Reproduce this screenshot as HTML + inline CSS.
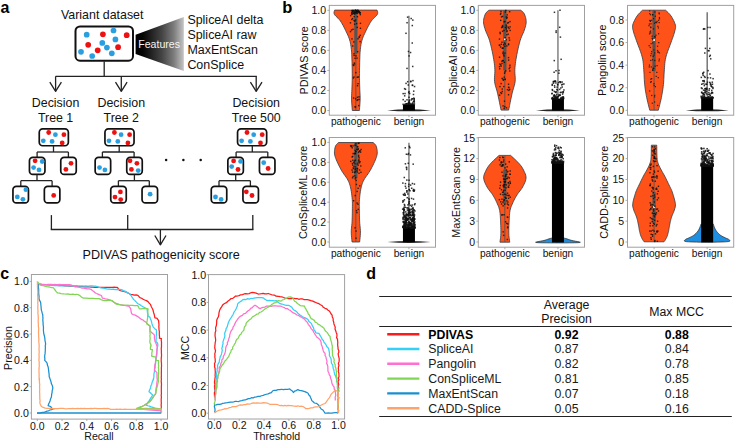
<!DOCTYPE html>
<html><head><meta charset="utf-8"><style>
html,body{margin:0;padding:0;background:#fff;width:735px;height:442px;overflow:hidden}
svg{display:block;font-family:"Liberation Sans", sans-serif}
</style></head><body>
<svg width="735" height="442" viewBox="0 0 735 442">
<rect width="735" height="442" fill="#fff"/>
<text x="0.5" y="12.6" font-size="16" text-anchor="start" font-weight="bold" fill="#000" >a</text>
<text x="61" y="18.6" font-size="12.4" text-anchor="start" font-weight="normal" fill="#111" >Variant dataset</text>
<rect x="75.50" y="26.50" width="57.50" height="34.20" rx="4.5" fill="#fff" stroke="#111" stroke-width="2.0"/>
<circle cx="86.7" cy="34.7" r="2.85" fill="#2a9fe0"/>
<circle cx="102.9" cy="34.3" r="2.85" fill="#ee1111"/>
<circle cx="113.5" cy="30.5" r="2.85" fill="#2a9fe0"/>
<circle cx="126.7" cy="35.2" r="2.85" fill="#ee1111"/>
<circle cx="88.2" cy="44.8" r="2.85" fill="#ee1111"/>
<circle cx="102.3" cy="42.9" r="2.85" fill="#2a9fe0"/>
<circle cx="115.4" cy="39.4" r="2.85" fill="#2a9fe0"/>
<circle cx="106.9" cy="47.6" r="2.85" fill="#2a9fe0"/>
<circle cx="118.1" cy="47.2" r="2.85" fill="#ee1111"/>
<circle cx="97.7" cy="50.3" r="2.85" fill="#ee1111"/>
<circle cx="81" cy="51.8" r="2.85" fill="#2a9fe0"/>
<circle cx="92.2" cy="56" r="2.85" fill="#2a9fe0"/>
<circle cx="111.8" cy="53.3" r="2.85" fill="#2a9fe0"/>
<defs><linearGradient id="fg" x1="0" x2="1" y1="0" y2="0"><stop offset="0" stop-color="#000"/><stop offset="0.15" stop-color="#050505"/><stop offset="0.55" stop-color="#454545"/><stop offset="0.8" stop-color="#7e7e7e"/><stop offset="1" stop-color="#c4c4c4"/></linearGradient></defs>
<polygon points="135.6,34.7 183.8,17.1 183.8,71 135.6,54.1" fill="url(#fg)"/>
<text x="138.2" y="47.9" font-size="10.6" text-anchor="start" font-weight="normal" fill="#f4f4f4" >Features</text>
<text x="187.4" y="24.2" font-size="12.45" text-anchor="start" font-weight="normal" fill="#111" >SpliceAI delta</text>
<text x="187.4" y="39.1" font-size="12.45" text-anchor="start" font-weight="normal" fill="#111" >SpliceAI raw</text>
<text x="187.4" y="54.2" font-size="12.45" text-anchor="start" font-weight="normal" fill="#111" >MaxEntScan</text>
<text x="187.4" y="68.9" font-size="12.45" text-anchor="start" font-weight="normal" fill="#111" >ConSplice</text>
<line x1="104.2" y1="61.3" x2="104.2" y2="76.3" stroke="#222" stroke-width="1.3"/>
<line x1="55.6" y1="76.3" x2="256.8" y2="76.3" stroke="#222" stroke-width="1.3"/>
<line x1="55.6" y1="76.3" x2="55.6" y2="91.3" stroke="#222" stroke-width="1.3"/>
<polyline points="49.80,82.20 55.60,91.30 61.40,82.20" fill="none" stroke="#222" stroke-width="1.3" stroke-linejoin="round"/>
<line x1="121.3" y1="76.3" x2="121.3" y2="91.3" stroke="#222" stroke-width="1.3"/>
<polyline points="115.50,82.20 121.30,91.30 127.10,82.20" fill="none" stroke="#222" stroke-width="1.3" stroke-linejoin="round"/>
<line x1="256.2" y1="76.3" x2="256.2" y2="91.3" stroke="#222" stroke-width="1.3"/>
<polyline points="250.40,82.20 256.20,91.30 262.00,82.20" fill="none" stroke="#222" stroke-width="1.3" stroke-linejoin="round"/>
<text x="55.6" y="106.6" font-size="12.4" text-anchor="middle" font-weight="normal" fill="#111" >Decision</text>
<text x="55.6" y="121.5" font-size="12.4" text-anchor="middle" font-weight="normal" fill="#111" >Tree 1</text>
<text x="121.3" y="106.6" font-size="12.4" text-anchor="middle" font-weight="normal" fill="#111" >Decision</text>
<text x="121.3" y="121.5" font-size="12.4" text-anchor="middle" font-weight="normal" fill="#111" >Tree 2</text>
<text x="256.2" y="106.6" font-size="12.4" text-anchor="middle" font-weight="normal" fill="#111" >Decision</text>
<text x="256.2" y="121.5" font-size="12.4" text-anchor="middle" font-weight="normal" fill="#111" >Tree 500</text>
<rect x="39.25" y="128.85" width="29.10" height="16.90" rx="3.4" fill="#fff" stroke="#111" stroke-width="1.7"/>
<circle cx="48.699999999999996" cy="132.5" r="2.4" fill="#ee1111"/>
<circle cx="55.4" cy="134.7" r="2.4" fill="#2a9fe0"/>
<circle cx="63.9" cy="134.7" r="2.4" fill="#ee1111"/>
<circle cx="43.3" cy="140.8" r="2.4" fill="#2a9fe0"/>
<circle cx="52.099999999999994" cy="141.4" r="2.4" fill="#2a9fe0"/>
<circle cx="62.199999999999996" cy="142.9" r="2.4" fill="#ee1111"/>
<line x1="53.5" y1="146" x2="53.5" y2="152" stroke="#222" stroke-width="1.3"/>
<line x1="37.1" y1="152" x2="68.4" y2="152" stroke="#222" stroke-width="1.3"/>
<line x1="37.1" y1="152" x2="37.1" y2="157.5" stroke="#222" stroke-width="1.3"/>
<line x1="68.4" y1="152" x2="68.4" y2="157.5" stroke="#222" stroke-width="1.3"/>
<rect x="29.45" y="157.45" width="15.50" height="16.90" rx="3.4" fill="#fff" stroke="#111" stroke-width="1.7"/>
<rect x="60.75" y="157.45" width="15.50" height="16.90" rx="3.4" fill="#fff" stroke="#111" stroke-width="1.7"/>
<circle cx="35.1" cy="160.8" r="2.4" fill="#ee1111"/>
<circle cx="42.2" cy="161.5" r="2.4" fill="#2a9fe0"/>
<circle cx="33.6" cy="167.6" r="2.4" fill="#2a9fe0"/>
<circle cx="39" cy="169.9" r="2.4" fill="#2a9fe0"/>
<circle cx="71" cy="163.3" r="2.4" fill="#ee1111"/>
<circle cx="65.9" cy="169.4" r="2.4" fill="#ee1111"/>
<line x1="37" y1="174.5" x2="37" y2="180.7" stroke="#222" stroke-width="1.3"/>
<line x1="20.8" y1="180.7" x2="52.1" y2="180.7" stroke="#222" stroke-width="1.3"/>
<line x1="20.8" y1="180.7" x2="20.8" y2="186.5" stroke="#222" stroke-width="1.3"/>
<line x1="52.1" y1="180.7" x2="52.1" y2="186.5" stroke="#222" stroke-width="1.3"/>
<rect x="12.95" y="186.45" width="15.50" height="16.50" rx="3.4" fill="#fff" stroke="#111" stroke-width="1.7"/>
<rect x="44.35" y="186.45" width="15.50" height="16.50" rx="3.4" fill="#fff" stroke="#111" stroke-width="1.7"/>
<circle cx="25.9" cy="189.7" r="2.4" fill="#2a9fe0"/>
<circle cx="17.3" cy="196.9" r="2.4" fill="#2a9fe0"/>
<circle cx="22.9" cy="199.3" r="2.4" fill="#2a9fe0"/>
<circle cx="53.7" cy="195.4" r="2.4" fill="#ee1111"/>
<rect x="104.95" y="128.85" width="29.10" height="16.90" rx="3.4" fill="#fff" stroke="#111" stroke-width="1.7"/>
<circle cx="114.4" cy="132.5" r="2.4" fill="#ee1111"/>
<circle cx="121.1" cy="134.7" r="2.4" fill="#2a9fe0"/>
<circle cx="129.6" cy="134.7" r="2.4" fill="#ee1111"/>
<circle cx="109.0" cy="140.8" r="2.4" fill="#2a9fe0"/>
<circle cx="117.8" cy="141.4" r="2.4" fill="#2a9fe0"/>
<circle cx="127.9" cy="142.9" r="2.4" fill="#ee1111"/>
<line x1="119.2" y1="146" x2="119.2" y2="152" stroke="#222" stroke-width="1.3"/>
<line x1="102.4" y1="152" x2="134.1" y2="152" stroke="#222" stroke-width="1.3"/>
<line x1="102.4" y1="152" x2="102.4" y2="157.5" stroke="#222" stroke-width="1.3"/>
<line x1="134.1" y1="152" x2="134.1" y2="157.5" stroke="#222" stroke-width="1.3"/>
<rect x="95.15" y="157.45" width="15.50" height="16.90" rx="3.4" fill="#fff" stroke="#111" stroke-width="1.7"/>
<rect x="126.75" y="157.45" width="15.50" height="16.90" rx="3.4" fill="#fff" stroke="#111" stroke-width="1.7"/>
<circle cx="99.5" cy="167.6" r="2.4" fill="#2a9fe0"/>
<circle cx="104.9" cy="169.9" r="2.4" fill="#2a9fe0"/>
<circle cx="130" cy="160.8" r="2.4" fill="#ee1111"/>
<circle cx="136.9" cy="163.3" r="2.4" fill="#ee1111"/>
<circle cx="131.4" cy="169.4" r="2.4" fill="#ee1111"/>
<circle cx="138.2" cy="170.6" r="2.4" fill="#2a9fe0"/>
<line x1="134.4" y1="174.5" x2="134.4" y2="180.7" stroke="#222" stroke-width="1.3"/>
<line x1="118.4" y1="180.7" x2="149.3" y2="180.7" stroke="#222" stroke-width="1.3"/>
<line x1="118.4" y1="180.7" x2="118.4" y2="186.5" stroke="#222" stroke-width="1.3"/>
<line x1="149.3" y1="180.7" x2="149.3" y2="186.5" stroke="#222" stroke-width="1.3"/>
<rect x="110.75" y="186.45" width="15.50" height="16.50" rx="3.4" fill="#fff" stroke="#111" stroke-width="1.7"/>
<rect x="142.05" y="186.45" width="15.50" height="16.50" rx="3.4" fill="#fff" stroke="#111" stroke-width="1.7"/>
<circle cx="120.4" cy="191.9" r="2.4" fill="#ee1111"/>
<circle cx="115" cy="197.1" r="2.4" fill="#ee1111"/>
<circle cx="120.7" cy="199.6" r="2.4" fill="#ee1111"/>
<circle cx="150.1" cy="194.2" r="2.4" fill="#2a9fe0"/>
<rect x="237.55" y="128.85" width="29.10" height="16.90" rx="3.4" fill="#fff" stroke="#111" stroke-width="1.7"/>
<circle cx="247.0" cy="132.5" r="2.4" fill="#ee1111"/>
<circle cx="253.7" cy="134.7" r="2.4" fill="#2a9fe0"/>
<circle cx="262.2" cy="134.7" r="2.4" fill="#ee1111"/>
<circle cx="241.6" cy="140.8" r="2.4" fill="#2a9fe0"/>
<circle cx="250.4" cy="141.4" r="2.4" fill="#2a9fe0"/>
<circle cx="260.5" cy="142.9" r="2.4" fill="#ee1111"/>
<line x1="252.3" y1="146" x2="252.3" y2="152" stroke="#222" stroke-width="1.3"/>
<line x1="236.1" y1="152" x2="267.8" y2="152" stroke="#222" stroke-width="1.3"/>
<line x1="236.1" y1="152" x2="236.1" y2="157.5" stroke="#222" stroke-width="1.3"/>
<line x1="267.8" y1="152" x2="267.8" y2="157.5" stroke="#222" stroke-width="1.3"/>
<rect x="227.85" y="157.45" width="15.50" height="16.90" rx="3.4" fill="#fff" stroke="#111" stroke-width="1.7"/>
<rect x="259.45" y="157.45" width="15.50" height="16.90" rx="3.4" fill="#fff" stroke="#111" stroke-width="1.7"/>
<circle cx="233.6" cy="160.9" r="2.4" fill="#ee1111"/>
<circle cx="240.6" cy="161.4" r="2.4" fill="#2a9fe0"/>
<circle cx="231.7" cy="166.6" r="2.4" fill="#2a9fe0"/>
<circle cx="238" cy="169.5" r="2.4" fill="#ee1111"/>
<circle cx="263.7" cy="162.7" r="2.4" fill="#2a9fe0"/>
<circle cx="268.1" cy="168.5" r="2.4" fill="#ee1111"/>
<line x1="235.7" y1="174.5" x2="235.7" y2="180.7" stroke="#222" stroke-width="1.3"/>
<line x1="219" y1="180.7" x2="250.4" y2="180.7" stroke="#222" stroke-width="1.3"/>
<line x1="219" y1="180.7" x2="219" y2="186.5" stroke="#222" stroke-width="1.3"/>
<line x1="250.4" y1="180.7" x2="250.4" y2="186.5" stroke="#222" stroke-width="1.3"/>
<rect x="211.25" y="186.45" width="15.50" height="16.50" rx="3.4" fill="#fff" stroke="#111" stroke-width="1.7"/>
<rect x="242.95" y="186.45" width="15.50" height="16.50" rx="3.4" fill="#fff" stroke="#111" stroke-width="1.7"/>
<circle cx="215.5" cy="197" r="2.4" fill="#2a9fe0"/>
<circle cx="221.1" cy="199.4" r="2.4" fill="#2a9fe0"/>
<circle cx="246.3" cy="191.8" r="2.4" fill="#ee1111"/>
<circle cx="252" cy="195.5" r="2.4" fill="#ee1111"/>
<circle cx="166.1" cy="160.1" r="1.25" fill="#111"/>
<circle cx="183.4" cy="160.1" r="1.25" fill="#111"/>
<circle cx="200.7" cy="160.1" r="1.25" fill="#111"/>
<line x1="51.4" y1="215.1" x2="51.4" y2="229.5" stroke="#222" stroke-width="1.3"/>
<line x1="127.7" y1="215.1" x2="127.7" y2="229.5" stroke="#222" stroke-width="1.3"/>
<line x1="252.8" y1="215.1" x2="252.8" y2="229.5" stroke="#222" stroke-width="1.3"/>
<line x1="50.75" y1="229.5" x2="253.45" y2="229.5" stroke="#222" stroke-width="1.3"/>
<line x1="160.4" y1="229.5" x2="160.4" y2="244.8" stroke="#222" stroke-width="1.3"/>
<polyline points="154.80,235.50 160.40,244.80 166.00,235.50" fill="none" stroke="#222" stroke-width="1.3" stroke-linejoin="round"/>
<text x="82.5" y="259.4" font-size="12.6" text-anchor="start" font-weight="normal" fill="#111" >PDIVAS pathogenicity score</text>
<text x="282.3" y="13.2" font-size="16.5" text-anchor="start" font-weight="bold" fill="#000" >b</text>
<rect x="329.3" y="5.4" width="106.2" height="109.8" fill="none" stroke="#a0a0a0" stroke-width="1"/>
<line x1="327.3" y1="10.3" x2="329.3" y2="10.3" stroke="#999" stroke-width="0.8"/>
<text x="326.0" y="14.100000000000001" font-size="10.5" text-anchor="end" font-weight="normal" fill="#111" >1.0</text>
<line x1="327.3" y1="30.34" x2="329.3" y2="30.34" stroke="#999" stroke-width="0.8"/>
<text x="326.0" y="34.14" font-size="10.5" text-anchor="end" font-weight="normal" fill="#111" >0.8</text>
<line x1="327.3" y1="50.379999999999995" x2="329.3" y2="50.379999999999995" stroke="#999" stroke-width="0.8"/>
<text x="326.0" y="54.17999999999999" font-size="10.5" text-anchor="end" font-weight="normal" fill="#111" >0.6</text>
<line x1="327.3" y1="70.42" x2="329.3" y2="70.42" stroke="#999" stroke-width="0.8"/>
<text x="326.0" y="74.22" font-size="10.5" text-anchor="end" font-weight="normal" fill="#111" >0.4</text>
<line x1="327.3" y1="90.46" x2="329.3" y2="90.46" stroke="#999" stroke-width="0.8"/>
<text x="326.0" y="94.25999999999999" font-size="10.5" text-anchor="end" font-weight="normal" fill="#111" >0.2</text>
<line x1="327.3" y1="110.49999999999999" x2="329.3" y2="110.49999999999999" stroke="#999" stroke-width="0.8"/>
<text x="326.0" y="114.29999999999998" font-size="10.5" text-anchor="end" font-weight="normal" fill="#111" >0.0</text>
<line x1="355.85" y1="115.2" x2="355.85" y2="117.2" stroke="#999" stroke-width="0.8"/>
<line x1="408.95000000000005" y1="115.2" x2="408.95000000000005" y2="117.2" stroke="#999" stroke-width="0.8"/>
<text x="308.0" y="60.300000000000004" font-size="10.8" text-anchor="middle" font-weight="normal" fill="#111" transform="rotate(-90 308.0 60.300000000000004)">PDIVAS score</text>
<text x="355.85" y="124.8" font-size="10.2" text-anchor="middle" font-weight="normal" fill="#111" >pathogenic</text>
<text x="408.95000000000005" y="124.8" font-size="10.2" text-anchor="middle" font-weight="normal" fill="#111" >benign</text>
<path d="M334.65,10.10 L334.54,10.53 L334.34,11.10 L334.12,11.79 L333.99,12.57 L334.04,13.41 L334.35,14.30 L334.99,15.23 L335.91,16.21 L337.00,17.26 L338.17,18.39 L339.32,19.60 L340.35,20.90 L341.28,22.33 L342.20,23.88 L343.10,25.52 L343.97,27.20 L344.80,28.87 L345.60,30.50 L346.37,32.09 L347.13,33.68 L347.85,35.26 L348.52,36.84 L349.12,38.42 L349.65,40.00 L350.08,41.56 L350.43,43.10 L350.72,44.63 L350.95,46.18 L351.16,47.77 L351.35,49.40 L351.52,51.03 L351.64,52.64 L351.74,54.29 L351.81,56.02 L351.88,57.91 L351.95,60.00 L352.02,62.40 L352.09,65.08 L352.16,67.91 L352.21,70.76 L352.24,73.50 L352.25,76.00 L352.24,78.24 L352.20,80.34 L352.14,82.32 L352.08,84.23 L352.01,86.11 L351.95,88.00 L351.88,89.87 L351.78,91.69 L351.68,93.47 L351.60,95.26 L351.55,97.06 L351.55,98.90 L351.62,100.93 L351.74,103.14 L351.90,105.38 L352.06,107.47 L352.21,109.23 L352.30,110.50 L359.40,110.50 L359.49,109.23 L359.64,107.47 L359.80,105.38 L359.96,103.14 L360.08,100.93 L360.15,98.90 L360.15,97.06 L360.10,95.26 L360.02,93.47 L359.92,91.69 L359.82,89.87 L359.75,88.00 L359.69,86.11 L359.62,84.23 L359.56,82.32 L359.50,80.34 L359.46,78.24 L359.45,76.00 L359.46,73.50 L359.49,70.76 L359.54,67.91 L359.61,65.08 L359.68,62.40 L359.75,60.00 L359.82,57.91 L359.89,56.02 L359.96,54.29 L360.06,52.64 L360.18,51.03 L360.35,49.40 L360.54,47.77 L360.75,46.18 L360.98,44.63 L361.27,43.10 L361.62,41.56 L362.05,40.00 L362.58,38.42 L363.18,36.84 L363.85,35.26 L364.57,33.68 L365.33,32.09 L366.10,30.50 L366.90,28.87 L367.73,27.20 L368.60,25.52 L369.50,23.88 L370.42,22.33 L371.35,20.90 L372.38,19.60 L373.53,18.39 L374.70,17.26 L375.79,16.21 L376.71,15.23 L377.35,14.30 L377.66,13.41 L377.71,12.57 L377.58,11.79 L377.36,11.10 L377.16,10.53 L377.05,10.10 Z" fill="#ff5218" stroke="#333a44" stroke-width="0.8"/>
<line x1="355.85" y1="10.2" x2="355.85" y2="110.5" stroke="#555" stroke-width="0.9"/>
<rect x="354.25" y="10.2" width="3.2" height="43.5" fill="#555"/>
<g><rect x="352.01" y="10.73" width="1.40" height="1.40" fill="#111" opacity="0.85"/><rect x="351.30" y="11.97" width="1.40" height="1.40" fill="#111" opacity="0.85"/><rect x="353.94" y="11.54" width="1.40" height="1.40" fill="#111" opacity="0.85"/><rect x="355.22" y="9.72" width="1.40" height="1.40" fill="#111" opacity="0.85"/><rect x="354.55" y="9.64" width="1.40" height="1.40" fill="#111" opacity="0.85"/><rect x="351.47" y="9.77" width="1.40" height="1.40" fill="#111" opacity="0.85"/><rect x="358.09" y="11.11" width="1.40" height="1.40" fill="#111" opacity="0.85"/><rect x="352.66" y="9.97" width="1.40" height="1.40" fill="#111" opacity="0.85"/><rect x="359.18" y="11.88" width="1.40" height="1.40" fill="#111" opacity="0.85"/><rect x="354.22" y="11.69" width="1.40" height="1.40" fill="#111" opacity="0.85"/><rect x="351.07" y="13.21" width="1.40" height="1.40" fill="#111" opacity="0.85"/><rect x="353.26" y="12.76" width="1.40" height="1.40" fill="#111" opacity="0.85"/><rect x="351.71" y="10.05" width="1.40" height="1.40" fill="#111" opacity="0.85"/><rect x="358.00" y="10.67" width="1.40" height="1.40" fill="#111" opacity="0.85"/><rect x="355.88" y="10.19" width="1.40" height="1.40" fill="#111" opacity="0.85"/><rect x="354.00" y="11.93" width="1.40" height="1.40" fill="#111" opacity="0.85"/><rect x="351.22" y="11.58" width="1.40" height="1.40" fill="#111" opacity="0.85"/><rect x="352.50" y="9.73" width="1.40" height="1.40" fill="#111" opacity="0.85"/><rect x="354.50" y="12.09" width="1.40" height="1.40" fill="#111" opacity="0.85"/><rect x="355.92" y="10.69" width="1.40" height="1.40" fill="#111" opacity="0.85"/><rect x="353.35" y="11.22" width="1.40" height="1.40" fill="#111" opacity="0.85"/><rect x="356.94" y="12.52" width="1.40" height="1.40" fill="#111" opacity="0.85"/><rect x="355.82" y="10.43" width="1.40" height="1.40" fill="#111" opacity="0.85"/><rect x="358.53" y="11.50" width="1.40" height="1.40" fill="#111" opacity="0.85"/><rect x="353.24" y="12.27" width="1.40" height="1.40" fill="#111" opacity="0.85"/><rect x="351.71" y="13.22" width="1.40" height="1.40" fill="#111" opacity="0.85"/><rect x="357.46" y="11.09" width="1.40" height="1.40" fill="#111" opacity="0.85"/><rect x="355.05" y="10.08" width="1.40" height="1.40" fill="#111" opacity="0.85"/><rect x="356.66" y="9.65" width="1.40" height="1.40" fill="#111" opacity="0.85"/><rect x="355.81" y="12.41" width="1.40" height="1.40" fill="#111" opacity="0.85"/><rect x="353.47" y="12.83" width="1.40" height="1.40" fill="#111" opacity="0.85"/><rect x="356.00" y="12.14" width="1.40" height="1.40" fill="#111" opacity="0.85"/><rect x="354.76" y="11.70" width="1.40" height="1.40" fill="#111" opacity="0.85"/><rect x="359.15" y="12.69" width="1.40" height="1.40" fill="#111" opacity="0.85"/><rect x="356.63" y="11.30" width="1.40" height="1.40" fill="#111" opacity="0.85"/><rect x="356.96" y="9.73" width="1.40" height="1.40" fill="#111" opacity="0.85"/><rect x="359.59" y="11.96" width="1.40" height="1.40" fill="#111" opacity="0.85"/><rect x="353.21" y="12.62" width="1.40" height="1.40" fill="#111" opacity="0.85"/><rect x="356.67" y="10.97" width="1.40" height="1.40" fill="#111" opacity="0.85"/><rect x="354.81" y="9.59" width="1.40" height="1.40" fill="#111" opacity="0.85"/><rect x="351.70" y="10.14" width="1.40" height="1.40" fill="#111" opacity="0.85"/><rect x="357.56" y="9.72" width="1.40" height="1.40" fill="#111" opacity="0.85"/><rect x="352.88" y="9.99" width="1.40" height="1.40" fill="#111" opacity="0.85"/><rect x="358.49" y="10.99" width="1.40" height="1.40" fill="#111" opacity="0.85"/><rect x="354.69" y="9.81" width="1.40" height="1.40" fill="#111" opacity="0.85"/></g>
<g><rect x="359.75" y="27.59" width="1.40" height="1.40" fill="#111" opacity="0.85"/><rect x="359.52" y="34.60" width="1.40" height="1.40" fill="#111" opacity="0.85"/><rect x="354.13" y="20.54" width="1.40" height="1.40" fill="#111" opacity="0.85"/><rect x="359.76" y="22.63" width="1.40" height="1.40" fill="#111" opacity="0.85"/><rect x="351.26" y="38.20" width="1.40" height="1.40" fill="#111" opacity="0.85"/><rect x="351.93" y="17.88" width="1.40" height="1.40" fill="#111" opacity="0.85"/><rect x="354.97" y="19.37" width="1.40" height="1.40" fill="#111" opacity="0.85"/><rect x="352.30" y="28.62" width="1.40" height="1.40" fill="#111" opacity="0.85"/><rect x="354.18" y="13.41" width="1.40" height="1.40" fill="#111" opacity="0.85"/><rect x="355.95" y="22.90" width="1.40" height="1.40" fill="#111" opacity="0.85"/><rect x="357.29" y="38.08" width="1.40" height="1.40" fill="#111" opacity="0.85"/><rect x="356.56" y="26.70" width="1.40" height="1.40" fill="#111" opacity="0.85"/><rect x="349.80" y="30.88" width="1.40" height="1.40" fill="#111" opacity="0.85"/><rect x="358.51" y="36.69" width="1.40" height="1.40" fill="#111" opacity="0.85"/><rect x="358.72" y="36.04" width="1.40" height="1.40" fill="#111" opacity="0.85"/><rect x="353.94" y="23.50" width="1.40" height="1.40" fill="#111" opacity="0.85"/><rect x="356.76" y="15.99" width="1.40" height="1.40" fill="#111" opacity="0.85"/><rect x="349.96" y="14.92" width="1.40" height="1.40" fill="#111" opacity="0.85"/><rect x="351.10" y="18.73" width="1.40" height="1.40" fill="#111" opacity="0.85"/><rect x="349.78" y="22.14" width="1.40" height="1.40" fill="#111" opacity="0.85"/><rect x="350.97" y="13.31" width="1.40" height="1.40" fill="#111" opacity="0.85"/><rect x="353.51" y="15.94" width="1.40" height="1.40" fill="#111" opacity="0.85"/><rect x="359.64" y="13.96" width="1.40" height="1.40" fill="#111" opacity="0.85"/><rect x="350.93" y="29.27" width="1.40" height="1.40" fill="#111" opacity="0.85"/><rect x="353.32" y="19.86" width="1.40" height="1.40" fill="#111" opacity="0.85"/></g>
<g><rect x="353.08" y="64.79" width="1.40" height="1.40" fill="#111" opacity="0.85"/><rect x="358.39" y="98.73" width="1.40" height="1.40" fill="#111" opacity="0.85"/><rect x="355.07" y="71.92" width="1.40" height="1.40" fill="#111" opacity="0.85"/><rect x="352.03" y="45.31" width="1.40" height="1.40" fill="#111" opacity="0.85"/><rect x="353.84" y="63.28" width="1.40" height="1.40" fill="#111" opacity="0.85"/><rect x="352.92" y="97.32" width="1.40" height="1.40" fill="#111" opacity="0.85"/><rect x="359.44" y="40.92" width="1.40" height="1.40" fill="#111" opacity="0.85"/><rect x="353.31" y="76.28" width="1.40" height="1.40" fill="#111" opacity="0.85"/><rect x="352.68" y="77.32" width="1.40" height="1.40" fill="#111" opacity="0.85"/><rect x="357.64" y="76.27" width="1.40" height="1.40" fill="#111" opacity="0.85"/><rect x="356.42" y="99.73" width="1.40" height="1.40" fill="#111" opacity="0.85"/><rect x="354.36" y="57.58" width="1.40" height="1.40" fill="#111" opacity="0.85"/><rect x="356.93" y="50.99" width="1.40" height="1.40" fill="#111" opacity="0.85"/><rect x="356.61" y="76.58" width="1.40" height="1.40" fill="#111" opacity="0.85"/><rect x="353.59" y="62.38" width="1.40" height="1.40" fill="#111" opacity="0.85"/><rect x="358.34" y="96.11" width="1.40" height="1.40" fill="#111" opacity="0.85"/><rect x="357.15" y="98.98" width="1.40" height="1.40" fill="#111" opacity="0.85"/><rect x="356.73" y="96.58" width="1.40" height="1.40" fill="#111" opacity="0.85"/><rect x="355.26" y="55.17" width="1.40" height="1.40" fill="#111" opacity="0.85"/><rect x="352.55" y="64.19" width="1.40" height="1.40" fill="#111" opacity="0.85"/><rect x="353.09" y="41.26" width="1.40" height="1.40" fill="#111" opacity="0.85"/><rect x="356.29" y="57.44" width="1.40" height="1.40" fill="#111" opacity="0.85"/><rect x="354.85" y="106.26" width="1.40" height="1.40" fill="#111" opacity="0.85"/><rect x="358.01" y="104.89" width="1.40" height="1.40" fill="#111" opacity="0.85"/><rect x="354.38" y="106.15" width="1.40" height="1.40" fill="#111" opacity="0.85"/><rect x="353.48" y="54.73" width="1.40" height="1.40" fill="#111" opacity="0.85"/><rect x="353.29" y="53.07" width="1.40" height="1.40" fill="#111" opacity="0.85"/><rect x="357.35" y="82.98" width="1.40" height="1.40" fill="#111" opacity="0.85"/><rect x="355.01" y="98.13" width="1.40" height="1.40" fill="#111" opacity="0.85"/><rect x="356.84" y="85.01" width="1.40" height="1.40" fill="#111" opacity="0.85"/></g>
<line x1="408.95000000000005" y1="15.8" x2="408.95000000000005" y2="110.3" stroke="#555" stroke-width="1.1"/>
<path d="M387.05,110.4 Q408.95,108.0 430.85,110.4 Q408.95,112.2 387.05,110.4 Z" fill="#262626"/>
<rect x="402.95000000000005" y="104.6" width="12" height="6" fill="#000"/>
<g><rect x="410.13" y="103.70" width="1.50" height="1.50" fill="#111" opacity="0.85"/><rect x="411.59" y="84.41" width="1.50" height="1.50" fill="#111" opacity="0.85"/><rect x="407.94" y="91.81" width="1.50" height="1.50" fill="#111" opacity="0.85"/><rect x="411.67" y="103.42" width="1.50" height="1.50" fill="#111" opacity="0.85"/><rect x="411.81" y="102.19" width="1.50" height="1.50" fill="#111" opacity="0.85"/><rect x="406.95" y="80.95" width="1.50" height="1.50" fill="#111" opacity="0.85"/><rect x="413.56" y="101.25" width="1.50" height="1.50" fill="#111" opacity="0.85"/><rect x="404.24" y="92.79" width="1.50" height="1.50" fill="#111" opacity="0.85"/><rect x="404.01" y="103.61" width="1.50" height="1.50" fill="#111" opacity="0.85"/><rect x="411.88" y="84.67" width="1.50" height="1.50" fill="#111" opacity="0.85"/><rect x="412.12" y="103.55" width="1.50" height="1.50" fill="#111" opacity="0.85"/><rect x="410.09" y="80.44" width="1.50" height="1.50" fill="#111" opacity="0.85"/><rect x="408.78" y="101.97" width="1.50" height="1.50" fill="#111" opacity="0.85"/><rect x="402.37" y="103.60" width="1.50" height="1.50" fill="#111" opacity="0.85"/><rect x="410.00" y="80.99" width="1.50" height="1.50" fill="#111" opacity="0.85"/><rect x="413.40" y="98.82" width="1.50" height="1.50" fill="#111" opacity="0.85"/><rect x="412.66" y="100.71" width="1.50" height="1.50" fill="#111" opacity="0.85"/><rect x="404.73" y="88.55" width="1.50" height="1.50" fill="#111" opacity="0.85"/><rect x="405.72" y="102.97" width="1.50" height="1.50" fill="#111" opacity="0.85"/><rect x="409.24" y="103.05" width="1.50" height="1.50" fill="#111" opacity="0.85"/><rect x="407.23" y="102.91" width="1.50" height="1.50" fill="#111" opacity="0.85"/><rect x="413.12" y="103.60" width="1.50" height="1.50" fill="#111" opacity="0.85"/><rect x="407.70" y="101.93" width="1.50" height="1.50" fill="#111" opacity="0.85"/><rect x="413.05" y="97.38" width="1.50" height="1.50" fill="#111" opacity="0.85"/><rect x="413.21" y="100.94" width="1.50" height="1.50" fill="#111" opacity="0.85"/><rect x="408.58" y="99.38" width="1.50" height="1.50" fill="#111" opacity="0.85"/><rect x="402.42" y="98.89" width="1.50" height="1.50" fill="#111" opacity="0.85"/><rect x="404.40" y="100.60" width="1.50" height="1.50" fill="#111" opacity="0.85"/><rect x="411.79" y="103.75" width="1.50" height="1.50" fill="#111" opacity="0.85"/><rect x="407.88" y="103.45" width="1.50" height="1.50" fill="#111" opacity="0.85"/><rect x="408.88" y="92.78" width="1.50" height="1.50" fill="#111" opacity="0.85"/><rect x="408.42" y="102.26" width="1.50" height="1.50" fill="#111" opacity="0.85"/><rect x="411.61" y="98.12" width="1.50" height="1.50" fill="#111" opacity="0.85"/><rect x="408.92" y="103.66" width="1.50" height="1.50" fill="#111" opacity="0.85"/><rect x="405.52" y="103.00" width="1.50" height="1.50" fill="#111" opacity="0.85"/><rect x="408.29" y="90.91" width="1.50" height="1.50" fill="#111" opacity="0.85"/><rect x="411.32" y="97.96" width="1.50" height="1.50" fill="#111" opacity="0.85"/><rect x="407.52" y="84.26" width="1.50" height="1.50" fill="#111" opacity="0.85"/><rect x="408.27" y="96.56" width="1.50" height="1.50" fill="#111" opacity="0.85"/><rect x="410.51" y="99.15" width="1.50" height="1.50" fill="#111" opacity="0.85"/><rect x="408.60" y="100.38" width="1.50" height="1.50" fill="#111" opacity="0.85"/><rect x="413.50" y="99.88" width="1.50" height="1.50" fill="#111" opacity="0.85"/><rect x="412.72" y="93.73" width="1.50" height="1.50" fill="#111" opacity="0.85"/><rect x="405.32" y="82.64" width="1.50" height="1.50" fill="#111" opacity="0.85"/><rect x="413.52" y="98.01" width="1.50" height="1.50" fill="#111" opacity="0.85"/><rect x="403.85" y="87.91" width="1.50" height="1.50" fill="#111" opacity="0.85"/><rect x="407.51" y="103.62" width="1.50" height="1.50" fill="#111" opacity="0.85"/><rect x="405.09" y="103.72" width="1.50" height="1.50" fill="#111" opacity="0.85"/><rect x="410.23" y="103.71" width="1.50" height="1.50" fill="#111" opacity="0.85"/><rect x="412.96" y="90.42" width="1.50" height="1.50" fill="#111" opacity="0.85"/><rect x="410.79" y="103.52" width="1.50" height="1.50" fill="#111" opacity="0.85"/><rect x="403.92" y="95.07" width="1.50" height="1.50" fill="#111" opacity="0.85"/><rect x="413.81" y="85.81" width="1.50" height="1.50" fill="#111" opacity="0.85"/><rect x="413.63" y="103.20" width="1.50" height="1.50" fill="#111" opacity="0.85"/><rect x="408.05" y="101.30" width="1.50" height="1.50" fill="#111" opacity="0.85"/><rect x="412.19" y="79.87" width="1.50" height="1.50" fill="#111" opacity="0.85"/><rect x="407.38" y="103.49" width="1.50" height="1.50" fill="#111" opacity="0.85"/><rect x="406.27" y="99.07" width="1.50" height="1.50" fill="#111" opacity="0.85"/><rect x="406.02" y="103.33" width="1.50" height="1.50" fill="#111" opacity="0.85"/><rect x="402.43" y="92.89" width="1.50" height="1.50" fill="#111" opacity="0.85"/></g>
<g><rect x="407.72" y="50.71" width="1.50" height="1.50" fill="#111" opacity="0.85"/><rect x="406.85" y="16.41" width="1.50" height="1.50" fill="#111" opacity="0.85"/><rect x="408.30" y="55.18" width="1.50" height="1.50" fill="#111" opacity="0.85"/><rect x="412.08" y="19.36" width="1.50" height="1.50" fill="#111" opacity="0.85"/><rect x="411.97" y="65.71" width="1.50" height="1.50" fill="#111" opacity="0.85"/><rect x="406.32" y="21.96" width="1.50" height="1.50" fill="#111" opacity="0.85"/><rect x="410.43" y="17.78" width="1.50" height="1.50" fill="#111" opacity="0.85"/><rect x="405.24" y="32.56" width="1.50" height="1.50" fill="#111" opacity="0.85"/><rect x="411.49" y="42.27" width="1.50" height="1.50" fill="#111" opacity="0.85"/><rect x="406.27" y="67.66" width="1.50" height="1.50" fill="#111" opacity="0.85"/><rect x="411.55" y="24.81" width="1.50" height="1.50" fill="#111" opacity="0.85"/><rect x="409.80" y="51.77" width="1.50" height="1.50" fill="#111" opacity="0.85"/></g>
<rect x="478.3" y="5.4" width="106.2" height="109.8" fill="none" stroke="#a0a0a0" stroke-width="1"/>
<line x1="476.3" y1="10.3" x2="478.3" y2="10.3" stroke="#999" stroke-width="0.8"/>
<text x="475.0" y="14.100000000000001" font-size="10.5" text-anchor="end" font-weight="normal" fill="#111" >1.0</text>
<line x1="476.3" y1="30.34" x2="478.3" y2="30.34" stroke="#999" stroke-width="0.8"/>
<text x="475.0" y="34.14" font-size="10.5" text-anchor="end" font-weight="normal" fill="#111" >0.8</text>
<line x1="476.3" y1="50.379999999999995" x2="478.3" y2="50.379999999999995" stroke="#999" stroke-width="0.8"/>
<text x="475.0" y="54.17999999999999" font-size="10.5" text-anchor="end" font-weight="normal" fill="#111" >0.6</text>
<line x1="476.3" y1="70.42" x2="478.3" y2="70.42" stroke="#999" stroke-width="0.8"/>
<text x="475.0" y="74.22" font-size="10.5" text-anchor="end" font-weight="normal" fill="#111" >0.4</text>
<line x1="476.3" y1="90.46" x2="478.3" y2="90.46" stroke="#999" stroke-width="0.8"/>
<text x="475.0" y="94.25999999999999" font-size="10.5" text-anchor="end" font-weight="normal" fill="#111" >0.2</text>
<line x1="476.3" y1="110.49999999999999" x2="478.3" y2="110.49999999999999" stroke="#999" stroke-width="0.8"/>
<text x="475.0" y="114.29999999999998" font-size="10.5" text-anchor="end" font-weight="normal" fill="#111" >0.0</text>
<line x1="504.85" y1="115.2" x2="504.85" y2="117.2" stroke="#999" stroke-width="0.8"/>
<line x1="557.95" y1="115.2" x2="557.95" y2="117.2" stroke="#999" stroke-width="0.8"/>
<text x="456.8" y="60.300000000000004" font-size="10.8" text-anchor="middle" font-weight="normal" fill="#111" transform="rotate(-90 456.8 60.300000000000004)">SpliceAI score</text>
<text x="504.85" y="124.8" font-size="10.2" text-anchor="middle" font-weight="normal" fill="#111" >pathogenic</text>
<text x="557.95" y="124.8" font-size="10.2" text-anchor="middle" font-weight="normal" fill="#111" >benign</text>
<path d="M488.85,10.20 L488.45,10.57 L487.88,11.04 L487.22,11.62 L486.52,12.30 L485.88,13.10 L485.35,14.00 L484.90,15.05 L484.47,16.26 L484.09,17.57 L483.78,18.94 L483.58,20.34 L483.50,21.70 L483.57,23.02 L483.75,24.33 L484.04,25.66 L484.42,27.03 L484.86,28.47 L485.35,30.00 L485.93,31.58 L486.61,33.18 L487.36,34.85 L488.14,36.63 L488.90,38.56 L489.60,40.70 L490.27,43.13 L490.95,45.85 L491.62,48.73 L492.25,51.63 L492.81,54.43 L493.30,57.00 L493.70,59.34 L494.04,61.53 L494.33,63.63 L494.55,65.67 L494.72,67.68 L494.85,69.70 L494.87,71.72 L494.76,73.70 L494.61,75.66 L494.47,77.61 L494.43,79.55 L494.55,81.50 L494.85,83.40 L495.29,85.21 L495.81,87.03 L496.39,88.92 L496.98,90.95 L497.55,93.20 L498.14,95.91 L498.81,99.07 L499.49,102.38 L500.12,105.53 L500.66,108.20 L501.05,110.10 L508.65,110.10 L509.04,108.20 L509.58,105.53 L510.21,102.38 L510.89,99.07 L511.56,95.91 L512.15,93.20 L512.72,90.95 L513.31,88.92 L513.89,87.03 L514.41,85.21 L514.85,83.40 L515.15,81.50 L515.27,79.55 L515.23,77.61 L515.09,75.66 L514.94,73.70 L514.83,71.72 L514.85,69.70 L514.98,67.68 L515.15,65.67 L515.38,63.63 L515.66,61.53 L516.00,59.34 L516.40,57.00 L516.89,54.43 L517.45,51.63 L518.08,48.73 L518.75,45.85 L519.43,43.13 L520.10,40.70 L520.80,38.56 L521.56,36.63 L522.34,34.85 L523.09,33.18 L523.77,31.58 L524.35,30.00 L524.84,28.47 L525.28,27.03 L525.66,25.66 L525.95,24.33 L526.13,23.02 L526.20,21.70 L526.12,20.34 L525.92,18.94 L525.61,17.57 L525.23,16.26 L524.80,15.05 L524.35,14.00 L523.82,13.10 L523.18,12.30 L522.48,11.62 L521.82,11.04 L521.25,10.57 L520.85,10.20 Z" fill="#ff5218" stroke="#333a44" stroke-width="0.8"/>
<line x1="504.85" y1="10.2" x2="504.85" y2="110.2" stroke="#555" stroke-width="0.9"/>
<rect x="503.25" y="10.2" width="3.2" height="60.2" fill="#555"/>
<circle cx="504.85" cy="39.3" r="1" fill="#fff"/>
<g><rect x="499.28" y="85.90" width="1.40" height="1.40" fill="#111" opacity="0.85"/><rect x="503.33" y="29.70" width="1.40" height="1.40" fill="#111" opacity="0.85"/><rect x="508.97" y="88.69" width="1.40" height="1.40" fill="#111" opacity="0.85"/><rect x="507.47" y="33.50" width="1.40" height="1.40" fill="#111" opacity="0.85"/><rect x="508.07" y="86.81" width="1.40" height="1.40" fill="#111" opacity="0.85"/><rect x="508.14" y="89.69" width="1.40" height="1.40" fill="#111" opacity="0.85"/><rect x="502.38" y="47.30" width="1.40" height="1.40" fill="#111" opacity="0.85"/><rect x="508.84" y="39.49" width="1.40" height="1.40" fill="#111" opacity="0.85"/><rect x="500.07" y="64.11" width="1.40" height="1.40" fill="#111" opacity="0.85"/><rect x="501.27" y="41.49" width="1.40" height="1.40" fill="#111" opacity="0.85"/><rect x="500.43" y="82.89" width="1.40" height="1.40" fill="#111" opacity="0.85"/><rect x="500.87" y="92.72" width="1.40" height="1.40" fill="#111" opacity="0.85"/><rect x="502.01" y="59.78" width="1.40" height="1.40" fill="#111" opacity="0.85"/><rect x="501.84" y="24.85" width="1.40" height="1.40" fill="#111" opacity="0.85"/><rect x="500.61" y="43.58" width="1.40" height="1.40" fill="#111" opacity="0.85"/><rect x="498.85" y="56.52" width="1.40" height="1.40" fill="#111" opacity="0.85"/><rect x="498.82" y="65.90" width="1.40" height="1.40" fill="#111" opacity="0.85"/><rect x="504.71" y="26.63" width="1.40" height="1.40" fill="#111" opacity="0.85"/><rect x="503.87" y="72.59" width="1.40" height="1.40" fill="#111" opacity="0.85"/><rect x="499.82" y="13.66" width="1.40" height="1.40" fill="#111" opacity="0.85"/><rect x="503.40" y="20.95" width="1.40" height="1.40" fill="#111" opacity="0.85"/><rect x="507.83" y="43.98" width="1.40" height="1.40" fill="#111" opacity="0.85"/><rect x="504.22" y="52.42" width="1.40" height="1.40" fill="#111" opacity="0.85"/><rect x="509.46" y="29.74" width="1.40" height="1.40" fill="#111" opacity="0.85"/><rect x="507.81" y="56.91" width="1.40" height="1.40" fill="#111" opacity="0.85"/><rect x="505.65" y="28.43" width="1.40" height="1.40" fill="#111" opacity="0.85"/><rect x="502.47" y="51.42" width="1.40" height="1.40" fill="#111" opacity="0.85"/><rect x="500.08" y="91.94" width="1.40" height="1.40" fill="#111" opacity="0.85"/><rect x="506.80" y="88.98" width="1.40" height="1.40" fill="#111" opacity="0.85"/><rect x="500.45" y="65.37" width="1.40" height="1.40" fill="#111" opacity="0.85"/><rect x="507.90" y="86.69" width="1.40" height="1.40" fill="#111" opacity="0.85"/><rect x="506.03" y="17.65" width="1.40" height="1.40" fill="#111" opacity="0.85"/><rect x="501.31" y="62.70" width="1.40" height="1.40" fill="#111" opacity="0.85"/><rect x="503.70" y="61.61" width="1.40" height="1.40" fill="#111" opacity="0.85"/><rect x="503.55" y="76.44" width="1.40" height="1.40" fill="#111" opacity="0.85"/><rect x="509.23" y="64.58" width="1.40" height="1.40" fill="#111" opacity="0.85"/><rect x="504.67" y="11.35" width="1.40" height="1.40" fill="#111" opacity="0.85"/><rect x="509.27" y="66.53" width="1.40" height="1.40" fill="#111" opacity="0.85"/><rect x="502.57" y="60.02" width="1.40" height="1.40" fill="#111" opacity="0.85"/><rect x="503.40" y="107.66" width="1.40" height="1.40" fill="#111" opacity="0.85"/><rect x="504.18" y="45.61" width="1.40" height="1.40" fill="#111" opacity="0.85"/><rect x="504.20" y="71.27" width="1.40" height="1.40" fill="#111" opacity="0.85"/><rect x="502.43" y="105.18" width="1.40" height="1.40" fill="#111" opacity="0.85"/><rect x="503.04" y="85.85" width="1.40" height="1.40" fill="#111" opacity="0.85"/><rect x="498.90" y="94.50" width="1.40" height="1.40" fill="#111" opacity="0.85"/><rect x="501.21" y="60.53" width="1.40" height="1.40" fill="#111" opacity="0.85"/><rect x="504.47" y="37.05" width="1.40" height="1.40" fill="#111" opacity="0.85"/><rect x="505.88" y="25.45" width="1.40" height="1.40" fill="#111" opacity="0.85"/><rect x="508.32" y="27.79" width="1.40" height="1.40" fill="#111" opacity="0.85"/><rect x="502.24" y="52.73" width="1.40" height="1.40" fill="#111" opacity="0.85"/><rect x="500.29" y="10.62" width="1.40" height="1.40" fill="#111" opacity="0.85"/><rect x="505.73" y="27.23" width="1.40" height="1.40" fill="#111" opacity="0.85"/><rect x="507.84" y="94.06" width="1.40" height="1.40" fill="#111" opacity="0.85"/><rect x="505.55" y="16.30" width="1.40" height="1.40" fill="#111" opacity="0.85"/><rect x="507.58" y="26.58" width="1.40" height="1.40" fill="#111" opacity="0.85"/><rect x="504.41" y="78.78" width="1.40" height="1.40" fill="#111" opacity="0.85"/><rect x="507.83" y="43.24" width="1.40" height="1.40" fill="#111" opacity="0.85"/><rect x="507.74" y="21.88" width="1.40" height="1.40" fill="#111" opacity="0.85"/><rect x="508.47" y="37.17" width="1.40" height="1.40" fill="#111" opacity="0.85"/><rect x="506.28" y="30.07" width="1.40" height="1.40" fill="#111" opacity="0.85"/><rect x="498.99" y="68.07" width="1.40" height="1.40" fill="#111" opacity="0.85"/><rect x="502.62" y="79.60" width="1.40" height="1.40" fill="#111" opacity="0.85"/><rect x="507.84" y="83.55" width="1.40" height="1.40" fill="#111" opacity="0.85"/><rect x="505.56" y="39.08" width="1.40" height="1.40" fill="#111" opacity="0.85"/><rect x="506.14" y="34.09" width="1.40" height="1.40" fill="#111" opacity="0.85"/><rect x="498.69" y="44.44" width="1.40" height="1.40" fill="#111" opacity="0.85"/><rect x="506.88" y="22.33" width="1.40" height="1.40" fill="#111" opacity="0.85"/><rect x="504.54" y="43.35" width="1.40" height="1.40" fill="#111" opacity="0.85"/><rect x="499.38" y="31.73" width="1.40" height="1.40" fill="#111" opacity="0.85"/><rect x="501.42" y="26.38" width="1.40" height="1.40" fill="#111" opacity="0.85"/><rect x="501.57" y="88.34" width="1.40" height="1.40" fill="#111" opacity="0.85"/><rect x="500.91" y="26.88" width="1.40" height="1.40" fill="#111" opacity="0.85"/><rect x="509.38" y="26.17" width="1.40" height="1.40" fill="#111" opacity="0.85"/><rect x="502.86" y="44.07" width="1.40" height="1.40" fill="#111" opacity="0.85"/><rect x="506.17" y="45.26" width="1.40" height="1.40" fill="#111" opacity="0.85"/><rect x="505.44" y="24.36" width="1.40" height="1.40" fill="#111" opacity="0.85"/><rect x="499.50" y="32.90" width="1.40" height="1.40" fill="#111" opacity="0.85"/><rect x="501.44" y="77.72" width="1.40" height="1.40" fill="#111" opacity="0.85"/><rect x="502.00" y="25.95" width="1.40" height="1.40" fill="#111" opacity="0.85"/><rect x="498.79" y="38.38" width="1.40" height="1.40" fill="#111" opacity="0.85"/><rect x="501.61" y="90.76" width="1.40" height="1.40" fill="#111" opacity="0.85"/><rect x="506.26" y="30.83" width="1.40" height="1.40" fill="#111" opacity="0.85"/><rect x="501.85" y="30.57" width="1.40" height="1.40" fill="#111" opacity="0.85"/><rect x="503.76" y="42.29" width="1.40" height="1.40" fill="#111" opacity="0.85"/><rect x="499.95" y="46.28" width="1.40" height="1.40" fill="#111" opacity="0.85"/><rect x="500.84" y="16.20" width="1.40" height="1.40" fill="#111" opacity="0.85"/><rect x="508.95" y="11.01" width="1.40" height="1.40" fill="#111" opacity="0.85"/><rect x="503.77" y="100.51" width="1.40" height="1.40" fill="#111" opacity="0.85"/><rect x="509.30" y="20.89" width="1.40" height="1.40" fill="#111" opacity="0.85"/><rect x="501.61" y="47.66" width="1.40" height="1.40" fill="#111" opacity="0.85"/><rect x="509.05" y="70.27" width="1.40" height="1.40" fill="#111" opacity="0.85"/><rect x="505.05" y="70.17" width="1.40" height="1.40" fill="#111" opacity="0.85"/><rect x="504.41" y="78.46" width="1.40" height="1.40" fill="#111" opacity="0.85"/><rect x="500.11" y="12.55" width="1.40" height="1.40" fill="#111" opacity="0.85"/><rect x="504.25" y="20.87" width="1.40" height="1.40" fill="#111" opacity="0.85"/><rect x="506.39" y="16.62" width="1.40" height="1.40" fill="#111" opacity="0.85"/><rect x="508.52" y="67.91" width="1.40" height="1.40" fill="#111" opacity="0.85"/><rect x="498.92" y="44.69" width="1.40" height="1.40" fill="#111" opacity="0.85"/><rect x="504.09" y="105.90" width="1.40" height="1.40" fill="#111" opacity="0.85"/><rect x="501.97" y="47.55" width="1.40" height="1.40" fill="#111" opacity="0.85"/><rect x="502.43" y="78.59" width="1.40" height="1.40" fill="#111" opacity="0.85"/><rect x="507.89" y="59.40" width="1.40" height="1.40" fill="#111" opacity="0.85"/><rect x="505.79" y="107.10" width="1.40" height="1.40" fill="#111" opacity="0.85"/><rect x="499.97" y="19.65" width="1.40" height="1.40" fill="#111" opacity="0.85"/><rect x="506.49" y="14.17" width="1.40" height="1.40" fill="#111" opacity="0.85"/><rect x="501.84" y="15.70" width="1.40" height="1.40" fill="#111" opacity="0.85"/><rect x="502.97" y="54.25" width="1.40" height="1.40" fill="#111" opacity="0.85"/><rect x="505.13" y="9.77" width="1.40" height="1.40" fill="#111" opacity="0.85"/><rect x="503.36" y="55.28" width="1.40" height="1.40" fill="#111" opacity="0.85"/><rect x="499.18" y="63.38" width="1.40" height="1.40" fill="#111" opacity="0.85"/></g>
<line x1="557.95" y1="10.2" x2="557.95" y2="110.3" stroke="#555" stroke-width="1.1"/>
<path d="M535.95,110.4 Q557.95,108.0 579.95,110.4 Q557.95,112.2 535.95,110.4 Z" fill="#262626"/>
<rect x="551.95" y="98.7" width="12" height="11.8" fill="#000"/>
<g><rect x="561.22" y="98.17" width="1.50" height="1.50" fill="#111" opacity="0.85"/><rect x="562.43" y="97.31" width="1.50" height="1.50" fill="#111" opacity="0.85"/><rect x="554.39" y="97.57" width="1.50" height="1.50" fill="#111" opacity="0.85"/><rect x="553.48" y="94.46" width="1.50" height="1.50" fill="#111" opacity="0.85"/><rect x="562.67" y="96.46" width="1.50" height="1.50" fill="#111" opacity="0.85"/><rect x="560.94" y="84.11" width="1.50" height="1.50" fill="#111" opacity="0.85"/><rect x="562.16" y="91.96" width="1.50" height="1.50" fill="#111" opacity="0.85"/><rect x="557.79" y="81.84" width="1.50" height="1.50" fill="#111" opacity="0.85"/><rect x="551.79" y="89.63" width="1.50" height="1.50" fill="#111" opacity="0.85"/><rect x="556.61" y="89.25" width="1.50" height="1.50" fill="#111" opacity="0.85"/><rect x="558.93" y="88.64" width="1.50" height="1.50" fill="#111" opacity="0.85"/><rect x="551.79" y="97.31" width="1.50" height="1.50" fill="#111" opacity="0.85"/><rect x="552.73" y="82.42" width="1.50" height="1.50" fill="#111" opacity="0.85"/><rect x="555.32" y="95.11" width="1.50" height="1.50" fill="#111" opacity="0.85"/><rect x="560.07" y="97.21" width="1.50" height="1.50" fill="#111" opacity="0.85"/><rect x="554.32" y="80.31" width="1.50" height="1.50" fill="#111" opacity="0.85"/><rect x="554.81" y="91.34" width="1.50" height="1.50" fill="#111" opacity="0.85"/><rect x="555.93" y="93.58" width="1.50" height="1.50" fill="#111" opacity="0.85"/><rect x="553.14" y="97.99" width="1.50" height="1.50" fill="#111" opacity="0.85"/><rect x="562.07" y="97.81" width="1.50" height="1.50" fill="#111" opacity="0.85"/><rect x="553.84" y="94.70" width="1.50" height="1.50" fill="#111" opacity="0.85"/><rect x="563.16" y="83.25" width="1.50" height="1.50" fill="#111" opacity="0.85"/><rect x="552.88" y="95.46" width="1.50" height="1.50" fill="#111" opacity="0.85"/><rect x="552.29" y="97.89" width="1.50" height="1.50" fill="#111" opacity="0.85"/><rect x="552.29" y="96.80" width="1.50" height="1.50" fill="#111" opacity="0.85"/><rect x="554.30" y="97.64" width="1.50" height="1.50" fill="#111" opacity="0.85"/><rect x="561.85" y="93.33" width="1.50" height="1.50" fill="#111" opacity="0.85"/><rect x="556.15" y="88.73" width="1.50" height="1.50" fill="#111" opacity="0.85"/><rect x="557.49" y="95.96" width="1.50" height="1.50" fill="#111" opacity="0.85"/><rect x="555.26" y="96.42" width="1.50" height="1.50" fill="#111" opacity="0.85"/><rect x="554.53" y="98.23" width="1.50" height="1.50" fill="#111" opacity="0.85"/><rect x="552.71" y="80.69" width="1.50" height="1.50" fill="#111" opacity="0.85"/><rect x="558.76" y="94.59" width="1.50" height="1.50" fill="#111" opacity="0.85"/><rect x="553.79" y="84.91" width="1.50" height="1.50" fill="#111" opacity="0.85"/><rect x="554.18" y="97.42" width="1.50" height="1.50" fill="#111" opacity="0.85"/><rect x="556.55" y="96.15" width="1.50" height="1.50" fill="#111" opacity="0.85"/><rect x="561.38" y="81.28" width="1.50" height="1.50" fill="#111" opacity="0.85"/><rect x="551.46" y="84.54" width="1.50" height="1.50" fill="#111" opacity="0.85"/><rect x="559.71" y="98.24" width="1.50" height="1.50" fill="#111" opacity="0.85"/><rect x="556.88" y="83.66" width="1.50" height="1.50" fill="#111" opacity="0.85"/><rect x="551.20" y="92.96" width="1.50" height="1.50" fill="#111" opacity="0.85"/><rect x="562.32" y="96.25" width="1.50" height="1.50" fill="#111" opacity="0.85"/><rect x="561.47" y="86.26" width="1.50" height="1.50" fill="#111" opacity="0.85"/><rect x="554.18" y="80.49" width="1.50" height="1.50" fill="#111" opacity="0.85"/><rect x="553.05" y="98.16" width="1.50" height="1.50" fill="#111" opacity="0.85"/><rect x="559.38" y="94.25" width="1.50" height="1.50" fill="#111" opacity="0.85"/><rect x="559.86" y="81.81" width="1.50" height="1.50" fill="#111" opacity="0.85"/><rect x="560.38" y="91.56" width="1.50" height="1.50" fill="#111" opacity="0.85"/><rect x="557.82" y="95.34" width="1.50" height="1.50" fill="#111" opacity="0.85"/><rect x="560.59" y="98.24" width="1.50" height="1.50" fill="#111" opacity="0.85"/><rect x="562.24" y="97.68" width="1.50" height="1.50" fill="#111" opacity="0.85"/><rect x="554.85" y="91.60" width="1.50" height="1.50" fill="#111" opacity="0.85"/><rect x="554.22" y="98.11" width="1.50" height="1.50" fill="#111" opacity="0.85"/><rect x="559.58" y="91.83" width="1.50" height="1.50" fill="#111" opacity="0.85"/><rect x="552.04" y="98.15" width="1.50" height="1.50" fill="#111" opacity="0.85"/><rect x="558.19" y="94.21" width="1.50" height="1.50" fill="#111" opacity="0.85"/><rect x="553.88" y="96.29" width="1.50" height="1.50" fill="#111" opacity="0.85"/><rect x="551.33" y="92.65" width="1.50" height="1.50" fill="#111" opacity="0.85"/><rect x="556.73" y="97.18" width="1.50" height="1.50" fill="#111" opacity="0.85"/><rect x="558.93" y="81.07" width="1.50" height="1.50" fill="#111" opacity="0.85"/><rect x="556.90" y="84.13" width="1.50" height="1.50" fill="#111" opacity="0.85"/><rect x="554.16" y="97.66" width="1.50" height="1.50" fill="#111" opacity="0.85"/><rect x="559.66" y="81.00" width="1.50" height="1.50" fill="#111" opacity="0.85"/><rect x="551.46" y="97.13" width="1.50" height="1.50" fill="#111" opacity="0.85"/><rect x="559.29" y="94.68" width="1.50" height="1.50" fill="#111" opacity="0.85"/><rect x="554.29" y="95.88" width="1.50" height="1.50" fill="#111" opacity="0.85"/><rect x="562.30" y="91.05" width="1.50" height="1.50" fill="#111" opacity="0.85"/><rect x="551.61" y="97.71" width="1.50" height="1.50" fill="#111" opacity="0.85"/><rect x="556.25" y="96.84" width="1.50" height="1.50" fill="#111" opacity="0.85"/><rect x="553.58" y="90.65" width="1.50" height="1.50" fill="#111" opacity="0.85"/><rect x="560.07" y="87.23" width="1.50" height="1.50" fill="#111" opacity="0.85"/><rect x="553.66" y="94.57" width="1.50" height="1.50" fill="#111" opacity="0.85"/><rect x="554.94" y="80.60" width="1.50" height="1.50" fill="#111" opacity="0.85"/><rect x="553.97" y="86.45" width="1.50" height="1.50" fill="#111" opacity="0.85"/><rect x="560.33" y="97.74" width="1.50" height="1.50" fill="#111" opacity="0.85"/><rect x="562.62" y="97.24" width="1.50" height="1.50" fill="#111" opacity="0.85"/><rect x="553.45" y="94.72" width="1.50" height="1.50" fill="#111" opacity="0.85"/><rect x="556.20" y="97.73" width="1.50" height="1.50" fill="#111" opacity="0.85"/><rect x="562.59" y="91.11" width="1.50" height="1.50" fill="#111" opacity="0.85"/><rect x="555.92" y="98.06" width="1.50" height="1.50" fill="#111" opacity="0.85"/><rect x="562.89" y="97.79" width="1.50" height="1.50" fill="#111" opacity="0.85"/><rect x="551.82" y="98.07" width="1.50" height="1.50" fill="#111" opacity="0.85"/><rect x="555.92" y="98.23" width="1.50" height="1.50" fill="#111" opacity="0.85"/><rect x="561.80" y="83.57" width="1.50" height="1.50" fill="#111" opacity="0.85"/><rect x="563.17" y="89.24" width="1.50" height="1.50" fill="#111" opacity="0.85"/><rect x="555.15" y="82.22" width="1.50" height="1.50" fill="#111" opacity="0.85"/><rect x="562.43" y="97.92" width="1.50" height="1.50" fill="#111" opacity="0.85"/><rect x="551.58" y="88.84" width="1.50" height="1.50" fill="#111" opacity="0.85"/><rect x="555.74" y="91.13" width="1.50" height="1.50" fill="#111" opacity="0.85"/><rect x="555.18" y="96.46" width="1.50" height="1.50" fill="#111" opacity="0.85"/><rect x="551.23" y="97.98" width="1.50" height="1.50" fill="#111" opacity="0.85"/><rect x="555.42" y="97.36" width="1.50" height="1.50" fill="#111" opacity="0.85"/><rect x="552.68" y="81.22" width="1.50" height="1.50" fill="#111" opacity="0.85"/><rect x="553.69" y="80.84" width="1.50" height="1.50" fill="#111" opacity="0.85"/><rect x="561.06" y="96.65" width="1.50" height="1.50" fill="#111" opacity="0.85"/><rect x="556.39" y="86.38" width="1.50" height="1.50" fill="#111" opacity="0.85"/><rect x="556.88" y="98.24" width="1.50" height="1.50" fill="#111" opacity="0.85"/><rect x="562.23" y="96.47" width="1.50" height="1.50" fill="#111" opacity="0.85"/><rect x="555.57" y="97.88" width="1.50" height="1.50" fill="#111" opacity="0.85"/><rect x="551.56" y="83.61" width="1.50" height="1.50" fill="#111" opacity="0.85"/></g>
<g><rect x="559.69" y="36.36" width="1.50" height="1.50" fill="#111" opacity="0.85"/><rect x="553.53" y="59.85" width="1.50" height="1.50" fill="#111" opacity="0.85"/><rect x="553.70" y="11.55" width="1.50" height="1.50" fill="#111" opacity="0.85"/><rect x="555.26" y="69.98" width="1.50" height="1.50" fill="#111" opacity="0.85"/><rect x="560.39" y="58.57" width="1.50" height="1.50" fill="#111" opacity="0.85"/><rect x="555.38" y="31.63" width="1.50" height="1.50" fill="#111" opacity="0.85"/><rect x="558.14" y="72.46" width="1.50" height="1.50" fill="#111" opacity="0.85"/><rect x="558.93" y="26.55" width="1.50" height="1.50" fill="#111" opacity="0.85"/><rect x="555.41" y="30.14" width="1.50" height="1.50" fill="#111" opacity="0.85"/><rect x="559.25" y="9.50" width="1.50" height="1.50" fill="#111" opacity="0.85"/><rect x="558.27" y="69.74" width="1.50" height="1.50" fill="#111" opacity="0.85"/><rect x="553.39" y="71.50" width="1.50" height="1.50" fill="#111" opacity="0.85"/></g>
<rect x="627.5" y="5.4" width="106.2" height="109.8" fill="none" stroke="#a0a0a0" stroke-width="1"/>
<line x1="625.5" y1="20.0" x2="627.5" y2="20.0" stroke="#999" stroke-width="0.8"/>
<text x="624.2" y="23.8" font-size="10.5" text-anchor="end" font-weight="normal" fill="#111" >0.8</text>
<line x1="625.5" y1="42.575" x2="627.5" y2="42.575" stroke="#999" stroke-width="0.8"/>
<text x="624.2" y="46.375" font-size="10.5" text-anchor="end" font-weight="normal" fill="#111" >0.6</text>
<line x1="625.5" y1="65.15" x2="627.5" y2="65.15" stroke="#999" stroke-width="0.8"/>
<text x="624.2" y="68.95" font-size="10.5" text-anchor="end" font-weight="normal" fill="#111" >0.4</text>
<line x1="625.5" y1="87.725" x2="627.5" y2="87.725" stroke="#999" stroke-width="0.8"/>
<text x="624.2" y="91.52499999999999" font-size="10.5" text-anchor="end" font-weight="normal" fill="#111" >0.2</text>
<line x1="625.5" y1="110.3" x2="627.5" y2="110.3" stroke="#999" stroke-width="0.8"/>
<text x="624.2" y="114.1" font-size="10.5" text-anchor="end" font-weight="normal" fill="#111" >0.0</text>
<line x1="654.05" y1="115.2" x2="654.05" y2="117.2" stroke="#999" stroke-width="0.8"/>
<line x1="707.15" y1="115.2" x2="707.15" y2="117.2" stroke="#999" stroke-width="0.8"/>
<text x="606.5" y="60.300000000000004" font-size="10.8" text-anchor="middle" font-weight="normal" fill="#111" transform="rotate(-90 606.5 60.300000000000004)">Pangolin score</text>
<text x="654.05" y="124.8" font-size="10.2" text-anchor="middle" font-weight="normal" fill="#111" >pathogenic</text>
<text x="707.15" y="124.8" font-size="10.2" text-anchor="middle" font-weight="normal" fill="#111" >benign</text>
<path d="M642.50,10.20 L641.89,10.79 L641.05,11.58 L640.05,12.53 L638.99,13.61 L637.96,14.78 L637.05,16.00 L636.20,17.35 L635.33,18.87 L634.48,20.48 L633.72,22.11 L633.11,23.67 L632.70,25.10 L632.52,26.36 L632.52,27.50 L632.67,28.58 L632.92,29.65 L633.23,30.77 L633.55,32.00 L633.88,33.26 L634.26,34.49 L634.69,35.76 L635.20,37.17 L635.78,38.79 L636.45,40.70 L637.29,43.02 L638.31,45.70 L639.41,48.60 L640.49,51.55 L641.45,54.40 L642.20,57.00 L642.71,59.30 L643.05,61.43 L643.28,63.45 L643.44,65.45 L643.58,67.51 L643.75,69.70 L643.92,72.05 L644.06,74.51 L644.17,77.02 L644.29,79.54 L644.44,82.01 L644.65,84.40 L644.91,86.69 L645.21,88.93 L645.54,91.13 L645.90,93.30 L646.29,95.45 L646.70,97.60 L647.19,99.88 L647.76,102.31 L648.35,104.72 L648.92,106.96 L649.41,108.84 L649.75,110.20 L658.35,110.20 L658.69,108.84 L659.18,106.96 L659.75,104.72 L660.34,102.31 L660.91,99.88 L661.40,97.60 L661.81,95.45 L662.20,93.30 L662.56,91.13 L662.89,88.93 L663.19,86.69 L663.45,84.40 L663.66,82.01 L663.81,79.54 L663.93,77.02 L664.04,74.51 L664.18,72.05 L664.35,69.70 L664.52,67.51 L664.66,65.45 L664.82,63.45 L665.05,61.43 L665.39,59.30 L665.90,57.00 L666.65,54.40 L667.61,51.55 L668.69,48.60 L669.79,45.70 L670.81,43.02 L671.65,40.70 L672.32,38.79 L672.90,37.17 L673.41,35.76 L673.84,34.49 L674.22,33.26 L674.55,32.00 L674.87,30.77 L675.18,29.65 L675.43,28.58 L675.58,27.50 L675.58,26.36 L675.40,25.10 L674.99,23.67 L674.38,22.11 L673.62,20.48 L672.77,18.87 L671.90,17.35 L671.05,16.00 L670.14,14.78 L669.11,13.61 L668.05,12.53 L667.05,11.58 L666.21,10.79 L665.60,10.20 Z" fill="#ff5218" stroke="#333a44" stroke-width="0.8"/>
<line x1="654.05" y1="10.2" x2="654.05" y2="110.2" stroke="#555" stroke-width="0.9"/>
<rect x="652.45" y="10.2" width="3.2" height="61.0" fill="#555"/>
<circle cx="654.05" cy="40" r="1" fill="#fff"/>
<g><rect x="653.18" y="67.75" width="1.20" height="1.20" fill="#111" opacity="0.85"/><rect x="658.44" y="12.41" width="1.20" height="1.20" fill="#111" opacity="0.85"/><rect x="650.71" y="53.09" width="1.20" height="1.20" fill="#111" opacity="0.85"/><rect x="653.38" y="49.38" width="1.20" height="1.20" fill="#111" opacity="0.85"/><rect x="649.96" y="14.16" width="1.20" height="1.20" fill="#111" opacity="0.85"/><rect x="656.07" y="22.11" width="1.20" height="1.20" fill="#111" opacity="0.85"/><rect x="656.45" y="20.80" width="1.20" height="1.20" fill="#111" opacity="0.85"/><rect x="651.56" y="35.56" width="1.20" height="1.20" fill="#111" opacity="0.85"/><rect x="651.93" y="59.17" width="1.20" height="1.20" fill="#111" opacity="0.85"/><rect x="648.82" y="23.45" width="1.20" height="1.20" fill="#111" opacity="0.85"/><rect x="656.23" y="71.79" width="1.20" height="1.20" fill="#111" opacity="0.85"/><rect x="648.66" y="66.33" width="1.20" height="1.20" fill="#111" opacity="0.85"/><rect x="654.03" y="96.34" width="1.20" height="1.20" fill="#111" opacity="0.85"/><rect x="658.73" y="58.58" width="1.20" height="1.20" fill="#111" opacity="0.85"/><rect x="658.82" y="16.94" width="1.20" height="1.20" fill="#111" opacity="0.85"/><rect x="648.87" y="64.52" width="1.20" height="1.20" fill="#111" opacity="0.85"/><rect x="653.43" y="84.92" width="1.20" height="1.20" fill="#111" opacity="0.85"/><rect x="652.87" y="28.32" width="1.20" height="1.20" fill="#111" opacity="0.85"/><rect x="652.54" y="67.71" width="1.20" height="1.20" fill="#111" opacity="0.85"/><rect x="655.37" y="34.61" width="1.20" height="1.20" fill="#111" opacity="0.85"/><rect x="657.27" y="25.73" width="1.20" height="1.20" fill="#111" opacity="0.85"/><rect x="649.28" y="31.47" width="1.20" height="1.20" fill="#111" opacity="0.85"/><rect x="651.18" y="19.64" width="1.20" height="1.20" fill="#111" opacity="0.85"/><rect x="652.05" y="38.55" width="1.20" height="1.20" fill="#111" opacity="0.85"/><rect x="650.14" y="26.39" width="1.20" height="1.20" fill="#111" opacity="0.85"/><rect x="650.65" y="66.31" width="1.20" height="1.20" fill="#111" opacity="0.85"/><rect x="657.68" y="77.07" width="1.20" height="1.20" fill="#111" opacity="0.85"/><rect x="651.54" y="37.70" width="1.20" height="1.20" fill="#111" opacity="0.85"/><rect x="658.87" y="52.26" width="1.20" height="1.20" fill="#111" opacity="0.85"/><rect x="650.50" y="43.11" width="1.20" height="1.20" fill="#111" opacity="0.85"/><rect x="655.14" y="21.73" width="1.20" height="1.20" fill="#111" opacity="0.85"/><rect x="649.08" y="10.34" width="1.20" height="1.20" fill="#111" opacity="0.85"/><rect x="656.96" y="45.70" width="1.20" height="1.20" fill="#111" opacity="0.85"/><rect x="658.01" y="19.66" width="1.20" height="1.20" fill="#111" opacity="0.85"/><rect x="651.18" y="94.88" width="1.20" height="1.20" fill="#111" opacity="0.85"/><rect x="650.04" y="81.60" width="1.20" height="1.20" fill="#111" opacity="0.85"/><rect x="654.37" y="11.42" width="1.20" height="1.20" fill="#111" opacity="0.85"/><rect x="652.04" y="14.03" width="1.20" height="1.20" fill="#111" opacity="0.85"/><rect x="652.89" y="18.03" width="1.20" height="1.20" fill="#111" opacity="0.85"/><rect x="656.51" y="65.02" width="1.20" height="1.20" fill="#111" opacity="0.85"/><rect x="649.11" y="13.08" width="1.20" height="1.20" fill="#111" opacity="0.85"/><rect x="654.77" y="36.38" width="1.20" height="1.20" fill="#111" opacity="0.85"/><rect x="652.01" y="69.51" width="1.20" height="1.20" fill="#111" opacity="0.85"/><rect x="650.19" y="78.61" width="1.20" height="1.20" fill="#111" opacity="0.85"/><rect x="654.54" y="65.54" width="1.20" height="1.20" fill="#111" opacity="0.85"/><rect x="650.19" y="32.37" width="1.20" height="1.20" fill="#111" opacity="0.85"/><rect x="651.70" y="102.61" width="1.20" height="1.20" fill="#111" opacity="0.85"/><rect x="649.99" y="30.49" width="1.20" height="1.20" fill="#111" opacity="0.85"/><rect x="650.19" y="59.86" width="1.20" height="1.20" fill="#111" opacity="0.85"/><rect x="653.98" y="22.59" width="1.20" height="1.20" fill="#111" opacity="0.85"/><rect x="649.07" y="90.39" width="1.20" height="1.20" fill="#111" opacity="0.85"/><rect x="654.00" y="52.33" width="1.20" height="1.20" fill="#111" opacity="0.85"/><rect x="648.95" y="33.26" width="1.20" height="1.20" fill="#111" opacity="0.85"/><rect x="655.60" y="75.77" width="1.20" height="1.20" fill="#111" opacity="0.85"/><rect x="651.07" y="51.08" width="1.20" height="1.20" fill="#111" opacity="0.85"/><rect x="658.44" y="60.30" width="1.20" height="1.20" fill="#111" opacity="0.85"/><rect x="654.18" y="59.85" width="1.20" height="1.20" fill="#111" opacity="0.85"/><rect x="652.53" y="55.70" width="1.20" height="1.20" fill="#111" opacity="0.85"/><rect x="658.91" y="18.15" width="1.20" height="1.20" fill="#111" opacity="0.85"/><rect x="650.12" y="55.10" width="1.20" height="1.20" fill="#111" opacity="0.85"/><rect x="650.19" y="27.07" width="1.20" height="1.20" fill="#111" opacity="0.85"/><rect x="657.08" y="104.83" width="1.20" height="1.20" fill="#111" opacity="0.85"/><rect x="656.97" y="49.90" width="1.20" height="1.20" fill="#111" opacity="0.85"/><rect x="657.66" y="51.39" width="1.20" height="1.20" fill="#111" opacity="0.85"/><rect x="649.74" y="46.82" width="1.20" height="1.20" fill="#111" opacity="0.85"/><rect x="654.00" y="101.44" width="1.20" height="1.20" fill="#111" opacity="0.85"/><rect x="657.96" y="33.15" width="1.20" height="1.20" fill="#111" opacity="0.85"/><rect x="654.79" y="86.07" width="1.20" height="1.20" fill="#111" opacity="0.85"/><rect x="653.50" y="54.47" width="1.20" height="1.20" fill="#111" opacity="0.85"/><rect x="651.07" y="78.02" width="1.20" height="1.20" fill="#111" opacity="0.85"/><rect x="658.13" y="42.03" width="1.20" height="1.20" fill="#111" opacity="0.85"/><rect x="653.35" y="83.08" width="1.20" height="1.20" fill="#111" opacity="0.85"/><rect x="658.59" y="21.97" width="1.20" height="1.20" fill="#111" opacity="0.85"/><rect x="649.34" y="71.78" width="1.20" height="1.20" fill="#111" opacity="0.85"/><rect x="658.68" y="13.24" width="1.20" height="1.20" fill="#111" opacity="0.85"/><rect x="648.54" y="45.06" width="1.20" height="1.20" fill="#111" opacity="0.85"/><rect x="652.22" y="14.28" width="1.20" height="1.20" fill="#111" opacity="0.85"/><rect x="654.77" y="15.64" width="1.20" height="1.20" fill="#111" opacity="0.85"/><rect x="649.71" y="20.69" width="1.20" height="1.20" fill="#111" opacity="0.85"/><rect x="650.39" y="23.21" width="1.20" height="1.20" fill="#111" opacity="0.85"/><rect x="657.26" y="51.54" width="1.20" height="1.20" fill="#111" opacity="0.85"/><rect x="649.96" y="20.39" width="1.20" height="1.20" fill="#111" opacity="0.85"/><rect x="652.35" y="69.45" width="1.20" height="1.20" fill="#111" opacity="0.85"/><rect x="652.17" y="42.29" width="1.20" height="1.20" fill="#111" opacity="0.85"/><rect x="650.67" y="81.07" width="1.20" height="1.20" fill="#111" opacity="0.85"/><rect x="657.82" y="27.29" width="1.20" height="1.20" fill="#111" opacity="0.85"/><rect x="654.14" y="94.73" width="1.20" height="1.20" fill="#111" opacity="0.85"/><rect x="648.37" y="25.09" width="1.20" height="1.20" fill="#111" opacity="0.85"/><rect x="649.25" y="19.81" width="1.20" height="1.20" fill="#111" opacity="0.85"/><rect x="654.00" y="36.13" width="1.20" height="1.20" fill="#111" opacity="0.85"/></g>
<line x1="707.15" y1="12.2" x2="707.15" y2="110.3" stroke="#444" stroke-width="1.1"/>
<path d="M685.55,110.4 Q707.15,108.0 728.75,110.4 Q707.15,112.2 685.55,110.4 Z" fill="#262626"/>
<rect x="701.15" y="98" width="12" height="12.5" fill="#000"/>
<g><rect x="704.07" y="88.12" width="1.50" height="1.50" fill="#111" opacity="0.85"/><rect x="707.39" y="93.76" width="1.50" height="1.50" fill="#111" opacity="0.85"/><rect x="708.31" y="93.64" width="1.50" height="1.50" fill="#111" opacity="0.85"/><rect x="705.66" y="93.20" width="1.50" height="1.50" fill="#111" opacity="0.85"/><rect x="707.83" y="97.25" width="1.50" height="1.50" fill="#111" opacity="0.85"/><rect x="703.22" y="92.21" width="1.50" height="1.50" fill="#111" opacity="0.85"/><rect x="709.76" y="82.59" width="1.50" height="1.50" fill="#111" opacity="0.85"/><rect x="702.55" y="92.95" width="1.50" height="1.50" fill="#111" opacity="0.85"/><rect x="701.68" y="92.60" width="1.50" height="1.50" fill="#111" opacity="0.85"/><rect x="705.57" y="97.05" width="1.50" height="1.50" fill="#111" opacity="0.85"/><rect x="705.70" y="97.16" width="1.50" height="1.50" fill="#111" opacity="0.85"/><rect x="700.89" y="91.68" width="1.50" height="1.50" fill="#111" opacity="0.85"/><rect x="701.39" y="87.78" width="1.50" height="1.50" fill="#111" opacity="0.85"/><rect x="709.73" y="83.94" width="1.50" height="1.50" fill="#111" opacity="0.85"/><rect x="701.05" y="91.65" width="1.50" height="1.50" fill="#111" opacity="0.85"/><rect x="704.93" y="91.84" width="1.50" height="1.50" fill="#111" opacity="0.85"/><rect x="702.03" y="72.44" width="1.50" height="1.50" fill="#111" opacity="0.85"/><rect x="712.35" y="77.91" width="1.50" height="1.50" fill="#111" opacity="0.85"/><rect x="710.18" y="84.00" width="1.50" height="1.50" fill="#111" opacity="0.85"/><rect x="712.18" y="96.71" width="1.50" height="1.50" fill="#111" opacity="0.85"/><rect x="711.88" y="92.15" width="1.50" height="1.50" fill="#111" opacity="0.85"/><rect x="702.38" y="74.56" width="1.50" height="1.50" fill="#111" opacity="0.85"/><rect x="711.57" y="81.43" width="1.50" height="1.50" fill="#111" opacity="0.85"/><rect x="704.61" y="97.21" width="1.50" height="1.50" fill="#111" opacity="0.85"/><rect x="702.31" y="82.93" width="1.50" height="1.50" fill="#111" opacity="0.85"/><rect x="703.70" y="75.71" width="1.50" height="1.50" fill="#111" opacity="0.85"/><rect x="702.12" y="80.08" width="1.50" height="1.50" fill="#111" opacity="0.85"/><rect x="711.44" y="91.89" width="1.50" height="1.50" fill="#111" opacity="0.85"/><rect x="703.55" y="96.60" width="1.50" height="1.50" fill="#111" opacity="0.85"/><rect x="704.23" y="91.79" width="1.50" height="1.50" fill="#111" opacity="0.85"/><rect x="702.59" y="97.24" width="1.50" height="1.50" fill="#111" opacity="0.85"/><rect x="711.64" y="96.90" width="1.50" height="1.50" fill="#111" opacity="0.85"/><rect x="711.14" y="86.17" width="1.50" height="1.50" fill="#111" opacity="0.85"/><rect x="709.82" y="96.86" width="1.50" height="1.50" fill="#111" opacity="0.85"/><rect x="706.77" y="97.09" width="1.50" height="1.50" fill="#111" opacity="0.85"/><rect x="704.72" y="87.79" width="1.50" height="1.50" fill="#111" opacity="0.85"/><rect x="707.06" y="77.04" width="1.50" height="1.50" fill="#111" opacity="0.85"/><rect x="710.99" y="89.67" width="1.50" height="1.50" fill="#111" opacity="0.85"/><rect x="712.32" y="97.13" width="1.50" height="1.50" fill="#111" opacity="0.85"/><rect x="705.13" y="88.02" width="1.50" height="1.50" fill="#111" opacity="0.85"/><rect x="703.58" y="80.97" width="1.50" height="1.50" fill="#111" opacity="0.85"/><rect x="707.33" y="69.88" width="1.50" height="1.50" fill="#111" opacity="0.85"/><rect x="709.58" y="94.83" width="1.50" height="1.50" fill="#111" opacity="0.85"/><rect x="702.52" y="93.30" width="1.50" height="1.50" fill="#111" opacity="0.85"/><rect x="700.98" y="83.50" width="1.50" height="1.50" fill="#111" opacity="0.85"/><rect x="703.44" y="79.87" width="1.50" height="1.50" fill="#111" opacity="0.85"/><rect x="712.21" y="87.68" width="1.50" height="1.50" fill="#111" opacity="0.85"/><rect x="708.36" y="89.49" width="1.50" height="1.50" fill="#111" opacity="0.85"/><rect x="700.42" y="95.53" width="1.50" height="1.50" fill="#111" opacity="0.85"/><rect x="702.19" y="97.24" width="1.50" height="1.50" fill="#111" opacity="0.85"/><rect x="705.59" y="88.50" width="1.50" height="1.50" fill="#111" opacity="0.85"/><rect x="711.15" y="91.62" width="1.50" height="1.50" fill="#111" opacity="0.85"/><rect x="703.13" y="97.03" width="1.50" height="1.50" fill="#111" opacity="0.85"/><rect x="700.67" y="87.18" width="1.50" height="1.50" fill="#111" opacity="0.85"/><rect x="704.66" y="97.25" width="1.50" height="1.50" fill="#111" opacity="0.85"/><rect x="704.69" y="97.12" width="1.50" height="1.50" fill="#111" opacity="0.85"/><rect x="707.40" y="96.48" width="1.50" height="1.50" fill="#111" opacity="0.85"/><rect x="702.85" y="89.39" width="1.50" height="1.50" fill="#111" opacity="0.85"/><rect x="706.10" y="88.22" width="1.50" height="1.50" fill="#111" opacity="0.85"/><rect x="711.64" y="97.02" width="1.50" height="1.50" fill="#111" opacity="0.85"/><rect x="702.19" y="96.31" width="1.50" height="1.50" fill="#111" opacity="0.85"/><rect x="708.06" y="97.15" width="1.50" height="1.50" fill="#111" opacity="0.85"/><rect x="709.79" y="77.13" width="1.50" height="1.50" fill="#111" opacity="0.85"/><rect x="703.57" y="94.11" width="1.50" height="1.50" fill="#111" opacity="0.85"/><rect x="708.14" y="97.25" width="1.50" height="1.50" fill="#111" opacity="0.85"/><rect x="704.60" y="90.22" width="1.50" height="1.50" fill="#111" opacity="0.85"/><rect x="705.73" y="87.45" width="1.50" height="1.50" fill="#111" opacity="0.85"/><rect x="709.20" y="73.29" width="1.50" height="1.50" fill="#111" opacity="0.85"/><rect x="711.24" y="96.26" width="1.50" height="1.50" fill="#111" opacity="0.85"/><rect x="706.78" y="97.23" width="1.50" height="1.50" fill="#111" opacity="0.85"/><rect x="703.25" y="94.03" width="1.50" height="1.50" fill="#111" opacity="0.85"/><rect x="709.75" y="97.22" width="1.50" height="1.50" fill="#111" opacity="0.85"/><rect x="707.01" y="97.25" width="1.50" height="1.50" fill="#111" opacity="0.85"/><rect x="702.11" y="73.06" width="1.50" height="1.50" fill="#111" opacity="0.85"/><rect x="707.70" y="96.67" width="1.50" height="1.50" fill="#111" opacity="0.85"/><rect x="708.10" y="91.77" width="1.50" height="1.50" fill="#111" opacity="0.85"/><rect x="702.50" y="80.19" width="1.50" height="1.50" fill="#111" opacity="0.85"/><rect x="704.00" y="95.57" width="1.50" height="1.50" fill="#111" opacity="0.85"/><rect x="711.07" y="97.23" width="1.50" height="1.50" fill="#111" opacity="0.85"/><rect x="708.98" y="81.68" width="1.50" height="1.50" fill="#111" opacity="0.85"/><rect x="710.53" y="97.25" width="1.50" height="1.50" fill="#111" opacity="0.85"/><rect x="705.98" y="83.43" width="1.50" height="1.50" fill="#111" opacity="0.85"/><rect x="705.83" y="83.58" width="1.50" height="1.50" fill="#111" opacity="0.85"/><rect x="701.66" y="96.46" width="1.50" height="1.50" fill="#111" opacity="0.85"/><rect x="700.87" y="96.41" width="1.50" height="1.50" fill="#111" opacity="0.85"/><rect x="709.40" y="95.21" width="1.50" height="1.50" fill="#111" opacity="0.85"/><rect x="710.54" y="85.55" width="1.50" height="1.50" fill="#111" opacity="0.85"/><rect x="703.59" y="84.87" width="1.50" height="1.50" fill="#111" opacity="0.85"/><rect x="705.63" y="90.47" width="1.50" height="1.50" fill="#111" opacity="0.85"/><rect x="706.68" y="81.42" width="1.50" height="1.50" fill="#111" opacity="0.85"/><rect x="708.10" y="96.09" width="1.50" height="1.50" fill="#111" opacity="0.85"/><rect x="703.00" y="71.54" width="1.50" height="1.50" fill="#111" opacity="0.85"/><rect x="700.58" y="76.65" width="1.50" height="1.50" fill="#111" opacity="0.85"/><rect x="703.23" y="96.14" width="1.50" height="1.50" fill="#111" opacity="0.85"/><rect x="711.74" y="83.49" width="1.50" height="1.50" fill="#111" opacity="0.85"/><rect x="704.32" y="83.38" width="1.50" height="1.50" fill="#111" opacity="0.85"/><rect x="704.34" y="76.64" width="1.50" height="1.50" fill="#111" opacity="0.85"/><rect x="711.29" y="96.35" width="1.50" height="1.50" fill="#111" opacity="0.85"/><rect x="708.71" y="87.99" width="1.50" height="1.50" fill="#111" opacity="0.85"/><rect x="712.15" y="86.72" width="1.50" height="1.50" fill="#111" opacity="0.85"/><rect x="710.48" y="92.69" width="1.50" height="1.50" fill="#111" opacity="0.85"/><rect x="710.69" y="85.45" width="1.50" height="1.50" fill="#111" opacity="0.85"/><rect x="709.10" y="93.41" width="1.50" height="1.50" fill="#111" opacity="0.85"/><rect x="704.09" y="89.97" width="1.50" height="1.50" fill="#111" opacity="0.85"/><rect x="707.87" y="96.57" width="1.50" height="1.50" fill="#111" opacity="0.85"/><rect x="711.33" y="97.19" width="1.50" height="1.50" fill="#111" opacity="0.85"/><rect x="700.72" y="96.98" width="1.50" height="1.50" fill="#111" opacity="0.85"/><rect x="711.55" y="97.12" width="1.50" height="1.50" fill="#111" opacity="0.85"/><rect x="702.10" y="95.07" width="1.50" height="1.50" fill="#111" opacity="0.85"/><rect x="700.90" y="97.24" width="1.50" height="1.50" fill="#111" opacity="0.85"/></g>
<g><rect x="707.47" y="49.88" width="1.50" height="1.50" fill="#111" opacity="0.85"/><rect x="708.29" y="50.04" width="1.50" height="1.50" fill="#111" opacity="0.85"/><rect x="707.12" y="26.68" width="1.50" height="1.50" fill="#111" opacity="0.85"/><rect x="708.94" y="37.70" width="1.50" height="1.50" fill="#111" opacity="0.85"/><rect x="709.53" y="54.57" width="1.50" height="1.50" fill="#111" opacity="0.85"/><rect x="709.34" y="26.69" width="1.50" height="1.50" fill="#111" opacity="0.85"/><rect x="709.95" y="58.08" width="1.50" height="1.50" fill="#111" opacity="0.85"/><rect x="704.05" y="28.21" width="1.50" height="1.50" fill="#111" opacity="0.85"/><rect x="702.68" y="28.39" width="1.50" height="1.50" fill="#111" opacity="0.85"/><rect x="708.90" y="55.62" width="1.50" height="1.50" fill="#111" opacity="0.85"/><rect x="709.00" y="47.71" width="1.50" height="1.50" fill="#111" opacity="0.85"/><rect x="704.70" y="47.62" width="1.50" height="1.50" fill="#111" opacity="0.85"/><rect x="703.18" y="27.95" width="1.50" height="1.50" fill="#111" opacity="0.85"/><rect x="704.04" y="52.27" width="1.50" height="1.50" fill="#111" opacity="0.85"/></g>
<rect x="329.3" y="137.5" width="106.2" height="109.69999999999999" fill="none" stroke="#a0a0a0" stroke-width="1"/>
<line x1="327.3" y1="142.4" x2="329.3" y2="142.4" stroke="#999" stroke-width="0.8"/>
<text x="326.0" y="146.20000000000002" font-size="10.5" text-anchor="end" font-weight="normal" fill="#111" >1.0</text>
<line x1="327.3" y1="162.32" x2="329.3" y2="162.32" stroke="#999" stroke-width="0.8"/>
<text x="326.0" y="166.12" font-size="10.5" text-anchor="end" font-weight="normal" fill="#111" >0.8</text>
<line x1="327.3" y1="182.24" x2="329.3" y2="182.24" stroke="#999" stroke-width="0.8"/>
<text x="326.0" y="186.04000000000002" font-size="10.5" text-anchor="end" font-weight="normal" fill="#111" >0.6</text>
<line x1="327.3" y1="202.16000000000003" x2="329.3" y2="202.16000000000003" stroke="#999" stroke-width="0.8"/>
<text x="326.0" y="205.96000000000004" font-size="10.5" text-anchor="end" font-weight="normal" fill="#111" >0.4</text>
<line x1="327.3" y1="222.08" x2="329.3" y2="222.08" stroke="#999" stroke-width="0.8"/>
<text x="326.0" y="225.88000000000002" font-size="10.5" text-anchor="end" font-weight="normal" fill="#111" >0.2</text>
<line x1="327.3" y1="242.0" x2="329.3" y2="242.0" stroke="#999" stroke-width="0.8"/>
<text x="326.0" y="245.8" font-size="10.5" text-anchor="end" font-weight="normal" fill="#111" >0.0</text>
<line x1="355.85" y1="247.2" x2="355.85" y2="249.2" stroke="#999" stroke-width="0.8"/>
<line x1="408.95000000000005" y1="247.2" x2="408.95000000000005" y2="249.2" stroke="#999" stroke-width="0.8"/>
<text x="306.7" y="192.35" font-size="10.8" text-anchor="middle" font-weight="normal" fill="#111" transform="rotate(-90 306.7 192.35)">ConSpliceML score</text>
<text x="355.85" y="256.8" font-size="10.2" text-anchor="middle" font-weight="normal" fill="#111" >pathogenic</text>
<text x="408.95000000000005" y="256.8" font-size="10.2" text-anchor="middle" font-weight="normal" fill="#111" >benign</text>
<path d="M338.55,142.50 L338.20,142.84 L337.70,143.28 L337.12,143.81 L336.52,144.44 L335.97,145.17 L335.55,146.00 L335.22,146.96 L334.93,148.07 L334.69,149.28 L334.52,150.54 L334.44,151.79 L334.45,153.00 L334.55,154.12 L334.74,155.20 L335.00,156.27 L335.35,157.39 L335.80,158.62 L336.35,160.00 L337.03,161.59 L337.83,163.34 L338.73,165.21 L339.69,167.10 L340.68,168.95 L341.65,170.70 L342.67,172.35 L343.78,173.95 L344.91,175.52 L346.00,177.05 L347.00,178.54 L347.85,180.00 L348.53,181.37 L349.08,182.63 L349.54,183.85 L349.93,185.11 L350.29,186.47 L350.65,188.00 L351.00,189.75 L351.33,191.68 L351.62,193.71 L351.87,195.77 L352.08,197.79 L352.25,199.70 L352.36,201.48 L352.41,203.18 L352.42,204.84 L352.40,206.51 L352.37,208.21 L352.35,210.00 L352.33,211.90 L352.30,213.88 L352.26,215.91 L352.20,217.93 L352.13,219.91 L352.05,221.80 L351.93,223.59 L351.76,225.33 L351.58,227.01 L351.42,228.67 L351.30,230.33 L351.25,232.00 L351.30,233.79 L351.43,235.72 L351.60,237.64 L351.78,239.41 L351.94,240.91 L352.05,242.00 L359.65,242.00 L359.76,240.91 L359.92,239.41 L360.10,237.64 L360.27,235.72 L360.40,233.79 L360.45,232.00 L360.40,230.33 L360.28,228.67 L360.12,227.01 L359.94,225.33 L359.77,223.59 L359.65,221.80 L359.57,219.91 L359.50,217.93 L359.44,215.91 L359.40,213.88 L359.37,211.90 L359.35,210.00 L359.33,208.21 L359.30,206.51 L359.28,204.84 L359.29,203.18 L359.34,201.48 L359.45,199.70 L359.62,197.79 L359.83,195.77 L360.08,193.71 L360.37,191.68 L360.70,189.75 L361.05,188.00 L361.41,186.47 L361.77,185.11 L362.16,183.85 L362.62,182.63 L363.17,181.37 L363.85,180.00 L364.70,178.54 L365.70,177.05 L366.79,175.52 L367.92,173.95 L369.03,172.35 L370.05,170.70 L371.02,168.95 L372.01,167.10 L372.97,165.21 L373.87,163.34 L374.67,161.59 L375.35,160.00 L375.90,158.62 L376.35,157.39 L376.70,156.27 L376.96,155.20 L377.15,154.12 L377.25,153.00 L377.26,151.79 L377.18,150.54 L377.01,149.28 L376.77,148.07 L376.48,146.96 L376.15,146.00 L375.73,145.17 L375.18,144.44 L374.58,143.81 L374.00,143.28 L373.50,142.84 L373.15,142.50 Z" fill="#ff5218" stroke="#333a44" stroke-width="0.8"/>
<line x1="355.85" y1="142.5" x2="355.85" y2="242" stroke="#555" stroke-width="0.9"/>
<rect x="354.25" y="142.5" width="3.2" height="35.69999999999999" fill="#555"/>
<g><rect x="354.31" y="163.10" width="1.40" height="1.40" fill="#111" opacity="0.85"/><rect x="352.47" y="175.70" width="1.40" height="1.40" fill="#111" opacity="0.85"/><rect x="357.52" y="164.42" width="1.40" height="1.40" fill="#111" opacity="0.85"/><rect x="353.18" y="161.39" width="1.40" height="1.40" fill="#111" opacity="0.85"/><rect x="355.19" y="142.92" width="1.40" height="1.40" fill="#111" opacity="0.85"/><rect x="356.45" y="146.18" width="1.40" height="1.40" fill="#111" opacity="0.85"/><rect x="354.19" y="175.10" width="1.40" height="1.40" fill="#111" opacity="0.85"/><rect x="358.15" y="159.06" width="1.40" height="1.40" fill="#111" opacity="0.85"/><rect x="357.40" y="162.13" width="1.40" height="1.40" fill="#111" opacity="0.85"/><rect x="352.03" y="155.74" width="1.40" height="1.40" fill="#111" opacity="0.85"/><rect x="350.65" y="145.86" width="1.40" height="1.40" fill="#111" opacity="0.85"/><rect x="351.52" y="147.10" width="1.40" height="1.40" fill="#111" opacity="0.85"/><rect x="351.87" y="177.13" width="1.40" height="1.40" fill="#111" opacity="0.85"/><rect x="360.41" y="148.81" width="1.40" height="1.40" fill="#111" opacity="0.85"/><rect x="355.05" y="176.84" width="1.40" height="1.40" fill="#111" opacity="0.85"/><rect x="358.41" y="157.25" width="1.40" height="1.40" fill="#111" opacity="0.85"/><rect x="355.09" y="168.14" width="1.40" height="1.40" fill="#111" opacity="0.85"/><rect x="358.80" y="162.11" width="1.40" height="1.40" fill="#111" opacity="0.85"/><rect x="360.03" y="165.23" width="1.40" height="1.40" fill="#111" opacity="0.85"/><rect x="352.01" y="164.38" width="1.40" height="1.40" fill="#111" opacity="0.85"/><rect x="355.13" y="150.70" width="1.40" height="1.40" fill="#111" opacity="0.85"/><rect x="356.65" y="171.25" width="1.40" height="1.40" fill="#111" opacity="0.85"/><rect x="358.32" y="172.57" width="1.40" height="1.40" fill="#111" opacity="0.85"/><rect x="358.31" y="150.77" width="1.40" height="1.40" fill="#111" opacity="0.85"/><rect x="353.56" y="152.90" width="1.40" height="1.40" fill="#111" opacity="0.85"/><rect x="353.99" y="160.25" width="1.40" height="1.40" fill="#111" opacity="0.85"/><rect x="350.60" y="145.04" width="1.40" height="1.40" fill="#111" opacity="0.85"/><rect x="349.93" y="145.10" width="1.40" height="1.40" fill="#111" opacity="0.85"/><rect x="352.55" y="167.29" width="1.40" height="1.40" fill="#111" opacity="0.85"/><rect x="355.16" y="144.73" width="1.40" height="1.40" fill="#111" opacity="0.85"/><rect x="359.37" y="161.00" width="1.40" height="1.40" fill="#111" opacity="0.85"/><rect x="354.72" y="166.24" width="1.40" height="1.40" fill="#111" opacity="0.85"/><rect x="357.95" y="155.95" width="1.40" height="1.40" fill="#111" opacity="0.85"/><rect x="356.76" y="149.09" width="1.40" height="1.40" fill="#111" opacity="0.85"/><rect x="353.24" y="162.07" width="1.40" height="1.40" fill="#111" opacity="0.85"/><rect x="358.92" y="169.32" width="1.40" height="1.40" fill="#111" opacity="0.85"/><rect x="357.81" y="151.85" width="1.40" height="1.40" fill="#111" opacity="0.85"/><rect x="354.48" y="168.74" width="1.40" height="1.40" fill="#111" opacity="0.85"/><rect x="356.02" y="148.48" width="1.40" height="1.40" fill="#111" opacity="0.85"/><rect x="354.73" y="170.55" width="1.40" height="1.40" fill="#111" opacity="0.85"/><rect x="352.27" y="145.19" width="1.40" height="1.40" fill="#111" opacity="0.85"/><rect x="352.97" y="167.86" width="1.40" height="1.40" fill="#111" opacity="0.85"/><rect x="358.93" y="150.59" width="1.40" height="1.40" fill="#111" opacity="0.85"/><rect x="351.37" y="169.35" width="1.40" height="1.40" fill="#111" opacity="0.85"/><rect x="353.24" y="165.71" width="1.40" height="1.40" fill="#111" opacity="0.85"/><rect x="351.42" y="156.25" width="1.40" height="1.40" fill="#111" opacity="0.85"/><rect x="351.73" y="162.79" width="1.40" height="1.40" fill="#111" opacity="0.85"/><rect x="357.67" y="142.61" width="1.40" height="1.40" fill="#111" opacity="0.85"/><rect x="360.24" y="171.61" width="1.40" height="1.40" fill="#111" opacity="0.85"/><rect x="353.88" y="171.62" width="1.40" height="1.40" fill="#111" opacity="0.85"/><rect x="358.39" y="142.36" width="1.40" height="1.40" fill="#111" opacity="0.85"/><rect x="354.43" y="149.68" width="1.40" height="1.40" fill="#111" opacity="0.85"/><rect x="356.67" y="167.68" width="1.40" height="1.40" fill="#111" opacity="0.85"/><rect x="351.92" y="171.38" width="1.40" height="1.40" fill="#111" opacity="0.85"/><rect x="350.02" y="160.69" width="1.40" height="1.40" fill="#111" opacity="0.85"/><rect x="358.35" y="160.33" width="1.40" height="1.40" fill="#111" opacity="0.85"/><rect x="355.16" y="150.89" width="1.40" height="1.40" fill="#111" opacity="0.85"/><rect x="354.75" y="152.77" width="1.40" height="1.40" fill="#111" opacity="0.85"/><rect x="356.29" y="169.88" width="1.40" height="1.40" fill="#111" opacity="0.85"/><rect x="357.80" y="160.13" width="1.40" height="1.40" fill="#111" opacity="0.85"/><rect x="354.38" y="144.53" width="1.40" height="1.40" fill="#111" opacity="0.85"/><rect x="357.89" y="154.60" width="1.40" height="1.40" fill="#111" opacity="0.85"/><rect x="352.16" y="159.58" width="1.40" height="1.40" fill="#111" opacity="0.85"/><rect x="359.33" y="150.01" width="1.40" height="1.40" fill="#111" opacity="0.85"/><rect x="357.35" y="148.46" width="1.40" height="1.40" fill="#111" opacity="0.85"/><rect x="357.13" y="146.14" width="1.40" height="1.40" fill="#111" opacity="0.85"/><rect x="354.64" y="152.48" width="1.40" height="1.40" fill="#111" opacity="0.85"/><rect x="356.56" y="163.32" width="1.40" height="1.40" fill="#111" opacity="0.85"/><rect x="354.27" y="171.79" width="1.40" height="1.40" fill="#111" opacity="0.85"/><rect x="357.49" y="148.21" width="1.40" height="1.40" fill="#111" opacity="0.85"/><rect x="352.40" y="152.85" width="1.40" height="1.40" fill="#111" opacity="0.85"/><rect x="354.66" y="159.49" width="1.40" height="1.40" fill="#111" opacity="0.85"/><rect x="354.15" y="153.10" width="1.40" height="1.40" fill="#111" opacity="0.85"/><rect x="359.88" y="151.44" width="1.40" height="1.40" fill="#111" opacity="0.85"/><rect x="356.85" y="168.20" width="1.40" height="1.40" fill="#111" opacity="0.85"/></g>
<g><rect x="354.40" y="227.10" width="1.40" height="1.40" fill="#111" opacity="0.85"/><rect x="357.51" y="208.65" width="1.40" height="1.40" fill="#111" opacity="0.85"/><rect x="355.50" y="179.74" width="1.40" height="1.40" fill="#111" opacity="0.85"/><rect x="357.40" y="187.59" width="1.40" height="1.40" fill="#111" opacity="0.85"/><rect x="355.27" y="237.50" width="1.40" height="1.40" fill="#111" opacity="0.85"/><rect x="355.75" y="183.77" width="1.40" height="1.40" fill="#111" opacity="0.85"/><rect x="356.25" y="211.93" width="1.40" height="1.40" fill="#111" opacity="0.85"/><rect x="355.85" y="210.08" width="1.40" height="1.40" fill="#111" opacity="0.85"/><rect x="355.31" y="230.36" width="1.40" height="1.40" fill="#111" opacity="0.85"/><rect x="357.33" y="203.56" width="1.40" height="1.40" fill="#111" opacity="0.85"/><rect x="356.46" y="190.75" width="1.40" height="1.40" fill="#111" opacity="0.85"/><rect x="356.43" y="202.42" width="1.40" height="1.40" fill="#111" opacity="0.85"/><rect x="359.03" y="185.13" width="1.40" height="1.40" fill="#111" opacity="0.85"/><rect x="352.90" y="200.05" width="1.40" height="1.40" fill="#111" opacity="0.85"/><rect x="354.55" y="194.86" width="1.40" height="1.40" fill="#111" opacity="0.85"/><rect x="354.50" y="178.15" width="1.40" height="1.40" fill="#111" opacity="0.85"/></g>
<line x1="408.95000000000005" y1="142.7" x2="408.95000000000005" y2="241.8" stroke="#555" stroke-width="1.1"/>
<path d="M387.15,242.1 Q408.95,239.7 430.75,242.1 Q408.95,243.9 387.15,242.1 Z" fill="#262626"/>
<rect x="402.95000000000005" y="227" width="12" height="15.2" fill="#000"/>
<g><rect x="410.53" y="222.70" width="1.60" height="1.60" fill="#111" opacity="0.85"/><rect x="405.33" y="223.81" width="1.60" height="1.60" fill="#111" opacity="0.85"/><rect x="411.05" y="225.55" width="1.60" height="1.60" fill="#111" opacity="0.85"/><rect x="408.47" y="210.90" width="1.60" height="1.60" fill="#111" opacity="0.85"/><rect x="411.77" y="225.62" width="1.60" height="1.60" fill="#111" opacity="0.85"/><rect x="404.69" y="223.18" width="1.60" height="1.60" fill="#111" opacity="0.85"/><rect x="411.47" y="226.52" width="1.60" height="1.60" fill="#111" opacity="0.85"/><rect x="409.76" y="214.36" width="1.60" height="1.60" fill="#111" opacity="0.85"/><rect x="408.89" y="221.84" width="1.60" height="1.60" fill="#111" opacity="0.85"/><rect x="413.72" y="225.53" width="1.60" height="1.60" fill="#111" opacity="0.85"/><rect x="409.82" y="223.80" width="1.60" height="1.60" fill="#111" opacity="0.85"/><rect x="411.94" y="214.13" width="1.60" height="1.60" fill="#111" opacity="0.85"/><rect x="405.68" y="221.86" width="1.60" height="1.60" fill="#111" opacity="0.85"/><rect x="403.65" y="220.32" width="1.60" height="1.60" fill="#111" opacity="0.85"/><rect x="406.41" y="213.74" width="1.60" height="1.60" fill="#111" opacity="0.85"/><rect x="405.36" y="213.30" width="1.60" height="1.60" fill="#111" opacity="0.85"/><rect x="405.19" y="223.43" width="1.60" height="1.60" fill="#111" opacity="0.85"/><rect x="404.38" y="222.60" width="1.60" height="1.60" fill="#111" opacity="0.85"/><rect x="410.81" y="227.20" width="1.60" height="1.60" fill="#111" opacity="0.85"/><rect x="405.09" y="224.84" width="1.60" height="1.60" fill="#111" opacity="0.85"/><rect x="407.90" y="224.55" width="1.60" height="1.60" fill="#111" opacity="0.85"/><rect x="409.80" y="222.56" width="1.60" height="1.60" fill="#111" opacity="0.85"/><rect x="406.50" y="217.96" width="1.60" height="1.60" fill="#111" opacity="0.85"/><rect x="412.40" y="211.21" width="1.60" height="1.60" fill="#111" opacity="0.85"/><rect x="412.08" y="227.02" width="1.60" height="1.60" fill="#111" opacity="0.85"/><rect x="411.56" y="211.84" width="1.60" height="1.60" fill="#111" opacity="0.85"/><rect x="412.13" y="226.42" width="1.60" height="1.60" fill="#111" opacity="0.85"/><rect x="402.33" y="218.54" width="1.60" height="1.60" fill="#111" opacity="0.85"/><rect x="413.57" y="227.19" width="1.60" height="1.60" fill="#111" opacity="0.85"/><rect x="405.15" y="218.03" width="1.60" height="1.60" fill="#111" opacity="0.85"/><rect x="403.86" y="226.74" width="1.60" height="1.60" fill="#111" opacity="0.85"/><rect x="411.47" y="225.44" width="1.60" height="1.60" fill="#111" opacity="0.85"/><rect x="403.98" y="223.90" width="1.60" height="1.60" fill="#111" opacity="0.85"/><rect x="411.65" y="211.88" width="1.60" height="1.60" fill="#111" opacity="0.85"/><rect x="412.84" y="226.16" width="1.60" height="1.60" fill="#111" opacity="0.85"/><rect x="411.53" y="219.07" width="1.60" height="1.60" fill="#111" opacity="0.85"/><rect x="412.88" y="217.75" width="1.60" height="1.60" fill="#111" opacity="0.85"/><rect x="412.22" y="214.90" width="1.60" height="1.60" fill="#111" opacity="0.85"/><rect x="410.46" y="225.86" width="1.60" height="1.60" fill="#111" opacity="0.85"/><rect x="411.05" y="220.67" width="1.60" height="1.60" fill="#111" opacity="0.85"/><rect x="412.74" y="222.39" width="1.60" height="1.60" fill="#111" opacity="0.85"/><rect x="405.32" y="220.18" width="1.60" height="1.60" fill="#111" opacity="0.85"/><rect x="403.82" y="225.44" width="1.60" height="1.60" fill="#111" opacity="0.85"/><rect x="402.85" y="221.39" width="1.60" height="1.60" fill="#111" opacity="0.85"/><rect x="403.88" y="221.88" width="1.60" height="1.60" fill="#111" opacity="0.85"/><rect x="408.13" y="221.43" width="1.60" height="1.60" fill="#111" opacity="0.85"/><rect x="412.50" y="220.49" width="1.60" height="1.60" fill="#111" opacity="0.85"/><rect x="412.24" y="227.19" width="1.60" height="1.60" fill="#111" opacity="0.85"/><rect x="408.90" y="221.86" width="1.60" height="1.60" fill="#111" opacity="0.85"/><rect x="412.24" y="217.82" width="1.60" height="1.60" fill="#111" opacity="0.85"/><rect x="407.18" y="223.45" width="1.60" height="1.60" fill="#111" opacity="0.85"/><rect x="403.05" y="210.32" width="1.60" height="1.60" fill="#111" opacity="0.85"/><rect x="409.78" y="218.45" width="1.60" height="1.60" fill="#111" opacity="0.85"/><rect x="409.47" y="227.14" width="1.60" height="1.60" fill="#111" opacity="0.85"/><rect x="413.33" y="217.43" width="1.60" height="1.60" fill="#111" opacity="0.85"/><rect x="413.93" y="224.14" width="1.60" height="1.60" fill="#111" opacity="0.85"/><rect x="407.97" y="221.06" width="1.60" height="1.60" fill="#111" opacity="0.85"/><rect x="402.56" y="212.06" width="1.60" height="1.60" fill="#111" opacity="0.85"/><rect x="409.65" y="216.60" width="1.60" height="1.60" fill="#111" opacity="0.85"/><rect x="412.49" y="224.02" width="1.60" height="1.60" fill="#111" opacity="0.85"/><rect x="407.84" y="223.59" width="1.60" height="1.60" fill="#111" opacity="0.85"/><rect x="411.40" y="220.77" width="1.60" height="1.60" fill="#111" opacity="0.85"/><rect x="407.37" y="225.71" width="1.60" height="1.60" fill="#111" opacity="0.85"/><rect x="408.80" y="222.67" width="1.60" height="1.60" fill="#111" opacity="0.85"/><rect x="405.66" y="213.92" width="1.60" height="1.60" fill="#111" opacity="0.85"/><rect x="406.99" y="213.90" width="1.60" height="1.60" fill="#111" opacity="0.85"/><rect x="405.41" y="221.19" width="1.60" height="1.60" fill="#111" opacity="0.85"/><rect x="413.85" y="221.14" width="1.60" height="1.60" fill="#111" opacity="0.85"/><rect x="411.65" y="218.06" width="1.60" height="1.60" fill="#111" opacity="0.85"/><rect x="405.96" y="224.13" width="1.60" height="1.60" fill="#111" opacity="0.85"/><rect x="409.19" y="224.59" width="1.60" height="1.60" fill="#111" opacity="0.85"/><rect x="411.56" y="218.50" width="1.60" height="1.60" fill="#111" opacity="0.85"/><rect x="410.82" y="227.10" width="1.60" height="1.60" fill="#111" opacity="0.85"/><rect x="408.69" y="212.38" width="1.60" height="1.60" fill="#111" opacity="0.85"/><rect x="405.75" y="227.05" width="1.60" height="1.60" fill="#111" opacity="0.85"/><rect x="404.43" y="227.19" width="1.60" height="1.60" fill="#111" opacity="0.85"/><rect x="409.45" y="211.41" width="1.60" height="1.60" fill="#111" opacity="0.85"/><rect x="411.62" y="217.99" width="1.60" height="1.60" fill="#111" opacity="0.85"/><rect x="409.49" y="211.73" width="1.60" height="1.60" fill="#111" opacity="0.85"/><rect x="409.67" y="218.89" width="1.60" height="1.60" fill="#111" opacity="0.85"/><rect x="409.31" y="217.11" width="1.60" height="1.60" fill="#111" opacity="0.85"/><rect x="404.70" y="217.47" width="1.60" height="1.60" fill="#111" opacity="0.85"/><rect x="407.64" y="217.78" width="1.60" height="1.60" fill="#111" opacity="0.85"/><rect x="403.37" y="215.53" width="1.60" height="1.60" fill="#111" opacity="0.85"/><rect x="402.59" y="226.03" width="1.60" height="1.60" fill="#111" opacity="0.85"/><rect x="413.12" y="215.24" width="1.60" height="1.60" fill="#111" opacity="0.85"/><rect x="406.58" y="218.04" width="1.60" height="1.60" fill="#111" opacity="0.85"/><rect x="411.59" y="214.03" width="1.60" height="1.60" fill="#111" opacity="0.85"/><rect x="405.25" y="220.04" width="1.60" height="1.60" fill="#111" opacity="0.85"/><rect x="407.21" y="224.55" width="1.60" height="1.60" fill="#111" opacity="0.85"/><rect x="407.32" y="224.31" width="1.60" height="1.60" fill="#111" opacity="0.85"/><rect x="413.36" y="218.35" width="1.60" height="1.60" fill="#111" opacity="0.85"/><rect x="408.96" y="227.03" width="1.60" height="1.60" fill="#111" opacity="0.85"/><rect x="403.58" y="227.10" width="1.60" height="1.60" fill="#111" opacity="0.85"/><rect x="409.05" y="214.34" width="1.60" height="1.60" fill="#111" opacity="0.85"/><rect x="407.51" y="211.49" width="1.60" height="1.60" fill="#111" opacity="0.85"/><rect x="406.80" y="227.18" width="1.60" height="1.60" fill="#111" opacity="0.85"/><rect x="413.40" y="219.42" width="1.60" height="1.60" fill="#111" opacity="0.85"/><rect x="407.86" y="209.75" width="1.60" height="1.60" fill="#111" opacity="0.85"/><rect x="403.37" y="222.84" width="1.60" height="1.60" fill="#111" opacity="0.85"/><rect x="404.70" y="218.29" width="1.60" height="1.60" fill="#111" opacity="0.85"/><rect x="402.34" y="226.32" width="1.60" height="1.60" fill="#111" opacity="0.85"/><rect x="410.36" y="227.20" width="1.60" height="1.60" fill="#111" opacity="0.85"/><rect x="413.75" y="226.58" width="1.60" height="1.60" fill="#111" opacity="0.85"/><rect x="412.58" y="226.83" width="1.60" height="1.60" fill="#111" opacity="0.85"/><rect x="402.36" y="226.52" width="1.60" height="1.60" fill="#111" opacity="0.85"/><rect x="405.06" y="216.57" width="1.60" height="1.60" fill="#111" opacity="0.85"/><rect x="404.40" y="216.24" width="1.60" height="1.60" fill="#111" opacity="0.85"/><rect x="411.44" y="227.05" width="1.60" height="1.60" fill="#111" opacity="0.85"/><rect x="412.42" y="216.71" width="1.60" height="1.60" fill="#111" opacity="0.85"/><rect x="403.16" y="216.33" width="1.60" height="1.60" fill="#111" opacity="0.85"/><rect x="410.66" y="218.64" width="1.60" height="1.60" fill="#111" opacity="0.85"/><rect x="413.34" y="221.99" width="1.60" height="1.60" fill="#111" opacity="0.85"/><rect x="413.72" y="225.19" width="1.60" height="1.60" fill="#111" opacity="0.85"/><rect x="402.29" y="216.62" width="1.60" height="1.60" fill="#111" opacity="0.85"/><rect x="409.96" y="227.18" width="1.60" height="1.60" fill="#111" opacity="0.85"/><rect x="403.11" y="214.16" width="1.60" height="1.60" fill="#111" opacity="0.85"/><rect x="410.90" y="224.42" width="1.60" height="1.60" fill="#111" opacity="0.85"/><rect x="412.48" y="226.18" width="1.60" height="1.60" fill="#111" opacity="0.85"/><rect x="402.87" y="221.52" width="1.60" height="1.60" fill="#111" opacity="0.85"/><rect x="409.05" y="223.57" width="1.60" height="1.60" fill="#111" opacity="0.85"/><rect x="410.27" y="222.38" width="1.60" height="1.60" fill="#111" opacity="0.85"/><rect x="411.72" y="226.38" width="1.60" height="1.60" fill="#111" opacity="0.85"/><rect x="409.89" y="223.64" width="1.60" height="1.60" fill="#111" opacity="0.85"/><rect x="407.17" y="218.61" width="1.60" height="1.60" fill="#111" opacity="0.85"/><rect x="411.58" y="223.28" width="1.60" height="1.60" fill="#111" opacity="0.85"/><rect x="411.57" y="210.76" width="1.60" height="1.60" fill="#111" opacity="0.85"/><rect x="405.66" y="219.94" width="1.60" height="1.60" fill="#111" opacity="0.85"/><rect x="413.84" y="227.00" width="1.60" height="1.60" fill="#111" opacity="0.85"/><rect x="412.08" y="216.95" width="1.60" height="1.60" fill="#111" opacity="0.85"/><rect x="409.42" y="224.12" width="1.60" height="1.60" fill="#111" opacity="0.85"/><rect x="412.13" y="209.85" width="1.60" height="1.60" fill="#111" opacity="0.85"/><rect x="405.85" y="219.23" width="1.60" height="1.60" fill="#111" opacity="0.85"/><rect x="412.81" y="222.56" width="1.60" height="1.60" fill="#111" opacity="0.85"/><rect x="410.37" y="223.43" width="1.60" height="1.60" fill="#111" opacity="0.85"/><rect x="412.90" y="219.21" width="1.60" height="1.60" fill="#111" opacity="0.85"/><rect x="405.55" y="214.42" width="1.60" height="1.60" fill="#111" opacity="0.85"/><rect x="405.31" y="227.20" width="1.60" height="1.60" fill="#111" opacity="0.85"/><rect x="409.19" y="222.66" width="1.60" height="1.60" fill="#111" opacity="0.85"/><rect x="412.80" y="214.20" width="1.60" height="1.60" fill="#111" opacity="0.85"/><rect x="412.15" y="227.09" width="1.60" height="1.60" fill="#111" opacity="0.85"/><rect x="412.56" y="214.31" width="1.60" height="1.60" fill="#111" opacity="0.85"/><rect x="405.44" y="219.84" width="1.60" height="1.60" fill="#111" opacity="0.85"/><rect x="411.83" y="213.29" width="1.60" height="1.60" fill="#111" opacity="0.85"/><rect x="413.11" y="217.38" width="1.60" height="1.60" fill="#111" opacity="0.85"/><rect x="403.17" y="223.89" width="1.60" height="1.60" fill="#111" opacity="0.85"/><rect x="411.72" y="220.21" width="1.60" height="1.60" fill="#111" opacity="0.85"/><rect x="411.15" y="225.82" width="1.60" height="1.60" fill="#111" opacity="0.85"/><rect x="404.96" y="211.13" width="1.60" height="1.60" fill="#111" opacity="0.85"/><rect x="410.28" y="219.10" width="1.60" height="1.60" fill="#111" opacity="0.85"/><rect x="404.63" y="221.91" width="1.60" height="1.60" fill="#111" opacity="0.85"/><rect x="411.16" y="225.18" width="1.60" height="1.60" fill="#111" opacity="0.85"/><rect x="407.67" y="214.81" width="1.60" height="1.60" fill="#111" opacity="0.85"/><rect x="411.83" y="226.83" width="1.60" height="1.60" fill="#111" opacity="0.85"/><rect x="404.94" y="215.30" width="1.60" height="1.60" fill="#111" opacity="0.85"/><rect x="412.91" y="219.68" width="1.60" height="1.60" fill="#111" opacity="0.85"/><rect x="408.41" y="212.39" width="1.60" height="1.60" fill="#111" opacity="0.85"/><rect x="409.22" y="221.70" width="1.60" height="1.60" fill="#111" opacity="0.85"/><rect x="404.46" y="225.95" width="1.60" height="1.60" fill="#111" opacity="0.85"/><rect x="410.56" y="226.03" width="1.60" height="1.60" fill="#111" opacity="0.85"/><rect x="408.92" y="223.65" width="1.60" height="1.60" fill="#111" opacity="0.85"/><rect x="408.36" y="223.00" width="1.60" height="1.60" fill="#111" opacity="0.85"/><rect x="402.69" y="226.34" width="1.60" height="1.60" fill="#111" opacity="0.85"/><rect x="406.64" y="209.28" width="1.60" height="1.60" fill="#111" opacity="0.85"/><rect x="409.74" y="226.70" width="1.60" height="1.60" fill="#111" opacity="0.85"/><rect x="404.02" y="214.92" width="1.60" height="1.60" fill="#111" opacity="0.85"/><rect x="406.29" y="219.31" width="1.60" height="1.60" fill="#111" opacity="0.85"/><rect x="402.40" y="220.89" width="1.60" height="1.60" fill="#111" opacity="0.85"/><rect x="414.03" y="227.12" width="1.60" height="1.60" fill="#111" opacity="0.85"/><rect x="407.99" y="212.90" width="1.60" height="1.60" fill="#111" opacity="0.85"/><rect x="405.29" y="219.94" width="1.60" height="1.60" fill="#111" opacity="0.85"/><rect x="407.26" y="215.12" width="1.60" height="1.60" fill="#111" opacity="0.85"/><rect x="411.36" y="210.72" width="1.60" height="1.60" fill="#111" opacity="0.85"/><rect x="413.71" y="214.13" width="1.60" height="1.60" fill="#111" opacity="0.85"/><rect x="402.60" y="225.19" width="1.60" height="1.60" fill="#111" opacity="0.85"/><rect x="404.32" y="225.82" width="1.60" height="1.60" fill="#111" opacity="0.85"/><rect x="402.76" y="226.86" width="1.60" height="1.60" fill="#111" opacity="0.85"/><rect x="412.60" y="220.13" width="1.60" height="1.60" fill="#111" opacity="0.85"/><rect x="413.52" y="222.03" width="1.60" height="1.60" fill="#111" opacity="0.85"/><rect x="402.92" y="211.72" width="1.60" height="1.60" fill="#111" opacity="0.85"/><rect x="406.92" y="219.29" width="1.60" height="1.60" fill="#111" opacity="0.85"/><rect x="413.66" y="226.60" width="1.60" height="1.60" fill="#111" opacity="0.85"/><rect x="408.92" y="225.15" width="1.60" height="1.60" fill="#111" opacity="0.85"/><rect x="413.63" y="218.37" width="1.60" height="1.60" fill="#111" opacity="0.85"/><rect x="406.87" y="217.72" width="1.60" height="1.60" fill="#111" opacity="0.85"/><rect x="404.07" y="222.21" width="1.60" height="1.60" fill="#111" opacity="0.85"/><rect x="414.05" y="210.18" width="1.60" height="1.60" fill="#111" opacity="0.85"/><rect x="402.61" y="225.58" width="1.60" height="1.60" fill="#111" opacity="0.85"/><rect x="406.37" y="225.17" width="1.60" height="1.60" fill="#111" opacity="0.85"/><rect x="413.00" y="211.92" width="1.60" height="1.60" fill="#111" opacity="0.85"/><rect x="402.71" y="213.65" width="1.60" height="1.60" fill="#111" opacity="0.85"/><rect x="410.67" y="214.95" width="1.60" height="1.60" fill="#111" opacity="0.85"/><rect x="413.98" y="218.24" width="1.60" height="1.60" fill="#111" opacity="0.85"/><rect x="403.89" y="227.02" width="1.60" height="1.60" fill="#111" opacity="0.85"/><rect x="413.42" y="215.72" width="1.60" height="1.60" fill="#111" opacity="0.85"/><rect x="405.74" y="217.56" width="1.60" height="1.60" fill="#111" opacity="0.85"/><rect x="411.24" y="219.43" width="1.60" height="1.60" fill="#111" opacity="0.85"/><rect x="406.04" y="226.71" width="1.60" height="1.60" fill="#111" opacity="0.85"/><rect x="403.64" y="225.15" width="1.60" height="1.60" fill="#111" opacity="0.85"/><rect x="404.17" y="221.61" width="1.60" height="1.60" fill="#111" opacity="0.85"/><rect x="403.87" y="225.38" width="1.60" height="1.60" fill="#111" opacity="0.85"/><rect x="402.30" y="217.54" width="1.60" height="1.60" fill="#111" opacity="0.85"/><rect x="404.49" y="216.62" width="1.60" height="1.60" fill="#111" opacity="0.85"/><rect x="413.28" y="227.11" width="1.60" height="1.60" fill="#111" opacity="0.85"/><rect x="413.36" y="225.60" width="1.60" height="1.60" fill="#111" opacity="0.85"/><rect x="412.81" y="212.88" width="1.60" height="1.60" fill="#111" opacity="0.85"/><rect x="407.52" y="226.43" width="1.60" height="1.60" fill="#111" opacity="0.85"/><rect x="413.30" y="226.77" width="1.60" height="1.60" fill="#111" opacity="0.85"/><rect x="409.69" y="213.52" width="1.60" height="1.60" fill="#111" opacity="0.85"/><rect x="406.23" y="222.14" width="1.60" height="1.60" fill="#111" opacity="0.85"/><rect x="407.88" y="214.02" width="1.60" height="1.60" fill="#111" opacity="0.85"/><rect x="403.86" y="218.65" width="1.60" height="1.60" fill="#111" opacity="0.85"/><rect x="402.83" y="225.58" width="1.60" height="1.60" fill="#111" opacity="0.85"/><rect x="408.79" y="216.71" width="1.60" height="1.60" fill="#111" opacity="0.85"/><rect x="412.60" y="226.38" width="1.60" height="1.60" fill="#111" opacity="0.85"/><rect x="407.09" y="225.03" width="1.60" height="1.60" fill="#111" opacity="0.85"/><rect x="405.40" y="226.28" width="1.60" height="1.60" fill="#111" opacity="0.85"/><rect x="406.16" y="213.59" width="1.60" height="1.60" fill="#111" opacity="0.85"/><rect x="408.04" y="226.17" width="1.60" height="1.60" fill="#111" opacity="0.85"/><rect x="412.99" y="224.32" width="1.60" height="1.60" fill="#111" opacity="0.85"/><rect x="413.89" y="226.64" width="1.60" height="1.60" fill="#111" opacity="0.85"/><rect x="412.89" y="227.02" width="1.60" height="1.60" fill="#111" opacity="0.85"/><rect x="404.68" y="217.75" width="1.60" height="1.60" fill="#111" opacity="0.85"/><rect x="405.58" y="221.68" width="1.60" height="1.60" fill="#111" opacity="0.85"/><rect x="404.57" y="225.14" width="1.60" height="1.60" fill="#111" opacity="0.85"/><rect x="414.04" y="223.62" width="1.60" height="1.60" fill="#111" opacity="0.85"/><rect x="413.25" y="209.26" width="1.60" height="1.60" fill="#111" opacity="0.85"/><rect x="405.62" y="226.77" width="1.60" height="1.60" fill="#111" opacity="0.85"/><rect x="402.84" y="212.10" width="1.60" height="1.60" fill="#111" opacity="0.85"/><rect x="405.67" y="216.40" width="1.60" height="1.60" fill="#111" opacity="0.85"/></g>
<g><rect x="402.10" y="182.32" width="1.50" height="1.50" fill="#111" opacity="0.85"/><rect x="406.20" y="190.22" width="1.50" height="1.50" fill="#111" opacity="0.85"/><rect x="401.92" y="208.44" width="1.50" height="1.50" fill="#111" opacity="0.85"/><rect x="408.53" y="189.13" width="1.50" height="1.50" fill="#111" opacity="0.85"/><rect x="407.38" y="207.90" width="1.50" height="1.50" fill="#111" opacity="0.85"/><rect x="404.65" y="185.53" width="1.50" height="1.50" fill="#111" opacity="0.85"/><rect x="403.64" y="199.03" width="1.50" height="1.50" fill="#111" opacity="0.85"/><rect x="411.61" y="207.97" width="1.50" height="1.50" fill="#111" opacity="0.85"/><rect x="404.38" y="194.07" width="1.50" height="1.50" fill="#111" opacity="0.85"/><rect x="403.00" y="208.96" width="1.50" height="1.50" fill="#111" opacity="0.85"/><rect x="408.14" y="197.80" width="1.50" height="1.50" fill="#111" opacity="0.85"/><rect x="404.50" y="206.53" width="1.50" height="1.50" fill="#111" opacity="0.85"/><rect x="410.82" y="197.67" width="1.50" height="1.50" fill="#111" opacity="0.85"/><rect x="409.24" y="190.02" width="1.50" height="1.50" fill="#111" opacity="0.85"/><rect x="402.73" y="207.67" width="1.50" height="1.50" fill="#111" opacity="0.85"/><rect x="407.04" y="193.25" width="1.50" height="1.50" fill="#111" opacity="0.85"/><rect x="402.60" y="193.68" width="1.50" height="1.50" fill="#111" opacity="0.85"/><rect x="406.12" y="190.06" width="1.50" height="1.50" fill="#111" opacity="0.85"/><rect x="412.79" y="188.71" width="1.50" height="1.50" fill="#111" opacity="0.85"/><rect x="402.09" y="201.41" width="1.50" height="1.50" fill="#111" opacity="0.85"/><rect x="407.91" y="185.61" width="1.50" height="1.50" fill="#111" opacity="0.85"/><rect x="405.25" y="187.37" width="1.50" height="1.50" fill="#111" opacity="0.85"/><rect x="412.38" y="207.89" width="1.50" height="1.50" fill="#111" opacity="0.85"/><rect x="403.96" y="204.64" width="1.50" height="1.50" fill="#111" opacity="0.85"/><rect x="409.40" y="204.55" width="1.50" height="1.50" fill="#111" opacity="0.85"/><rect x="408.45" y="209.25" width="1.50" height="1.50" fill="#111" opacity="0.85"/><rect x="408.40" y="202.71" width="1.50" height="1.50" fill="#111" opacity="0.85"/><rect x="410.90" y="208.63" width="1.50" height="1.50" fill="#111" opacity="0.85"/><rect x="412.80" y="189.81" width="1.50" height="1.50" fill="#111" opacity="0.85"/><rect x="410.86" y="205.63" width="1.50" height="1.50" fill="#111" opacity="0.85"/><rect x="411.37" y="204.31" width="1.50" height="1.50" fill="#111" opacity="0.85"/><rect x="412.90" y="209.07" width="1.50" height="1.50" fill="#111" opacity="0.85"/><rect x="408.13" y="183.52" width="1.50" height="1.50" fill="#111" opacity="0.85"/><rect x="408.58" y="200.82" width="1.50" height="1.50" fill="#111" opacity="0.85"/><rect x="402.16" y="200.10" width="1.50" height="1.50" fill="#111" opacity="0.85"/><rect x="404.72" y="182.87" width="1.50" height="1.50" fill="#111" opacity="0.85"/><rect x="403.19" y="207.94" width="1.50" height="1.50" fill="#111" opacity="0.85"/><rect x="412.20" y="206.93" width="1.50" height="1.50" fill="#111" opacity="0.85"/><rect x="403.12" y="209.20" width="1.50" height="1.50" fill="#111" opacity="0.85"/><rect x="404.36" y="194.55" width="1.50" height="1.50" fill="#111" opacity="0.85"/><rect x="409.45" y="209.23" width="1.50" height="1.50" fill="#111" opacity="0.85"/><rect x="408.49" y="198.86" width="1.50" height="1.50" fill="#111" opacity="0.85"/><rect x="403.20" y="194.42" width="1.50" height="1.50" fill="#111" opacity="0.85"/><rect x="410.94" y="187.48" width="1.50" height="1.50" fill="#111" opacity="0.85"/><rect x="403.45" y="209.14" width="1.50" height="1.50" fill="#111" opacity="0.85"/><rect x="408.21" y="201.39" width="1.50" height="1.50" fill="#111" opacity="0.85"/><rect x="403.44" y="206.43" width="1.50" height="1.50" fill="#111" opacity="0.85"/><rect x="403.63" y="203.73" width="1.50" height="1.50" fill="#111" opacity="0.85"/><rect x="412.75" y="198.36" width="1.50" height="1.50" fill="#111" opacity="0.85"/><rect x="409.12" y="208.36" width="1.50" height="1.50" fill="#111" opacity="0.85"/><rect x="403.97" y="192.70" width="1.50" height="1.50" fill="#111" opacity="0.85"/><rect x="413.71" y="189.40" width="1.50" height="1.50" fill="#111" opacity="0.85"/><rect x="407.20" y="204.14" width="1.50" height="1.50" fill="#111" opacity="0.85"/><rect x="408.52" y="188.80" width="1.50" height="1.50" fill="#111" opacity="0.85"/><rect x="413.76" y="203.97" width="1.50" height="1.50" fill="#111" opacity="0.85"/><rect x="406.17" y="191.47" width="1.50" height="1.50" fill="#111" opacity="0.85"/><rect x="406.12" y="207.10" width="1.50" height="1.50" fill="#111" opacity="0.85"/><rect x="414.26" y="202.98" width="1.50" height="1.50" fill="#111" opacity="0.85"/><rect x="413.40" y="190.33" width="1.50" height="1.50" fill="#111" opacity="0.85"/><rect x="412.58" y="189.87" width="1.50" height="1.50" fill="#111" opacity="0.85"/><rect x="408.42" y="209.11" width="1.50" height="1.50" fill="#111" opacity="0.85"/><rect x="413.67" y="183.34" width="1.50" height="1.50" fill="#111" opacity="0.85"/><rect x="407.22" y="206.95" width="1.50" height="1.50" fill="#111" opacity="0.85"/><rect x="406.49" y="196.97" width="1.50" height="1.50" fill="#111" opacity="0.85"/><rect x="402.77" y="200.30" width="1.50" height="1.50" fill="#111" opacity="0.85"/><rect x="408.26" y="203.04" width="1.50" height="1.50" fill="#111" opacity="0.85"/><rect x="403.66" y="209.22" width="1.50" height="1.50" fill="#111" opacity="0.85"/><rect x="411.68" y="182.76" width="1.50" height="1.50" fill="#111" opacity="0.85"/><rect x="409.88" y="184.35" width="1.50" height="1.50" fill="#111" opacity="0.85"/><rect x="413.04" y="190.12" width="1.50" height="1.50" fill="#111" opacity="0.85"/></g>
<g><rect x="403.54" y="176.75" width="1.50" height="1.50" fill="#111" opacity="0.85"/><rect x="405.86" y="167.27" width="1.50" height="1.50" fill="#111" opacity="0.85"/><rect x="405.93" y="168.71" width="1.50" height="1.50" fill="#111" opacity="0.85"/><rect x="412.44" y="163.40" width="1.50" height="1.50" fill="#111" opacity="0.85"/><rect x="405.71" y="166.48" width="1.50" height="1.50" fill="#111" opacity="0.85"/><rect x="407.54" y="162.54" width="1.50" height="1.50" fill="#111" opacity="0.85"/><rect x="406.08" y="179.33" width="1.50" height="1.50" fill="#111" opacity="0.85"/><rect x="409.68" y="154.16" width="1.50" height="1.50" fill="#111" opacity="0.85"/><rect x="409.14" y="146.94" width="1.50" height="1.50" fill="#111" opacity="0.85"/><rect x="408.34" y="179.54" width="1.50" height="1.50" fill="#111" opacity="0.85"/><rect x="407.86" y="152.72" width="1.50" height="1.50" fill="#111" opacity="0.85"/><rect x="404.68" y="163.07" width="1.50" height="1.50" fill="#111" opacity="0.85"/><rect x="404.51" y="147.08" width="1.50" height="1.50" fill="#111" opacity="0.85"/><rect x="407.27" y="153.70" width="1.50" height="1.50" fill="#111" opacity="0.85"/><rect x="405.63" y="153.49" width="1.50" height="1.50" fill="#111" opacity="0.85"/><rect x="408.66" y="145.68" width="1.50" height="1.50" fill="#111" opacity="0.85"/></g>
<rect x="478.3" y="137.5" width="106.2" height="109.69999999999999" fill="none" stroke="#a0a0a0" stroke-width="1"/>
<line x1="476.3" y1="137.8" x2="478.3" y2="137.8" stroke="#999" stroke-width="0.8"/>
<text x="475.0" y="141.60000000000002" font-size="10.5" text-anchor="end" font-weight="normal" fill="#111" >15</text>
<line x1="476.3" y1="158.64000000000001" x2="478.3" y2="158.64000000000001" stroke="#999" stroke-width="0.8"/>
<text x="475.0" y="162.44000000000003" font-size="10.5" text-anchor="end" font-weight="normal" fill="#111" >12</text>
<line x1="476.3" y1="179.48000000000002" x2="478.3" y2="179.48000000000002" stroke="#999" stroke-width="0.8"/>
<text x="475.0" y="183.28000000000003" font-size="10.5" text-anchor="end" font-weight="normal" fill="#111" >9</text>
<line x1="476.3" y1="200.32" x2="478.3" y2="200.32" stroke="#999" stroke-width="0.8"/>
<text x="475.0" y="204.12" font-size="10.5" text-anchor="end" font-weight="normal" fill="#111" >6</text>
<line x1="476.3" y1="221.16000000000003" x2="478.3" y2="221.16000000000003" stroke="#999" stroke-width="0.8"/>
<text x="475.0" y="224.96000000000004" font-size="10.5" text-anchor="end" font-weight="normal" fill="#111" >3</text>
<line x1="476.3" y1="242.0" x2="478.3" y2="242.0" stroke="#999" stroke-width="0.8"/>
<text x="475.0" y="245.8" font-size="10.5" text-anchor="end" font-weight="normal" fill="#111" >0</text>
<line x1="504.85" y1="247.2" x2="504.85" y2="249.2" stroke="#999" stroke-width="0.8"/>
<line x1="557.95" y1="247.2" x2="557.95" y2="249.2" stroke="#999" stroke-width="0.8"/>
<text x="459.8" y="192.35" font-size="10.8" text-anchor="middle" font-weight="normal" fill="#111" transform="rotate(-90 459.8 192.35)">MaxEntScan score</text>
<text x="504.85" y="256.8" font-size="10.2" text-anchor="middle" font-weight="normal" fill="#111" >pathogenic</text>
<text x="557.95" y="256.8" font-size="10.2" text-anchor="middle" font-weight="normal" fill="#111" >benign</text>
<path d="M499.05,155.40 L498.08,156.31 L496.69,157.59 L495.08,159.09 L493.39,160.69 L491.83,162.24 L490.55,163.60 L489.56,164.77 L488.71,165.84 L487.98,166.87 L487.32,167.89 L486.73,168.96 L486.15,170.10 L485.56,171.32 L484.96,172.59 L484.41,173.89 L483.98,175.23 L483.70,176.60 L483.65,178.00 L483.85,179.45 L484.26,180.96 L484.84,182.51 L485.54,184.05 L486.29,185.56 L487.05,187.00 L487.87,188.37 L488.81,189.69 L489.80,190.97 L490.81,192.24 L491.77,193.51 L492.65,194.80 L493.45,196.11 L494.21,197.43 L494.93,198.75 L495.61,200.07 L496.25,201.39 L496.85,202.70 L497.42,203.98 L497.96,205.21 L498.46,206.44 L498.91,207.71 L499.31,209.05 L499.65,210.50 L499.92,212.05 L500.11,213.68 L500.26,215.38 L500.36,217.14 L500.46,218.99 L500.55,220.90 L500.65,222.97 L500.74,225.21 L500.81,227.53 L500.86,229.82 L500.88,231.98 L500.85,233.90 L500.76,235.65 L500.61,237.32 L500.42,238.86 L500.23,240.22 L500.06,241.35 L499.95,242.20 L509.75,242.20 L509.64,241.35 L509.47,240.22 L509.28,238.86 L509.09,237.32 L508.94,235.65 L508.85,233.90 L508.82,231.98 L508.84,229.82 L508.89,227.53 L508.96,225.21 L509.05,222.97 L509.15,220.90 L509.24,218.99 L509.34,217.14 L509.44,215.38 L509.59,213.68 L509.78,212.05 L510.05,210.50 L510.39,209.05 L510.79,207.71 L511.24,206.44 L511.74,205.21 L512.28,203.98 L512.85,202.70 L513.45,201.39 L514.09,200.07 L514.77,198.75 L515.49,197.43 L516.25,196.11 L517.05,194.80 L517.93,193.51 L518.89,192.24 L519.90,190.97 L520.89,189.69 L521.83,188.37 L522.65,187.00 L523.41,185.56 L524.16,184.05 L524.86,182.51 L525.44,180.96 L525.85,179.45 L526.05,178.00 L526.00,176.60 L525.72,175.23 L525.29,173.89 L524.74,172.59 L524.14,171.32 L523.55,170.10 L522.97,168.96 L522.38,167.89 L521.73,166.87 L520.99,165.84 L520.14,164.77 L519.15,163.60 L517.87,162.24 L516.31,160.69 L514.62,159.09 L513.01,157.59 L511.62,156.31 L510.65,155.40 Z" fill="#ff5218" stroke="#333a44" stroke-width="0.8"/>
<line x1="504.85" y1="155.4" x2="504.85" y2="242" stroke="#555" stroke-width="0.9"/>
<rect x="503.25" y="169.6" width="3.2" height="34.599999999999994" fill="#555"/>
<g><rect x="505.36" y="197.45" width="1.40" height="1.40" fill="#111" opacity="0.85"/><rect x="505.80" y="184.24" width="1.40" height="1.40" fill="#111" opacity="0.85"/><rect x="506.46" y="166.16" width="1.40" height="1.40" fill="#111" opacity="0.85"/><rect x="504.68" y="178.88" width="1.40" height="1.40" fill="#111" opacity="0.85"/><rect x="503.81" y="186.33" width="1.40" height="1.40" fill="#111" opacity="0.85"/><rect x="501.31" y="171.51" width="1.40" height="1.40" fill="#111" opacity="0.85"/><rect x="504.29" y="167.16" width="1.40" height="1.40" fill="#111" opacity="0.85"/><rect x="505.09" y="175.08" width="1.40" height="1.40" fill="#111" opacity="0.85"/><rect x="502.53" y="156.88" width="1.40" height="1.40" fill="#111" opacity="0.85"/><rect x="501.27" y="198.53" width="1.40" height="1.40" fill="#111" opacity="0.85"/><rect x="504.06" y="183.58" width="1.40" height="1.40" fill="#111" opacity="0.85"/><rect x="509.51" y="170.26" width="1.40" height="1.40" fill="#111" opacity="0.85"/><rect x="507.14" y="170.78" width="1.40" height="1.40" fill="#111" opacity="0.85"/><rect x="499.38" y="164.07" width="1.40" height="1.40" fill="#111" opacity="0.85"/><rect x="503.49" y="198.99" width="1.40" height="1.40" fill="#111" opacity="0.85"/><rect x="502.92" y="159.34" width="1.40" height="1.40" fill="#111" opacity="0.85"/><rect x="506.74" y="177.85" width="1.40" height="1.40" fill="#111" opacity="0.85"/><rect x="501.13" y="161.65" width="1.40" height="1.40" fill="#111" opacity="0.85"/><rect x="506.78" y="203.31" width="1.40" height="1.40" fill="#111" opacity="0.85"/><rect x="502.36" y="163.87" width="1.40" height="1.40" fill="#111" opacity="0.85"/><rect x="506.08" y="173.57" width="1.40" height="1.40" fill="#111" opacity="0.85"/><rect x="508.00" y="186.50" width="1.40" height="1.40" fill="#111" opacity="0.85"/><rect x="504.35" y="196.54" width="1.40" height="1.40" fill="#111" opacity="0.85"/><rect x="506.83" y="192.50" width="1.40" height="1.40" fill="#111" opacity="0.85"/><rect x="503.88" y="193.53" width="1.40" height="1.40" fill="#111" opacity="0.85"/><rect x="506.44" y="194.76" width="1.40" height="1.40" fill="#111" opacity="0.85"/><rect x="500.05" y="201.12" width="1.40" height="1.40" fill="#111" opacity="0.85"/><rect x="498.70" y="198.97" width="1.40" height="1.40" fill="#111" opacity="0.85"/><rect x="505.09" y="193.82" width="1.40" height="1.40" fill="#111" opacity="0.85"/><rect x="509.24" y="180.70" width="1.40" height="1.40" fill="#111" opacity="0.85"/><rect x="503.25" y="184.33" width="1.40" height="1.40" fill="#111" opacity="0.85"/><rect x="508.25" y="194.70" width="1.40" height="1.40" fill="#111" opacity="0.85"/><rect x="502.83" y="186.06" width="1.40" height="1.40" fill="#111" opacity="0.85"/><rect x="503.69" y="178.46" width="1.40" height="1.40" fill="#111" opacity="0.85"/><rect x="501.87" y="191.73" width="1.40" height="1.40" fill="#111" opacity="0.85"/><rect x="504.76" y="175.44" width="1.40" height="1.40" fill="#111" opacity="0.85"/><rect x="502.19" y="175.14" width="1.40" height="1.40" fill="#111" opacity="0.85"/><rect x="508.00" y="194.87" width="1.40" height="1.40" fill="#111" opacity="0.85"/><rect x="503.53" y="180.78" width="1.40" height="1.40" fill="#111" opacity="0.85"/><rect x="501.99" y="165.33" width="1.40" height="1.40" fill="#111" opacity="0.85"/><rect x="504.98" y="163.40" width="1.40" height="1.40" fill="#111" opacity="0.85"/><rect x="499.62" y="184.80" width="1.40" height="1.40" fill="#111" opacity="0.85"/><rect x="502.21" y="201.39" width="1.40" height="1.40" fill="#111" opacity="0.85"/><rect x="507.87" y="197.63" width="1.40" height="1.40" fill="#111" opacity="0.85"/><rect x="500.90" y="203.28" width="1.40" height="1.40" fill="#111" opacity="0.85"/><rect x="508.67" y="177.20" width="1.40" height="1.40" fill="#111" opacity="0.85"/><rect x="499.17" y="156.82" width="1.40" height="1.40" fill="#111" opacity="0.85"/><rect x="504.12" y="183.98" width="1.40" height="1.40" fill="#111" opacity="0.85"/><rect x="507.16" y="201.40" width="1.40" height="1.40" fill="#111" opacity="0.85"/><rect x="509.63" y="182.69" width="1.40" height="1.40" fill="#111" opacity="0.85"/><rect x="504.34" y="181.65" width="1.40" height="1.40" fill="#111" opacity="0.85"/><rect x="502.93" y="189.88" width="1.40" height="1.40" fill="#111" opacity="0.85"/><rect x="505.19" y="173.83" width="1.40" height="1.40" fill="#111" opacity="0.85"/><rect x="509.08" y="173.50" width="1.40" height="1.40" fill="#111" opacity="0.85"/><rect x="504.43" y="189.45" width="1.40" height="1.40" fill="#111" opacity="0.85"/><rect x="502.77" y="161.15" width="1.40" height="1.40" fill="#111" opacity="0.85"/><rect x="504.82" y="175.94" width="1.40" height="1.40" fill="#111" opacity="0.85"/><rect x="508.33" y="184.43" width="1.40" height="1.40" fill="#111" opacity="0.85"/><rect x="504.00" y="203.56" width="1.40" height="1.40" fill="#111" opacity="0.85"/><rect x="505.52" y="177.87" width="1.40" height="1.40" fill="#111" opacity="0.85"/><rect x="502.43" y="205.11" width="1.40" height="1.40" fill="#111" opacity="0.85"/><rect x="507.62" y="182.28" width="1.40" height="1.40" fill="#111" opacity="0.85"/><rect x="502.15" y="164.67" width="1.40" height="1.40" fill="#111" opacity="0.85"/><rect x="507.74" y="204.24" width="1.40" height="1.40" fill="#111" opacity="0.85"/><rect x="499.87" y="181.42" width="1.40" height="1.40" fill="#111" opacity="0.85"/><rect x="506.24" y="200.13" width="1.40" height="1.40" fill="#111" opacity="0.85"/><rect x="509.54" y="196.51" width="1.40" height="1.40" fill="#111" opacity="0.85"/><rect x="503.28" y="199.82" width="1.40" height="1.40" fill="#111" opacity="0.85"/><rect x="501.84" y="163.96" width="1.40" height="1.40" fill="#111" opacity="0.85"/><rect x="504.20" y="181.37" width="1.40" height="1.40" fill="#111" opacity="0.85"/><rect x="500.66" y="165.52" width="1.40" height="1.40" fill="#111" opacity="0.85"/><rect x="505.28" y="187.17" width="1.40" height="1.40" fill="#111" opacity="0.85"/><rect x="509.58" y="173.61" width="1.40" height="1.40" fill="#111" opacity="0.85"/><rect x="499.12" y="187.49" width="1.40" height="1.40" fill="#111" opacity="0.85"/><rect x="507.31" y="176.46" width="1.40" height="1.40" fill="#111" opacity="0.85"/><rect x="506.25" y="171.33" width="1.40" height="1.40" fill="#111" opacity="0.85"/><rect x="502.00" y="156.49" width="1.40" height="1.40" fill="#111" opacity="0.85"/><rect x="505.10" y="197.57" width="1.40" height="1.40" fill="#111" opacity="0.85"/><rect x="500.81" y="189.04" width="1.40" height="1.40" fill="#111" opacity="0.85"/><rect x="504.74" y="180.70" width="1.40" height="1.40" fill="#111" opacity="0.85"/><rect x="505.76" y="169.33" width="1.40" height="1.40" fill="#111" opacity="0.85"/><rect x="509.62" y="182.34" width="1.40" height="1.40" fill="#111" opacity="0.85"/><rect x="503.17" y="184.45" width="1.40" height="1.40" fill="#111" opacity="0.85"/><rect x="500.37" y="162.25" width="1.40" height="1.40" fill="#111" opacity="0.85"/><rect x="499.82" y="193.52" width="1.40" height="1.40" fill="#111" opacity="0.85"/><rect x="500.53" y="161.21" width="1.40" height="1.40" fill="#111" opacity="0.85"/><rect x="507.70" y="181.90" width="1.40" height="1.40" fill="#111" opacity="0.85"/><rect x="507.52" y="186.34" width="1.40" height="1.40" fill="#111" opacity="0.85"/><rect x="498.79" y="159.34" width="1.40" height="1.40" fill="#111" opacity="0.85"/><rect x="502.20" y="194.06" width="1.40" height="1.40" fill="#111" opacity="0.85"/><rect x="502.54" y="191.36" width="1.40" height="1.40" fill="#111" opacity="0.85"/><rect x="501.58" y="164.60" width="1.40" height="1.40" fill="#111" opacity="0.85"/><rect x="508.59" y="161.17" width="1.40" height="1.40" fill="#111" opacity="0.85"/><rect x="502.49" y="184.83" width="1.40" height="1.40" fill="#111" opacity="0.85"/><rect x="502.89" y="178.34" width="1.40" height="1.40" fill="#111" opacity="0.85"/></g>
<g><rect x="506.88" y="207.27" width="1.40" height="1.40" fill="#111" opacity="0.85"/><rect x="506.96" y="226.28" width="1.40" height="1.40" fill="#111" opacity="0.85"/><rect x="504.93" y="221.13" width="1.40" height="1.40" fill="#111" opacity="0.85"/><rect x="500.96" y="214.28" width="1.40" height="1.40" fill="#111" opacity="0.85"/><rect x="506.63" y="238.81" width="1.40" height="1.40" fill="#111" opacity="0.85"/><rect x="506.92" y="216.63" width="1.40" height="1.40" fill="#111" opacity="0.85"/><rect x="502.94" y="234.67" width="1.40" height="1.40" fill="#111" opacity="0.85"/><rect x="506.94" y="226.99" width="1.40" height="1.40" fill="#111" opacity="0.85"/><rect x="507.00" y="223.14" width="1.40" height="1.40" fill="#111" opacity="0.85"/><rect x="503.38" y="214.05" width="1.40" height="1.40" fill="#111" opacity="0.85"/><rect x="502.49" y="231.16" width="1.40" height="1.40" fill="#111" opacity="0.85"/><rect x="506.77" y="216.43" width="1.40" height="1.40" fill="#111" opacity="0.85"/><rect x="506.01" y="222.74" width="1.40" height="1.40" fill="#111" opacity="0.85"/><rect x="501.86" y="214.06" width="1.40" height="1.40" fill="#111" opacity="0.85"/></g>
<path d="M557.45,237.80 L556.81,237.82 L555.95,237.83 L554.92,237.86 L553.78,237.91 L552.61,238.02 L551.45,238.20 L550.29,238.48 L549.08,238.84 L547.83,239.25 L546.54,239.69 L545.25,240.11 L543.95,240.50 L542.30,240.87 L540.23,241.25 L538.14,241.62 L536.45,241.96 L535.58,242.26 L535.95,242.50 L538.08,242.66 L541.73,242.77 L546.20,242.82 L550.78,242.86 L554.77,242.87 L557.45,242.90 L558.45,242.90 L561.13,242.87 L565.12,242.86 L569.70,242.82 L574.17,242.77 L577.83,242.66 L579.95,242.50 L580.32,242.26 L579.45,241.96 L577.76,241.62 L575.67,241.25 L573.60,240.87 L571.95,240.50 L570.65,240.11 L569.36,239.69 L568.08,239.25 L566.82,238.84 L565.61,238.48 L564.45,238.20 L563.29,238.02 L562.12,237.91 L560.98,237.86 L559.95,237.83 L559.09,237.82 L558.45,237.80 Z" fill="#1e8fe0" stroke="#333" stroke-width="0.8"/>
<rect x="551.95" y="162" width="12" height="80.5" fill="#000"/>
<g><rect x="553.39" y="160.79" width="1.60" height="1.60" fill="#111" opacity="0.85"/><rect x="554.64" y="151.82" width="1.60" height="1.60" fill="#111" opacity="0.85"/><rect x="552.53" y="158.73" width="1.60" height="1.60" fill="#111" opacity="0.85"/><rect x="555.78" y="159.07" width="1.60" height="1.60" fill="#111" opacity="0.85"/><rect x="551.94" y="160.41" width="1.60" height="1.60" fill="#111" opacity="0.85"/><rect x="561.06" y="162.03" width="1.60" height="1.60" fill="#111" opacity="0.85"/><rect x="554.09" y="160.84" width="1.60" height="1.60" fill="#111" opacity="0.85"/><rect x="554.55" y="161.80" width="1.60" height="1.60" fill="#111" opacity="0.85"/><rect x="551.57" y="161.58" width="1.60" height="1.60" fill="#111" opacity="0.85"/><rect x="555.25" y="157.35" width="1.60" height="1.60" fill="#111" opacity="0.85"/><rect x="559.62" y="161.93" width="1.60" height="1.60" fill="#111" opacity="0.85"/><rect x="554.39" y="162.11" width="1.60" height="1.60" fill="#111" opacity="0.85"/><rect x="552.68" y="154.53" width="1.60" height="1.60" fill="#111" opacity="0.85"/><rect x="561.19" y="160.04" width="1.60" height="1.60" fill="#111" opacity="0.85"/><rect x="553.06" y="155.07" width="1.60" height="1.60" fill="#111" opacity="0.85"/><rect x="559.82" y="160.83" width="1.60" height="1.60" fill="#111" opacity="0.85"/><rect x="562.65" y="160.64" width="1.60" height="1.60" fill="#111" opacity="0.85"/><rect x="562.56" y="161.72" width="1.60" height="1.60" fill="#111" opacity="0.85"/><rect x="553.88" y="159.40" width="1.60" height="1.60" fill="#111" opacity="0.85"/><rect x="552.72" y="159.95" width="1.60" height="1.60" fill="#111" opacity="0.85"/><rect x="554.28" y="156.71" width="1.60" height="1.60" fill="#111" opacity="0.85"/><rect x="558.20" y="153.30" width="1.60" height="1.60" fill="#111" opacity="0.85"/><rect x="554.11" y="160.71" width="1.60" height="1.60" fill="#111" opacity="0.85"/><rect x="553.70" y="158.13" width="1.60" height="1.60" fill="#111" opacity="0.85"/><rect x="552.62" y="153.83" width="1.60" height="1.60" fill="#111" opacity="0.85"/><rect x="557.66" y="159.30" width="1.60" height="1.60" fill="#111" opacity="0.85"/><rect x="560.41" y="161.40" width="1.60" height="1.60" fill="#111" opacity="0.85"/><rect x="559.04" y="160.57" width="1.60" height="1.60" fill="#111" opacity="0.85"/><rect x="554.88" y="158.66" width="1.60" height="1.60" fill="#111" opacity="0.85"/><rect x="552.18" y="160.53" width="1.60" height="1.60" fill="#111" opacity="0.85"/><rect x="561.36" y="161.86" width="1.60" height="1.60" fill="#111" opacity="0.85"/><rect x="559.10" y="161.07" width="1.60" height="1.60" fill="#111" opacity="0.85"/><rect x="557.89" y="162.07" width="1.60" height="1.60" fill="#111" opacity="0.85"/><rect x="557.15" y="160.76" width="1.60" height="1.60" fill="#111" opacity="0.85"/><rect x="551.94" y="161.23" width="1.60" height="1.60" fill="#111" opacity="0.85"/><rect x="553.87" y="161.13" width="1.60" height="1.60" fill="#111" opacity="0.85"/><rect x="559.75" y="162.02" width="1.60" height="1.60" fill="#111" opacity="0.85"/><rect x="555.99" y="161.32" width="1.60" height="1.60" fill="#111" opacity="0.85"/><rect x="560.45" y="153.11" width="1.60" height="1.60" fill="#111" opacity="0.85"/><rect x="561.49" y="153.63" width="1.60" height="1.60" fill="#111" opacity="0.85"/><rect x="554.47" y="162.01" width="1.60" height="1.60" fill="#111" opacity="0.85"/><rect x="559.31" y="162.19" width="1.60" height="1.60" fill="#111" opacity="0.85"/><rect x="555.37" y="157.36" width="1.60" height="1.60" fill="#111" opacity="0.85"/><rect x="559.06" y="160.33" width="1.60" height="1.60" fill="#111" opacity="0.85"/><rect x="554.13" y="156.82" width="1.60" height="1.60" fill="#111" opacity="0.85"/><rect x="555.38" y="154.31" width="1.60" height="1.60" fill="#111" opacity="0.85"/><rect x="553.33" y="157.85" width="1.60" height="1.60" fill="#111" opacity="0.85"/><rect x="562.10" y="162.05" width="1.60" height="1.60" fill="#111" opacity="0.85"/><rect x="559.70" y="156.27" width="1.60" height="1.60" fill="#111" opacity="0.85"/><rect x="551.63" y="162.18" width="1.60" height="1.60" fill="#111" opacity="0.85"/><rect x="553.53" y="161.91" width="1.60" height="1.60" fill="#111" opacity="0.85"/><rect x="555.72" y="161.19" width="1.60" height="1.60" fill="#111" opacity="0.85"/><rect x="554.88" y="162.18" width="1.60" height="1.60" fill="#111" opacity="0.85"/><rect x="553.31" y="157.72" width="1.60" height="1.60" fill="#111" opacity="0.85"/><rect x="557.99" y="154.45" width="1.60" height="1.60" fill="#111" opacity="0.85"/><rect x="554.21" y="156.55" width="1.60" height="1.60" fill="#111" opacity="0.85"/><rect x="559.36" y="160.12" width="1.60" height="1.60" fill="#111" opacity="0.85"/><rect x="551.16" y="160.86" width="1.60" height="1.60" fill="#111" opacity="0.85"/><rect x="560.47" y="154.54" width="1.60" height="1.60" fill="#111" opacity="0.85"/><rect x="551.67" y="161.30" width="1.60" height="1.60" fill="#111" opacity="0.85"/><rect x="558.44" y="154.17" width="1.60" height="1.60" fill="#111" opacity="0.85"/><rect x="554.08" y="162.18" width="1.60" height="1.60" fill="#111" opacity="0.85"/><rect x="560.65" y="162.06" width="1.60" height="1.60" fill="#111" opacity="0.85"/><rect x="562.12" y="161.71" width="1.60" height="1.60" fill="#111" opacity="0.85"/><rect x="552.18" y="156.02" width="1.60" height="1.60" fill="#111" opacity="0.85"/><rect x="555.87" y="156.89" width="1.60" height="1.60" fill="#111" opacity="0.85"/><rect x="561.09" y="156.05" width="1.60" height="1.60" fill="#111" opacity="0.85"/><rect x="552.23" y="161.33" width="1.60" height="1.60" fill="#111" opacity="0.85"/><rect x="556.24" y="152.35" width="1.60" height="1.60" fill="#111" opacity="0.85"/><rect x="559.45" y="152.68" width="1.60" height="1.60" fill="#111" opacity="0.85"/><rect x="561.11" y="156.20" width="1.60" height="1.60" fill="#111" opacity="0.85"/><rect x="556.58" y="157.86" width="1.60" height="1.60" fill="#111" opacity="0.85"/><rect x="559.53" y="162.17" width="1.60" height="1.60" fill="#111" opacity="0.85"/><rect x="557.29" y="160.18" width="1.60" height="1.60" fill="#111" opacity="0.85"/><rect x="552.68" y="152.72" width="1.60" height="1.60" fill="#111" opacity="0.85"/><rect x="551.67" y="155.81" width="1.60" height="1.60" fill="#111" opacity="0.85"/><rect x="560.82" y="156.77" width="1.60" height="1.60" fill="#111" opacity="0.85"/><rect x="557.71" y="161.45" width="1.60" height="1.60" fill="#111" opacity="0.85"/><rect x="558.80" y="151.86" width="1.60" height="1.60" fill="#111" opacity="0.85"/><rect x="554.15" y="158.95" width="1.60" height="1.60" fill="#111" opacity="0.85"/><rect x="555.44" y="162.16" width="1.60" height="1.60" fill="#111" opacity="0.85"/><rect x="553.57" y="160.34" width="1.60" height="1.60" fill="#111" opacity="0.85"/><rect x="552.79" y="161.14" width="1.60" height="1.60" fill="#111" opacity="0.85"/><rect x="559.19" y="156.70" width="1.60" height="1.60" fill="#111" opacity="0.85"/><rect x="554.05" y="161.58" width="1.60" height="1.60" fill="#111" opacity="0.85"/><rect x="556.49" y="159.28" width="1.60" height="1.60" fill="#111" opacity="0.85"/><rect x="555.37" y="152.57" width="1.60" height="1.60" fill="#111" opacity="0.85"/><rect x="561.77" y="161.21" width="1.60" height="1.60" fill="#111" opacity="0.85"/><rect x="557.91" y="161.98" width="1.60" height="1.60" fill="#111" opacity="0.85"/><rect x="560.93" y="160.98" width="1.60" height="1.60" fill="#111" opacity="0.85"/><rect x="560.28" y="158.89" width="1.60" height="1.60" fill="#111" opacity="0.85"/><rect x="559.15" y="161.89" width="1.60" height="1.60" fill="#111" opacity="0.85"/><rect x="556.68" y="158.26" width="1.60" height="1.60" fill="#111" opacity="0.85"/><rect x="561.12" y="155.74" width="1.60" height="1.60" fill="#111" opacity="0.85"/><rect x="554.62" y="162.06" width="1.60" height="1.60" fill="#111" opacity="0.85"/><rect x="553.63" y="160.77" width="1.60" height="1.60" fill="#111" opacity="0.85"/><rect x="554.52" y="162.16" width="1.60" height="1.60" fill="#111" opacity="0.85"/><rect x="559.57" y="161.77" width="1.60" height="1.60" fill="#111" opacity="0.85"/><rect x="552.51" y="159.99" width="1.60" height="1.60" fill="#111" opacity="0.85"/><rect x="556.77" y="161.04" width="1.60" height="1.60" fill="#111" opacity="0.85"/><rect x="553.17" y="160.75" width="1.60" height="1.60" fill="#111" opacity="0.85"/><rect x="551.28" y="162.14" width="1.60" height="1.60" fill="#111" opacity="0.85"/><rect x="560.16" y="151.37" width="1.60" height="1.60" fill="#111" opacity="0.85"/><rect x="559.76" y="162.12" width="1.60" height="1.60" fill="#111" opacity="0.85"/><rect x="557.91" y="151.63" width="1.60" height="1.60" fill="#111" opacity="0.85"/><rect x="557.02" y="162.07" width="1.60" height="1.60" fill="#111" opacity="0.85"/><rect x="553.43" y="160.13" width="1.60" height="1.60" fill="#111" opacity="0.85"/><rect x="551.25" y="158.96" width="1.60" height="1.60" fill="#111" opacity="0.85"/><rect x="558.88" y="152.90" width="1.60" height="1.60" fill="#111" opacity="0.85"/><rect x="562.37" y="157.87" width="1.60" height="1.60" fill="#111" opacity="0.85"/><rect x="554.17" y="157.52" width="1.60" height="1.60" fill="#111" opacity="0.85"/><rect x="552.81" y="161.53" width="1.60" height="1.60" fill="#111" opacity="0.85"/><rect x="560.44" y="162.19" width="1.60" height="1.60" fill="#111" opacity="0.85"/><rect x="554.71" y="154.45" width="1.60" height="1.60" fill="#111" opacity="0.85"/><rect x="558.81" y="161.82" width="1.60" height="1.60" fill="#111" opacity="0.85"/><rect x="562.27" y="154.33" width="1.60" height="1.60" fill="#111" opacity="0.85"/><rect x="560.57" y="161.89" width="1.60" height="1.60" fill="#111" opacity="0.85"/><rect x="560.06" y="154.61" width="1.60" height="1.60" fill="#111" opacity="0.85"/><rect x="553.36" y="161.03" width="1.60" height="1.60" fill="#111" opacity="0.85"/><rect x="554.99" y="154.71" width="1.60" height="1.60" fill="#111" opacity="0.85"/></g>
<g><rect x="557.56" y="146.51" width="1.50" height="1.50" fill="#111" opacity="0.85"/><rect x="559.52" y="146.52" width="1.50" height="1.50" fill="#111" opacity="0.85"/><rect x="553.99" y="145.55" width="1.50" height="1.50" fill="#111" opacity="0.85"/><rect x="558.10" y="148.00" width="1.50" height="1.50" fill="#111" opacity="0.85"/><rect x="558.64" y="149.90" width="1.50" height="1.50" fill="#111" opacity="0.85"/><rect x="560.31" y="150.54" width="1.50" height="1.50" fill="#111" opacity="0.85"/><rect x="557.20" y="147.46" width="1.50" height="1.50" fill="#111" opacity="0.85"/><rect x="555.80" y="144.93" width="1.50" height="1.50" fill="#111" opacity="0.85"/><rect x="554.26" y="148.11" width="1.50" height="1.50" fill="#111" opacity="0.85"/><rect x="554.85" y="148.91" width="1.50" height="1.50" fill="#111" opacity="0.85"/><rect x="560.49" y="147.07" width="1.50" height="1.50" fill="#111" opacity="0.85"/><rect x="553.98" y="144.42" width="1.50" height="1.50" fill="#111" opacity="0.85"/><rect x="555.04" y="147.05" width="1.50" height="1.50" fill="#111" opacity="0.85"/><rect x="553.72" y="149.17" width="1.50" height="1.50" fill="#111" opacity="0.85"/></g>
<rect x="627.5" y="137.5" width="106.2" height="109.69999999999999" fill="none" stroke="#a0a0a0" stroke-width="1"/>
<line x1="625.5" y1="137.8" x2="627.5" y2="137.8" stroke="#999" stroke-width="0.8"/>
<text x="624.2" y="141.60000000000002" font-size="10.5" text-anchor="end" font-weight="normal" fill="#111" >25</text>
<line x1="625.5" y1="158.64000000000001" x2="627.5" y2="158.64000000000001" stroke="#999" stroke-width="0.8"/>
<text x="624.2" y="162.44000000000003" font-size="10.5" text-anchor="end" font-weight="normal" fill="#111" >20</text>
<line x1="625.5" y1="179.48000000000002" x2="627.5" y2="179.48000000000002" stroke="#999" stroke-width="0.8"/>
<text x="624.2" y="183.28000000000003" font-size="10.5" text-anchor="end" font-weight="normal" fill="#111" >15</text>
<line x1="625.5" y1="200.32" x2="627.5" y2="200.32" stroke="#999" stroke-width="0.8"/>
<text x="624.2" y="204.12" font-size="10.5" text-anchor="end" font-weight="normal" fill="#111" >10</text>
<line x1="625.5" y1="221.16000000000003" x2="627.5" y2="221.16000000000003" stroke="#999" stroke-width="0.8"/>
<text x="624.2" y="224.96000000000004" font-size="10.5" text-anchor="end" font-weight="normal" fill="#111" >5</text>
<line x1="625.5" y1="242.0" x2="627.5" y2="242.0" stroke="#999" stroke-width="0.8"/>
<text x="624.2" y="245.8" font-size="10.5" text-anchor="end" font-weight="normal" fill="#111" >0</text>
<line x1="654.05" y1="247.2" x2="654.05" y2="249.2" stroke="#999" stroke-width="0.8"/>
<line x1="707.15" y1="247.2" x2="707.15" y2="249.2" stroke="#999" stroke-width="0.8"/>
<text x="608.0" y="192.35" font-size="10.8" text-anchor="middle" font-weight="normal" fill="#111" transform="rotate(-90 608.0 192.35)">CADD-Splice score</text>
<text x="654.05" y="256.8" font-size="10.2" text-anchor="middle" font-weight="normal" fill="#111" >pathogenic</text>
<text x="707.15" y="256.8" font-size="10.2" text-anchor="middle" font-weight="normal" fill="#111" >benign</text>
<path d="M651.35,145.20 L651.33,146.67 L651.31,148.77 L651.28,151.22 L651.24,153.76 L651.16,156.11 L651.05,158.00 L650.91,159.39 L650.75,160.50 L650.56,161.43 L650.34,162.25 L650.07,163.08 L649.75,164.00 L649.37,165.00 L648.92,166.00 L648.43,167.00 L647.91,168.00 L647.38,169.00 L646.85,170.00 L646.32,170.97 L645.79,171.89 L645.24,172.81 L644.68,173.78 L644.08,174.83 L643.45,176.00 L642.76,177.35 L642.01,178.85 L641.24,180.44 L640.46,182.04 L639.73,183.58 L639.05,185.00 L638.45,186.23 L637.89,187.31 L637.37,188.34 L636.86,189.40 L636.36,190.59 L635.85,192.00 L635.28,193.73 L634.66,195.72 L634.04,197.84 L633.48,199.95 L633.03,201.91 L632.75,203.60 L632.66,204.96 L632.71,206.09 L632.88,207.08 L633.13,208.01 L633.43,208.95 L633.75,210.00 L634.13,211.15 L634.59,212.32 L635.11,213.52 L635.63,214.72 L636.13,215.92 L636.55,217.10 L636.90,218.26 L637.22,219.42 L637.50,220.57 L637.76,221.72 L638.01,222.86 L638.25,224.00 L638.48,225.14 L638.68,226.30 L638.87,227.45 L639.05,228.58 L639.24,229.67 L639.45,230.70 L639.66,231.68 L639.88,232.62 L640.10,233.52 L640.33,234.38 L640.58,235.21 L640.85,236.00 L641.16,236.77 L641.50,237.51 L641.86,238.22 L642.21,238.88 L642.55,239.48 L642.85,240.00 L643.12,240.45 L643.38,240.83 L643.62,241.15 L643.84,241.41 L644.02,241.63 L644.15,241.80 L663.95,241.80 L664.08,241.63 L664.26,241.41 L664.47,241.15 L664.72,240.83 L664.98,240.45 L665.25,240.00 L665.55,239.48 L665.89,238.88 L666.24,238.22 L666.60,237.51 L666.94,236.77 L667.25,236.00 L667.52,235.21 L667.77,234.38 L668.00,233.52 L668.22,232.62 L668.44,231.68 L668.65,230.70 L668.86,229.67 L669.05,228.58 L669.23,227.45 L669.42,226.30 L669.62,225.14 L669.85,224.00 L670.09,222.86 L670.34,221.72 L670.60,220.57 L670.88,219.42 L671.20,218.26 L671.55,217.10 L671.97,215.92 L672.47,214.72 L672.99,213.52 L673.51,212.32 L673.97,211.15 L674.35,210.00 L674.67,208.95 L674.97,208.01 L675.22,207.08 L675.39,206.09 L675.44,204.96 L675.35,203.60 L675.07,201.91 L674.62,199.95 L674.06,197.84 L673.44,195.72 L672.82,193.73 L672.25,192.00 L671.74,190.59 L671.24,189.40 L670.73,188.34 L670.21,187.31 L669.65,186.23 L669.05,185.00 L668.37,183.58 L667.64,182.04 L666.86,180.44 L666.09,178.85 L665.34,177.35 L664.65,176.00 L664.02,174.83 L663.42,173.78 L662.86,172.81 L662.31,171.89 L661.78,170.97 L661.25,170.00 L660.72,169.00 L660.19,168.00 L659.67,167.00 L659.18,166.00 L658.73,165.00 L658.35,164.00 L658.03,163.08 L657.76,162.25 L657.54,161.43 L657.35,160.50 L657.19,159.39 L657.05,158.00 L656.94,156.11 L656.86,153.76 L656.82,151.22 L656.79,148.77 L656.77,146.67 L656.75,145.20 Z" fill="#ff5218" stroke="#333a44" stroke-width="0.8"/>
<line x1="654.05" y1="145.2" x2="654.05" y2="242" stroke="#555" stroke-width="0.9"/>
<rect x="652.45" y="192" width="3.2" height="31.19999999999999" fill="#555"/>
<circle cx="654.05" cy="207" r="1" fill="#fff"/>
<g><rect x="655.10" y="160.58" width="1.40" height="1.40" fill="#111" opacity="0.85"/><rect x="652.70" y="165.76" width="1.40" height="1.40" fill="#111" opacity="0.85"/><rect x="654.80" y="214.11" width="1.40" height="1.40" fill="#111" opacity="0.85"/><rect x="652.64" y="191.90" width="1.40" height="1.40" fill="#111" opacity="0.85"/><rect x="652.80" y="208.79" width="1.40" height="1.40" fill="#111" opacity="0.85"/><rect x="656.28" y="177.35" width="1.40" height="1.40" fill="#111" opacity="0.85"/><rect x="652.10" y="154.52" width="1.40" height="1.40" fill="#111" opacity="0.85"/><rect x="652.84" y="212.91" width="1.40" height="1.40" fill="#111" opacity="0.85"/><rect x="651.98" y="187.22" width="1.40" height="1.40" fill="#111" opacity="0.85"/><rect x="649.62" y="222.54" width="1.40" height="1.40" fill="#111" opacity="0.85"/><rect x="652.99" y="210.23" width="1.40" height="1.40" fill="#111" opacity="0.85"/><rect x="654.77" y="148.06" width="1.40" height="1.40" fill="#111" opacity="0.85"/><rect x="655.34" y="158.22" width="1.40" height="1.40" fill="#111" opacity="0.85"/><rect x="653.77" y="148.97" width="1.40" height="1.40" fill="#111" opacity="0.85"/><rect x="650.40" y="163.43" width="1.40" height="1.40" fill="#111" opacity="0.85"/><rect x="654.33" y="176.36" width="1.40" height="1.40" fill="#111" opacity="0.85"/><rect x="653.99" y="212.78" width="1.40" height="1.40" fill="#111" opacity="0.85"/><rect x="653.28" y="149.83" width="1.40" height="1.40" fill="#111" opacity="0.85"/><rect x="651.54" y="179.15" width="1.40" height="1.40" fill="#111" opacity="0.85"/><rect x="656.82" y="208.33" width="1.40" height="1.40" fill="#111" opacity="0.85"/><rect x="650.55" y="238.63" width="1.40" height="1.40" fill="#111" opacity="0.85"/><rect x="652.88" y="176.15" width="1.40" height="1.40" fill="#111" opacity="0.85"/><rect x="654.79" y="233.12" width="1.40" height="1.40" fill="#111" opacity="0.85"/><rect x="654.08" y="205.59" width="1.40" height="1.40" fill="#111" opacity="0.85"/><rect x="653.62" y="201.33" width="1.40" height="1.40" fill="#111" opacity="0.85"/><rect x="652.42" y="187.08" width="1.40" height="1.40" fill="#111" opacity="0.85"/><rect x="650.47" y="230.33" width="1.40" height="1.40" fill="#111" opacity="0.85"/><rect x="653.53" y="155.86" width="1.40" height="1.40" fill="#111" opacity="0.85"/><rect x="656.61" y="230.52" width="1.40" height="1.40" fill="#111" opacity="0.85"/><rect x="649.70" y="216.97" width="1.40" height="1.40" fill="#111" opacity="0.85"/><rect x="651.11" y="190.35" width="1.40" height="1.40" fill="#111" opacity="0.85"/><rect x="653.84" y="194.33" width="1.40" height="1.40" fill="#111" opacity="0.85"/><rect x="654.00" y="219.55" width="1.40" height="1.40" fill="#111" opacity="0.85"/><rect x="653.47" y="230.45" width="1.40" height="1.40" fill="#111" opacity="0.85"/><rect x="649.57" y="184.81" width="1.40" height="1.40" fill="#111" opacity="0.85"/><rect x="649.51" y="202.13" width="1.40" height="1.40" fill="#111" opacity="0.85"/><rect x="656.62" y="199.11" width="1.40" height="1.40" fill="#111" opacity="0.85"/><rect x="655.28" y="188.45" width="1.40" height="1.40" fill="#111" opacity="0.85"/><rect x="649.88" y="168.64" width="1.40" height="1.40" fill="#111" opacity="0.85"/><rect x="654.11" y="146.20" width="1.40" height="1.40" fill="#111" opacity="0.85"/><rect x="656.32" y="231.50" width="1.40" height="1.40" fill="#111" opacity="0.85"/><rect x="650.39" y="203.67" width="1.40" height="1.40" fill="#111" opacity="0.85"/><rect x="653.57" y="149.14" width="1.40" height="1.40" fill="#111" opacity="0.85"/><rect x="650.08" y="166.90" width="1.40" height="1.40" fill="#111" opacity="0.85"/><rect x="649.37" y="166.79" width="1.40" height="1.40" fill="#111" opacity="0.85"/><rect x="652.20" y="218.56" width="1.40" height="1.40" fill="#111" opacity="0.85"/><rect x="654.20" y="239.84" width="1.40" height="1.40" fill="#111" opacity="0.85"/><rect x="651.55" y="220.84" width="1.40" height="1.40" fill="#111" opacity="0.85"/><rect x="652.68" y="173.39" width="1.40" height="1.40" fill="#111" opacity="0.85"/><rect x="653.82" y="155.99" width="1.40" height="1.40" fill="#111" opacity="0.85"/><rect x="653.61" y="157.58" width="1.40" height="1.40" fill="#111" opacity="0.85"/><rect x="654.70" y="153.22" width="1.40" height="1.40" fill="#111" opacity="0.85"/><rect x="655.56" y="225.17" width="1.40" height="1.40" fill="#111" opacity="0.85"/><rect x="655.72" y="208.53" width="1.40" height="1.40" fill="#111" opacity="0.85"/><rect x="656.28" y="175.97" width="1.40" height="1.40" fill="#111" opacity="0.85"/><rect x="652.21" y="229.52" width="1.40" height="1.40" fill="#111" opacity="0.85"/><rect x="657.38" y="170.52" width="1.40" height="1.40" fill="#111" opacity="0.85"/><rect x="649.24" y="172.01" width="1.40" height="1.40" fill="#111" opacity="0.85"/><rect x="649.75" y="183.34" width="1.40" height="1.40" fill="#111" opacity="0.85"/><rect x="656.08" y="188.61" width="1.40" height="1.40" fill="#111" opacity="0.85"/><rect x="657.18" y="230.45" width="1.40" height="1.40" fill="#111" opacity="0.85"/><rect x="651.14" y="176.48" width="1.40" height="1.40" fill="#111" opacity="0.85"/><rect x="652.87" y="222.76" width="1.40" height="1.40" fill="#111" opacity="0.85"/><rect x="653.76" y="160.84" width="1.40" height="1.40" fill="#111" opacity="0.85"/><rect x="649.04" y="230.40" width="1.40" height="1.40" fill="#111" opacity="0.85"/><rect x="656.06" y="230.70" width="1.40" height="1.40" fill="#111" opacity="0.85"/><rect x="653.84" y="223.51" width="1.40" height="1.40" fill="#111" opacity="0.85"/><rect x="655.03" y="213.46" width="1.40" height="1.40" fill="#111" opacity="0.85"/><rect x="650.15" y="204.74" width="1.40" height="1.40" fill="#111" opacity="0.85"/><rect x="653.50" y="157.26" width="1.40" height="1.40" fill="#111" opacity="0.85"/><rect x="656.12" y="175.11" width="1.40" height="1.40" fill="#111" opacity="0.85"/><rect x="651.63" y="150.22" width="1.40" height="1.40" fill="#111" opacity="0.85"/><rect x="650.21" y="208.43" width="1.40" height="1.40" fill="#111" opacity="0.85"/><rect x="656.71" y="193.13" width="1.40" height="1.40" fill="#111" opacity="0.85"/><rect x="649.86" y="164.46" width="1.40" height="1.40" fill="#111" opacity="0.85"/><rect x="656.21" y="223.80" width="1.40" height="1.40" fill="#111" opacity="0.85"/><rect x="652.38" y="176.07" width="1.40" height="1.40" fill="#111" opacity="0.85"/><rect x="650.27" y="195.63" width="1.40" height="1.40" fill="#111" opacity="0.85"/><rect x="652.84" y="160.17" width="1.40" height="1.40" fill="#111" opacity="0.85"/><rect x="653.80" y="157.49" width="1.40" height="1.40" fill="#111" opacity="0.85"/><rect x="651.81" y="234.02" width="1.40" height="1.40" fill="#111" opacity="0.85"/><rect x="656.90" y="220.53" width="1.40" height="1.40" fill="#111" opacity="0.85"/><rect x="649.24" y="184.73" width="1.40" height="1.40" fill="#111" opacity="0.85"/><rect x="652.10" y="225.01" width="1.40" height="1.40" fill="#111" opacity="0.85"/><rect x="654.04" y="196.40" width="1.40" height="1.40" fill="#111" opacity="0.85"/><rect x="652.03" y="204.06" width="1.40" height="1.40" fill="#111" opacity="0.85"/><rect x="654.06" y="240.73" width="1.40" height="1.40" fill="#111" opacity="0.85"/><rect x="649.03" y="209.26" width="1.40" height="1.40" fill="#111" opacity="0.85"/><rect x="657.73" y="197.20" width="1.40" height="1.40" fill="#111" opacity="0.85"/><rect x="650.16" y="236.94" width="1.40" height="1.40" fill="#111" opacity="0.85"/><rect x="651.30" y="176.89" width="1.40" height="1.40" fill="#111" opacity="0.85"/><rect x="653.35" y="215.06" width="1.40" height="1.40" fill="#111" opacity="0.85"/><rect x="653.97" y="216.14" width="1.40" height="1.40" fill="#111" opacity="0.85"/><rect x="657.46" y="190.60" width="1.40" height="1.40" fill="#111" opacity="0.85"/><rect x="651.75" y="146.05" width="1.40" height="1.40" fill="#111" opacity="0.85"/><rect x="655.79" y="187.48" width="1.40" height="1.40" fill="#111" opacity="0.85"/><rect x="654.46" y="157.55" width="1.40" height="1.40" fill="#111" opacity="0.85"/><rect x="654.56" y="180.52" width="1.40" height="1.40" fill="#111" opacity="0.85"/><rect x="651.38" y="206.46" width="1.40" height="1.40" fill="#111" opacity="0.85"/><rect x="656.31" y="164.95" width="1.40" height="1.40" fill="#111" opacity="0.85"/><rect x="654.00" y="151.19" width="1.40" height="1.40" fill="#111" opacity="0.85"/><rect x="655.72" y="212.12" width="1.40" height="1.40" fill="#111" opacity="0.85"/><rect x="653.43" y="170.30" width="1.40" height="1.40" fill="#111" opacity="0.85"/><rect x="652.00" y="180.32" width="1.40" height="1.40" fill="#111" opacity="0.85"/><rect x="652.50" y="188.43" width="1.40" height="1.40" fill="#111" opacity="0.85"/><rect x="651.88" y="235.50" width="1.40" height="1.40" fill="#111" opacity="0.85"/><rect x="657.75" y="210.27" width="1.40" height="1.40" fill="#111" opacity="0.85"/><rect x="652.16" y="195.08" width="1.40" height="1.40" fill="#111" opacity="0.85"/><rect x="650.96" y="217.93" width="1.40" height="1.40" fill="#111" opacity="0.85"/><rect x="650.07" y="207.77" width="1.40" height="1.40" fill="#111" opacity="0.85"/><rect x="656.69" y="240.61" width="1.40" height="1.40" fill="#111" opacity="0.85"/><rect x="652.86" y="197.80" width="1.40" height="1.40" fill="#111" opacity="0.85"/><rect x="651.57" y="186.70" width="1.40" height="1.40" fill="#111" opacity="0.85"/><rect x="649.45" y="225.08" width="1.40" height="1.40" fill="#111" opacity="0.85"/><rect x="651.63" y="212.36" width="1.40" height="1.40" fill="#111" opacity="0.85"/><rect x="653.81" y="171.54" width="1.40" height="1.40" fill="#111" opacity="0.85"/><rect x="652.78" y="151.31" width="1.40" height="1.40" fill="#111" opacity="0.85"/><rect x="653.65" y="152.86" width="1.40" height="1.40" fill="#111" opacity="0.85"/><rect x="650.46" y="233.62" width="1.40" height="1.40" fill="#111" opacity="0.85"/><rect x="657.74" y="185.57" width="1.40" height="1.40" fill="#111" opacity="0.85"/></g>
<path d="M701.10,223.90 L700.86,224.58 L700.54,225.52 L700.16,226.64 L699.71,227.82 L699.21,228.98 L698.65,230.00 L698.03,230.92 L697.34,231.82 L696.59,232.69 L695.80,233.52 L694.98,234.30 L694.15,235.00 L693.26,235.63 L692.31,236.20 L691.32,236.72 L690.35,237.19 L689.45,237.61 L688.65,238.00 L687.94,238.33 L687.27,238.59 L686.66,238.81 L686.14,239.01 L685.73,239.23 L685.45,239.50 L685.11,239.83 L684.66,240.21 L684.32,240.60 L684.31,240.98 L684.84,241.32 L686.15,241.60 L688.66,241.81 L692.28,241.96 L696.44,242.08 L700.60,242.17 L704.19,242.24 L706.65,242.30 L707.65,242.30 L710.11,242.24 L713.70,242.17 L717.86,242.08 L722.02,241.96 L725.64,241.81 L728.15,241.60 L729.46,241.32 L729.99,240.98 L729.98,240.60 L729.64,240.21 L729.19,239.83 L728.85,239.50 L728.57,239.23 L728.16,239.01 L727.64,238.81 L727.03,238.59 L726.36,238.33 L725.65,238.00 L724.85,237.61 L723.95,237.19 L722.98,236.72 L721.99,236.20 L721.04,235.63 L720.15,235.00 L719.32,234.30 L718.50,233.52 L717.71,232.69 L716.96,231.82 L716.27,230.92 L715.65,230.00 L715.09,228.98 L714.59,227.82 L714.14,226.64 L713.76,225.52 L713.44,224.58 L713.20,223.90 Z" fill="#1e8fe0" stroke="#333" stroke-width="0.8"/>
<rect x="701.15" y="165" width="12" height="77.3" fill="#000"/>
<g><rect x="709.64" y="163.83" width="1.60" height="1.60" fill="#111" opacity="0.85"/><rect x="710.77" y="163.04" width="1.60" height="1.60" fill="#111" opacity="0.85"/><rect x="706.16" y="165.18" width="1.60" height="1.60" fill="#111" opacity="0.85"/><rect x="703.66" y="151.40" width="1.60" height="1.60" fill="#111" opacity="0.85"/><rect x="700.63" y="164.59" width="1.60" height="1.60" fill="#111" opacity="0.85"/><rect x="703.57" y="165.00" width="1.60" height="1.60" fill="#111" opacity="0.85"/><rect x="702.97" y="157.70" width="1.60" height="1.60" fill="#111" opacity="0.85"/><rect x="702.75" y="163.38" width="1.60" height="1.60" fill="#111" opacity="0.85"/><rect x="710.72" y="160.12" width="1.60" height="1.60" fill="#111" opacity="0.85"/><rect x="702.71" y="159.11" width="1.60" height="1.60" fill="#111" opacity="0.85"/><rect x="711.91" y="156.89" width="1.60" height="1.60" fill="#111" opacity="0.85"/><rect x="701.30" y="160.16" width="1.60" height="1.60" fill="#111" opacity="0.85"/><rect x="710.86" y="154.59" width="1.60" height="1.60" fill="#111" opacity="0.85"/><rect x="701.99" y="163.98" width="1.60" height="1.60" fill="#111" opacity="0.85"/><rect x="706.79" y="164.92" width="1.60" height="1.60" fill="#111" opacity="0.85"/><rect x="708.03" y="152.29" width="1.60" height="1.60" fill="#111" opacity="0.85"/><rect x="702.90" y="150.47" width="1.60" height="1.60" fill="#111" opacity="0.85"/><rect x="709.34" y="164.10" width="1.60" height="1.60" fill="#111" opacity="0.85"/><rect x="705.21" y="159.09" width="1.60" height="1.60" fill="#111" opacity="0.85"/><rect x="704.40" y="158.36" width="1.60" height="1.60" fill="#111" opacity="0.85"/><rect x="705.32" y="165.19" width="1.60" height="1.60" fill="#111" opacity="0.85"/><rect x="707.87" y="165.19" width="1.60" height="1.60" fill="#111" opacity="0.85"/><rect x="706.28" y="164.03" width="1.60" height="1.60" fill="#111" opacity="0.85"/><rect x="703.43" y="160.23" width="1.60" height="1.60" fill="#111" opacity="0.85"/><rect x="700.51" y="162.57" width="1.60" height="1.60" fill="#111" opacity="0.85"/><rect x="707.12" y="150.38" width="1.60" height="1.60" fill="#111" opacity="0.85"/><rect x="701.02" y="147.76" width="1.60" height="1.60" fill="#111" opacity="0.85"/><rect x="709.04" y="159.88" width="1.60" height="1.60" fill="#111" opacity="0.85"/><rect x="701.47" y="164.08" width="1.60" height="1.60" fill="#111" opacity="0.85"/><rect x="702.06" y="165.03" width="1.60" height="1.60" fill="#111" opacity="0.85"/><rect x="701.43" y="155.92" width="1.60" height="1.60" fill="#111" opacity="0.85"/><rect x="705.43" y="154.44" width="1.60" height="1.60" fill="#111" opacity="0.85"/><rect x="707.41" y="161.37" width="1.60" height="1.60" fill="#111" opacity="0.85"/><rect x="708.24" y="161.07" width="1.60" height="1.60" fill="#111" opacity="0.85"/><rect x="704.32" y="160.15" width="1.60" height="1.60" fill="#111" opacity="0.85"/><rect x="703.44" y="156.69" width="1.60" height="1.60" fill="#111" opacity="0.85"/><rect x="709.51" y="157.52" width="1.60" height="1.60" fill="#111" opacity="0.85"/><rect x="704.06" y="155.65" width="1.60" height="1.60" fill="#111" opacity="0.85"/><rect x="712.08" y="155.76" width="1.60" height="1.60" fill="#111" opacity="0.85"/><rect x="703.69" y="162.71" width="1.60" height="1.60" fill="#111" opacity="0.85"/><rect x="711.64" y="161.63" width="1.60" height="1.60" fill="#111" opacity="0.85"/><rect x="700.46" y="165.09" width="1.60" height="1.60" fill="#111" opacity="0.85"/><rect x="708.21" y="162.39" width="1.60" height="1.60" fill="#111" opacity="0.85"/><rect x="704.70" y="155.71" width="1.60" height="1.60" fill="#111" opacity="0.85"/><rect x="703.09" y="147.67" width="1.60" height="1.60" fill="#111" opacity="0.85"/><rect x="701.43" y="156.24" width="1.60" height="1.60" fill="#111" opacity="0.85"/><rect x="701.96" y="165.20" width="1.60" height="1.60" fill="#111" opacity="0.85"/><rect x="706.37" y="165.18" width="1.60" height="1.60" fill="#111" opacity="0.85"/><rect x="702.53" y="161.06" width="1.60" height="1.60" fill="#111" opacity="0.85"/><rect x="704.74" y="149.79" width="1.60" height="1.60" fill="#111" opacity="0.85"/><rect x="702.48" y="165.04" width="1.60" height="1.60" fill="#111" opacity="0.85"/><rect x="711.41" y="156.79" width="1.60" height="1.60" fill="#111" opacity="0.85"/><rect x="700.70" y="165.01" width="1.60" height="1.60" fill="#111" opacity="0.85"/><rect x="703.26" y="155.59" width="1.60" height="1.60" fill="#111" opacity="0.85"/><rect x="706.34" y="147.98" width="1.60" height="1.60" fill="#111" opacity="0.85"/><rect x="704.48" y="159.39" width="1.60" height="1.60" fill="#111" opacity="0.85"/><rect x="705.87" y="154.88" width="1.60" height="1.60" fill="#111" opacity="0.85"/><rect x="711.19" y="164.13" width="1.60" height="1.60" fill="#111" opacity="0.85"/><rect x="709.15" y="165.13" width="1.60" height="1.60" fill="#111" opacity="0.85"/><rect x="708.10" y="165.18" width="1.60" height="1.60" fill="#111" opacity="0.85"/><rect x="710.72" y="163.36" width="1.60" height="1.60" fill="#111" opacity="0.85"/><rect x="707.12" y="165.18" width="1.60" height="1.60" fill="#111" opacity="0.85"/><rect x="711.38" y="163.26" width="1.60" height="1.60" fill="#111" opacity="0.85"/><rect x="707.88" y="149.58" width="1.60" height="1.60" fill="#111" opacity="0.85"/><rect x="703.37" y="164.77" width="1.60" height="1.60" fill="#111" opacity="0.85"/><rect x="705.56" y="164.57" width="1.60" height="1.60" fill="#111" opacity="0.85"/><rect x="702.79" y="164.74" width="1.60" height="1.60" fill="#111" opacity="0.85"/><rect x="708.06" y="156.16" width="1.60" height="1.60" fill="#111" opacity="0.85"/><rect x="712.28" y="164.32" width="1.60" height="1.60" fill="#111" opacity="0.85"/><rect x="707.18" y="164.81" width="1.60" height="1.60" fill="#111" opacity="0.85"/><rect x="710.71" y="165.02" width="1.60" height="1.60" fill="#111" opacity="0.85"/><rect x="703.56" y="152.52" width="1.60" height="1.60" fill="#111" opacity="0.85"/><rect x="710.22" y="156.39" width="1.60" height="1.60" fill="#111" opacity="0.85"/><rect x="704.33" y="164.44" width="1.60" height="1.60" fill="#111" opacity="0.85"/><rect x="711.04" y="162.24" width="1.60" height="1.60" fill="#111" opacity="0.85"/><rect x="708.54" y="165.01" width="1.60" height="1.60" fill="#111" opacity="0.85"/><rect x="705.79" y="160.23" width="1.60" height="1.60" fill="#111" opacity="0.85"/><rect x="710.94" y="160.60" width="1.60" height="1.60" fill="#111" opacity="0.85"/><rect x="710.95" y="164.84" width="1.60" height="1.60" fill="#111" opacity="0.85"/><rect x="709.71" y="163.80" width="1.60" height="1.60" fill="#111" opacity="0.85"/><rect x="702.54" y="152.73" width="1.60" height="1.60" fill="#111" opacity="0.85"/><rect x="712.29" y="152.71" width="1.60" height="1.60" fill="#111" opacity="0.85"/><rect x="700.64" y="164.33" width="1.60" height="1.60" fill="#111" opacity="0.85"/><rect x="712.04" y="165.13" width="1.60" height="1.60" fill="#111" opacity="0.85"/><rect x="711.29" y="165.20" width="1.60" height="1.60" fill="#111" opacity="0.85"/><rect x="709.18" y="165.04" width="1.60" height="1.60" fill="#111" opacity="0.85"/><rect x="702.37" y="165.15" width="1.60" height="1.60" fill="#111" opacity="0.85"/><rect x="701.43" y="158.27" width="1.60" height="1.60" fill="#111" opacity="0.85"/><rect x="711.37" y="163.99" width="1.60" height="1.60" fill="#111" opacity="0.85"/><rect x="710.93" y="157.38" width="1.60" height="1.60" fill="#111" opacity="0.85"/><rect x="700.74" y="148.10" width="1.60" height="1.60" fill="#111" opacity="0.85"/><rect x="709.86" y="164.72" width="1.60" height="1.60" fill="#111" opacity="0.85"/><rect x="700.80" y="158.10" width="1.60" height="1.60" fill="#111" opacity="0.85"/><rect x="703.13" y="161.94" width="1.60" height="1.60" fill="#111" opacity="0.85"/><rect x="701.61" y="163.01" width="1.60" height="1.60" fill="#111" opacity="0.85"/><rect x="712.24" y="165.20" width="1.60" height="1.60" fill="#111" opacity="0.85"/><rect x="710.89" y="164.19" width="1.60" height="1.60" fill="#111" opacity="0.85"/><rect x="706.20" y="165.11" width="1.60" height="1.60" fill="#111" opacity="0.85"/><rect x="705.49" y="165.08" width="1.60" height="1.60" fill="#111" opacity="0.85"/><rect x="708.57" y="164.96" width="1.60" height="1.60" fill="#111" opacity="0.85"/><rect x="709.21" y="165.05" width="1.60" height="1.60" fill="#111" opacity="0.85"/><rect x="701.70" y="162.01" width="1.60" height="1.60" fill="#111" opacity="0.85"/><rect x="706.31" y="163.86" width="1.60" height="1.60" fill="#111" opacity="0.85"/><rect x="704.54" y="150.64" width="1.60" height="1.60" fill="#111" opacity="0.85"/><rect x="711.96" y="164.81" width="1.60" height="1.60" fill="#111" opacity="0.85"/><rect x="709.13" y="152.01" width="1.60" height="1.60" fill="#111" opacity="0.85"/><rect x="702.48" y="164.50" width="1.60" height="1.60" fill="#111" opacity="0.85"/><rect x="701.18" y="164.55" width="1.60" height="1.60" fill="#111" opacity="0.85"/><rect x="706.46" y="165.19" width="1.60" height="1.60" fill="#111" opacity="0.85"/><rect x="707.03" y="163.28" width="1.60" height="1.60" fill="#111" opacity="0.85"/><rect x="700.48" y="163.77" width="1.60" height="1.60" fill="#111" opacity="0.85"/><rect x="708.19" y="158.13" width="1.60" height="1.60" fill="#111" opacity="0.85"/><rect x="706.94" y="161.27" width="1.60" height="1.60" fill="#111" opacity="0.85"/><rect x="712.14" y="158.07" width="1.60" height="1.60" fill="#111" opacity="0.85"/><rect x="708.96" y="152.34" width="1.60" height="1.60" fill="#111" opacity="0.85"/><rect x="704.17" y="163.39" width="1.60" height="1.60" fill="#111" opacity="0.85"/><rect x="712.03" y="163.15" width="1.60" height="1.60" fill="#111" opacity="0.85"/><rect x="704.97" y="163.52" width="1.60" height="1.60" fill="#111" opacity="0.85"/><rect x="702.07" y="163.26" width="1.60" height="1.60" fill="#111" opacity="0.85"/><rect x="700.41" y="147.27" width="1.60" height="1.60" fill="#111" opacity="0.85"/><rect x="711.47" y="160.02" width="1.60" height="1.60" fill="#111" opacity="0.85"/><rect x="707.68" y="164.61" width="1.60" height="1.60" fill="#111" opacity="0.85"/><rect x="703.24" y="163.63" width="1.60" height="1.60" fill="#111" opacity="0.85"/><rect x="701.74" y="164.88" width="1.60" height="1.60" fill="#111" opacity="0.85"/><rect x="709.76" y="153.45" width="1.60" height="1.60" fill="#111" opacity="0.85"/><rect x="700.94" y="151.04" width="1.60" height="1.60" fill="#111" opacity="0.85"/><rect x="704.24" y="157.97" width="1.60" height="1.60" fill="#111" opacity="0.85"/><rect x="706.94" y="159.16" width="1.60" height="1.60" fill="#111" opacity="0.85"/><rect x="712.01" y="164.19" width="1.60" height="1.60" fill="#111" opacity="0.85"/><rect x="709.30" y="165.20" width="1.60" height="1.60" fill="#111" opacity="0.85"/><rect x="706.47" y="153.09" width="1.60" height="1.60" fill="#111" opacity="0.85"/><rect x="712.29" y="160.34" width="1.60" height="1.60" fill="#111" opacity="0.85"/><rect x="707.90" y="164.72" width="1.60" height="1.60" fill="#111" opacity="0.85"/><rect x="704.90" y="156.63" width="1.60" height="1.60" fill="#111" opacity="0.85"/><rect x="705.07" y="157.50" width="1.60" height="1.60" fill="#111" opacity="0.85"/><rect x="707.70" y="161.58" width="1.60" height="1.60" fill="#111" opacity="0.85"/><rect x="704.22" y="158.41" width="1.60" height="1.60" fill="#111" opacity="0.85"/><rect x="706.87" y="159.55" width="1.60" height="1.60" fill="#111" opacity="0.85"/><rect x="707.70" y="164.78" width="1.60" height="1.60" fill="#111" opacity="0.85"/><rect x="711.25" y="164.55" width="1.60" height="1.60" fill="#111" opacity="0.85"/><rect x="709.01" y="162.43" width="1.60" height="1.60" fill="#111" opacity="0.85"/><rect x="706.07" y="161.66" width="1.60" height="1.60" fill="#111" opacity="0.85"/><rect x="702.06" y="164.79" width="1.60" height="1.60" fill="#111" opacity="0.85"/><rect x="706.69" y="150.29" width="1.60" height="1.60" fill="#111" opacity="0.85"/><rect x="706.68" y="161.62" width="1.60" height="1.60" fill="#111" opacity="0.85"/><rect x="703.21" y="154.46" width="1.60" height="1.60" fill="#111" opacity="0.85"/><rect x="710.21" y="164.98" width="1.60" height="1.60" fill="#111" opacity="0.85"/><rect x="708.04" y="162.61" width="1.60" height="1.60" fill="#111" opacity="0.85"/><rect x="711.08" y="153.99" width="1.60" height="1.60" fill="#111" opacity="0.85"/><rect x="700.87" y="152.57" width="1.60" height="1.60" fill="#111" opacity="0.85"/><rect x="710.34" y="163.58" width="1.60" height="1.60" fill="#111" opacity="0.85"/><rect x="701.83" y="154.31" width="1.60" height="1.60" fill="#111" opacity="0.85"/><rect x="703.37" y="165.03" width="1.60" height="1.60" fill="#111" opacity="0.85"/><rect x="704.63" y="165.14" width="1.60" height="1.60" fill="#111" opacity="0.85"/><rect x="706.61" y="154.79" width="1.60" height="1.60" fill="#111" opacity="0.85"/><rect x="701.41" y="162.72" width="1.60" height="1.60" fill="#111" opacity="0.85"/><rect x="712.31" y="163.43" width="1.60" height="1.60" fill="#111" opacity="0.85"/><rect x="705.74" y="157.95" width="1.60" height="1.60" fill="#111" opacity="0.85"/><rect x="709.93" y="162.35" width="1.60" height="1.60" fill="#111" opacity="0.85"/><rect x="702.15" y="156.17" width="1.60" height="1.60" fill="#111" opacity="0.85"/><rect x="704.75" y="158.33" width="1.60" height="1.60" fill="#111" opacity="0.85"/><rect x="703.20" y="161.68" width="1.60" height="1.60" fill="#111" opacity="0.85"/><rect x="704.43" y="163.69" width="1.60" height="1.60" fill="#111" opacity="0.85"/><rect x="700.56" y="163.59" width="1.60" height="1.60" fill="#111" opacity="0.85"/><rect x="707.20" y="164.87" width="1.60" height="1.60" fill="#111" opacity="0.85"/><rect x="702.49" y="165.19" width="1.60" height="1.60" fill="#111" opacity="0.85"/><rect x="703.65" y="157.33" width="1.60" height="1.60" fill="#111" opacity="0.85"/><rect x="703.25" y="164.12" width="1.60" height="1.60" fill="#111" opacity="0.85"/><rect x="701.45" y="153.76" width="1.60" height="1.60" fill="#111" opacity="0.85"/><rect x="710.66" y="159.39" width="1.60" height="1.60" fill="#111" opacity="0.85"/></g>
<text x="0.3" y="279.3" font-size="16" text-anchor="start" font-weight="bold" fill="#000" >c</text>
<rect x="31.4" y="274.5" width="136.1" height="144.6" fill="none" stroke="#a0a0a0" stroke-width="1"/>
<line x1="29.6" y1="413.0" x2="31.4" y2="413.0" stroke="#999" stroke-width="0.8"/>
<text x="28.8" y="417.0" font-size="10.6" text-anchor="end" font-weight="normal" fill="#111" >0.0</text>
<line x1="37.3" y1="419.1" x2="37.3" y2="421" stroke="#999" stroke-width="0.8"/>
<text x="37.3" y="429.6" font-size="10.5" text-anchor="middle" font-weight="normal" fill="#111" >0.0</text>
<line x1="29.6" y1="386.68" x2="31.4" y2="386.68" stroke="#999" stroke-width="0.8"/>
<text x="28.8" y="390.68" font-size="10.6" text-anchor="end" font-weight="normal" fill="#111" >0.2</text>
<line x1="62.05" y1="419.1" x2="62.05" y2="421" stroke="#999" stroke-width="0.8"/>
<text x="62.05" y="429.6" font-size="10.5" text-anchor="middle" font-weight="normal" fill="#111" >0.2</text>
<line x1="29.6" y1="360.36" x2="31.4" y2="360.36" stroke="#999" stroke-width="0.8"/>
<text x="28.8" y="364.36" font-size="10.6" text-anchor="end" font-weight="normal" fill="#111" >0.4</text>
<line x1="86.8" y1="419.1" x2="86.8" y2="421" stroke="#999" stroke-width="0.8"/>
<text x="86.8" y="429.6" font-size="10.5" text-anchor="middle" font-weight="normal" fill="#111" >0.4</text>
<line x1="29.6" y1="334.04" x2="31.4" y2="334.04" stroke="#999" stroke-width="0.8"/>
<text x="28.8" y="338.04" font-size="10.6" text-anchor="end" font-weight="normal" fill="#111" >0.6</text>
<line x1="111.55" y1="419.1" x2="111.55" y2="421" stroke="#999" stroke-width="0.8"/>
<text x="111.55" y="429.6" font-size="10.5" text-anchor="middle" font-weight="normal" fill="#111" >0.6</text>
<line x1="29.6" y1="307.72" x2="31.4" y2="307.72" stroke="#999" stroke-width="0.8"/>
<text x="28.8" y="311.72" font-size="10.6" text-anchor="end" font-weight="normal" fill="#111" >0.8</text>
<line x1="136.3" y1="419.1" x2="136.3" y2="421" stroke="#999" stroke-width="0.8"/>
<text x="136.3" y="429.6" font-size="10.5" text-anchor="middle" font-weight="normal" fill="#111" >0.8</text>
<line x1="29.6" y1="281.4" x2="31.4" y2="281.4" stroke="#999" stroke-width="0.8"/>
<text x="28.8" y="285.4" font-size="10.6" text-anchor="end" font-weight="normal" fill="#111" >1.0</text>
<line x1="161.05" y1="419.1" x2="161.05" y2="421" stroke="#999" stroke-width="0.8"/>
<text x="161.05" y="429.6" font-size="10.5" text-anchor="middle" font-weight="normal" fill="#111" >1.0</text>
<text x="99" y="440.4" font-size="10.6" text-anchor="middle" font-weight="normal" fill="#111" >Recall</text>
<text x="11.6" y="348" font-size="10.7" text-anchor="middle" font-weight="normal" fill="#111" transform="rotate(-90 11.6 348)">Precision</text>
<polyline points="38.00,284.30 39.62,284.26 41.22,284.44 42.83,284.67 44.44,284.68 46.06,284.67 47.68,284.62 49.28,284.86 50.89,284.91 52.50,285.13 54.12,285.05 55.72,285.18 57.33,285.36 58.94,285.51 60.56,285.41 62.17,285.50 63.78,285.66 65.38,285.89 67.01,285.68 68.60,286.07 70.22,286.05 71.84,286.00 73.44,286.20 75.06,286.15 76.68,286.13 78.27,286.49 79.89,286.42 81.50,286.56 83.11,286.63 84.71,286.88 86.33,286.90 87.95,286.69 89.55,287.00 91.17,287.04 92.78,287.12 94.38,287.35 96.00,287.30 97.65,287.27 99.29,287.29 100.94,287.46 102.58,287.28 104.23,287.30 105.88,287.30 107.52,287.43 109.17,287.37 110.82,287.40 112.46,287.26 114.11,287.12 115.75,287.37 117.40,287.30 118.43,288.86 119.50,290.40 121.51,291.00 123.54,291.50 125.60,291.90 127.37,292.63 129.05,293.53 130.70,294.50 132.52,294.53 134.29,295.03 136.12,294.94 137.90,295.30 139.90,297.60 141.59,298.25 143.10,299.29 144.75,300.02 146.46,300.64 148.00,301.60 149.24,303.20 150.60,304.70 151.17,306.26 151.91,307.75 152.71,309.21 153.20,310.80 153.56,312.45 154.10,314.06 154.50,315.70 154.90,317.80 156.90,318.20 158.60,320.60 158.77,322.65 159.00,324.70 158.85,326.39 158.97,328.08 159.00,329.77 159.34,331.45 159.32,333.14 159.29,334.83 159.55,336.51 159.40,338.20 161.40,338.60 161.20,340.22 161.49,341.85 161.49,343.47 161.47,345.09 161.49,346.72 161.24,348.34 161.36,349.96 161.38,351.59 161.41,353.21 161.56,354.83 161.45,356.46 161.23,358.08 161.25,359.70 161.22,361.33 161.46,362.95 161.48,364.57 161.54,366.20 161.34,367.82 161.41,369.44 161.37,371.07 161.36,372.69 161.32,374.31 161.40,375.93 161.22,377.56 161.46,379.18 161.17,380.80 161.31,382.43 161.51,384.05 161.41,385.67 161.32,387.30 161.36,388.92 161.30,390.54 161.39,392.17 161.41,393.79 161.20,395.41 161.40,397.04 161.23,398.66 161.19,400.28 161.27,401.91 161.33,403.53 161.13,405.15 161.32,406.78 161.30,408.40 161.15,410.70 161.30,413.00" fill="none" stroke="#ff1a1a" stroke-width="1.25" stroke-linejoin="round"/>
<polyline points="38.70,284.30 40.40,284.24 42.07,284.50 43.75,284.70 45.45,284.58 47.11,285.02 48.82,284.82 50.49,285.15 52.19,285.10 53.85,285.51 55.54,285.48 57.22,285.69 58.92,285.68 60.60,285.80 62.25,285.88 63.90,285.90 65.56,285.76 67.21,285.74 68.86,286.01 70.52,285.74 72.17,286.07 73.82,285.80 75.47,285.77 77.13,285.78 78.78,286.07 80.43,286.15 82.08,285.95 83.73,286.06 85.39,285.92 87.04,286.19 88.69,286.12 90.34,285.92 92.00,285.89 93.65,286.16 95.30,286.10 97.29,286.52 99.13,287.43 101.10,287.90 102.91,288.14 104.72,288.44 106.49,288.91 108.30,289.20 109.95,289.18 111.60,289.32 113.25,289.21 114.90,289.56 116.55,289.38 118.20,289.64 119.85,289.41 121.50,289.60 123.50,290.61 125.60,291.40 126.86,292.43 128.36,293.10 129.70,294.00 130.88,295.29 131.79,296.77 132.73,298.23 133.80,299.60 135.24,300.89 136.52,302.35 137.90,303.70 139.68,304.56 141.31,305.69 143.00,306.70 144.96,307.83 147.00,308.80 147.28,310.62 147.43,312.46 147.90,314.25 148.00,316.10 150.00,317.30 150.41,318.97 151.21,320.52 151.60,322.20 152.01,323.89 152.55,325.53 153.30,327.10 154.78,328.68 156.50,330.00 156.43,331.69 156.47,333.37 156.39,335.06 156.17,336.74 156.22,338.43 155.99,340.11 156.10,341.80 157.30,342.70 157.80,344.00 157.78,345.62 157.45,347.20 157.12,348.78 157.04,350.40 156.88,352.00 156.88,353.62 156.68,355.22 156.45,356.81 156.02,358.38 156.00,360.00 155.64,361.65 155.66,363.35 155.16,364.98 155.29,366.69 154.84,368.33 154.46,369.97 154.49,371.67 154.02,373.31 153.91,374.99 153.93,376.69 153.59,378.34 153.30,380.00 153.70,378.00 153.20,379.54 152.75,381.10 152.04,382.57 151.73,384.17 150.98,385.63 150.64,387.23 150.21,388.79 149.50,390.26 149.00,391.80 150.37,392.78 151.52,394.02 152.80,395.10 151.75,396.46 150.85,397.94 149.94,399.39 149.13,400.92 148.01,402.24 147.19,403.76 146.10,405.10 147.80,405.74 149.59,406.12 151.25,406.87 153.00,407.36 154.70,408.00 156.37,408.53 157.98,409.21 159.69,409.60 161.30,410.30" fill="none" stroke="#35cff8" stroke-width="1.25" stroke-linejoin="round"/>
<polyline points="38.70,284.30 40.31,284.19 41.91,284.53 43.52,284.31 45.12,284.54 46.72,284.57 48.33,284.44 49.94,284.33 51.54,284.34 53.14,284.68 54.75,284.40 56.36,284.57 57.96,284.61 59.57,284.47 61.17,284.64 62.78,284.54 64.38,284.71 65.98,284.73 67.59,284.70 69.20,284.65 70.80,284.80 72.87,285.77 74.90,286.80 76.62,286.95 78.32,287.19 80.02,287.50 81.68,288.01 83.40,288.13 85.10,288.40 87.11,288.89 89.20,288.88 91.20,289.40 92.36,290.56 93.75,291.45 94.95,292.57 96.30,293.50 97.99,294.19 99.67,294.90 101.40,295.50 102.40,298.10 104.01,298.40 105.54,299.00 107.17,299.17 108.74,299.61 110.30,300.10 112.10,300.97 113.72,302.13 115.40,303.20 117.45,303.96 119.50,304.70 121.35,304.92 123.15,305.45 125.05,305.44 126.85,305.93 128.70,306.20 129.78,307.44 130.70,308.80 130.96,310.44 131.19,312.09 131.60,313.70 133.33,314.58 135.21,315.14 136.90,316.10 138.46,317.03 139.88,318.17 141.29,319.31 143.00,320.01 144.37,321.22 145.90,322.20 147.21,323.62 148.54,325.02 150.00,326.30 150.06,327.93 149.88,329.57 150.00,331.20 151.38,332.29 152.63,333.53 154.10,334.50 154.49,336.10 154.33,337.77 154.73,339.37 154.90,341.00 155.53,342.56 156.25,344.09 156.80,345.69 157.30,347.30 156.98,349.03 156.77,350.78 156.75,352.55 156.45,354.28 156.30,356.03 156.05,357.77 155.70,359.50 155.61,361.28 155.37,363.04 154.91,364.78 154.70,366.54 154.58,368.32 154.50,370.10 155.71,371.34 156.90,372.60 157.00,374.45 156.99,376.31 157.04,378.16 157.30,380.00 156.98,381.74 156.80,383.49 156.74,385.27 156.35,386.99 156.04,388.73 155.84,390.49 155.89,392.27 155.50,394.00 154.33,395.45 153.35,397.04 152.31,398.58 150.95,399.89 150.00,401.50 148.46,402.44 146.95,403.42 145.58,404.62 144.00,405.50 141.93,406.54 140.00,407.80" fill="none" stroke="#ff6fd0" stroke-width="1.25" stroke-linejoin="round"/>
<polyline points="143.30,409.40 152.00,410.20 161.30,410.80" fill="none" stroke="#ff6fd0" stroke-width="1.25" stroke-linejoin="round"/>
<polyline points="37.70,281.70 38.55,283.34 39.70,284.80 41.40,285.36 43.16,285.70 44.89,286.13 46.63,286.52 48.40,286.80 50.09,287.20 51.81,287.51 53.50,287.90 54.42,289.26 55.46,290.52 56.46,291.82 57.60,293.00 59.39,293.17 61.12,293.68 62.92,293.76 64.70,294.00 66.36,294.24 68.03,293.97 69.68,294.37 71.35,294.36 73.02,294.21 74.67,294.51 76.34,294.33 78.00,294.50 79.77,295.60 81.41,296.89 83.10,298.10 84.80,298.05 86.50,298.21 88.19,298.43 89.90,298.40 91.60,298.46 93.30,298.39 95.00,298.60 96.70,298.66 98.40,298.60 99.10,298.60 101.12,299.57 103.20,300.40 105.02,300.62 106.84,300.61 108.66,300.48 110.48,300.39 112.30,300.60 113.63,301.85 114.94,303.10 116.40,304.20 118.21,304.39 119.99,304.74 121.78,305.08 123.60,305.20 125.38,305.38 127.18,305.13 128.96,305.38 130.76,305.26 132.54,305.36 134.32,305.70 136.11,305.60 137.90,305.70 138.61,307.27 139.40,308.80 141.14,308.78 142.88,308.73 144.62,308.69 146.36,308.74 148.10,308.80 147.84,310.72 147.80,312.65 147.81,314.58 147.60,316.50 147.54,318.37 147.24,320.21 146.85,322.04 146.70,323.90 148.36,324.88 150.00,325.90 149.94,327.58 149.88,329.26 150.15,330.94 149.93,332.62 150.18,334.30 149.87,335.98 150.13,337.66 150.09,339.34 149.82,341.02 150.00,342.70 150.65,344.33 151.20,346.00 150.80,344.00 150.78,345.77 150.38,347.52 150.40,349.30 152.40,349.70 152.16,351.32 151.84,352.93 151.84,354.58 151.60,356.20 153.65,356.65 155.70,357.10 155.72,358.72 156.10,360.30 158.60,360.70 158.58,362.39 158.37,364.08 158.67,365.78 158.40,367.47 158.65,369.16 158.49,370.85 158.68,372.54 158.60,374.23 158.27,375.92 158.45,377.62 158.29,379.31 158.40,381.00 158.13,382.65 157.73,384.26 157.47,385.91 156.93,387.50 156.45,389.09 156.22,390.75 155.91,392.39 155.50,394.00 154.26,395.40 153.17,396.91 152.15,398.46 151.24,400.10 150.00,401.50 148.47,402.46 147.01,403.52 145.40,404.35 144.00,405.50 142.17,406.28 140.28,406.89 138.43,407.63 136.60,408.40 138.28,408.35 139.96,408.41 141.64,408.47 143.32,408.56 145.00,408.40 146.68,408.35 148.36,408.59 150.04,408.22 151.72,408.53 153.40,408.47 155.08,408.42 156.76,408.38 158.44,408.50 160.12,408.56 161.80,408.40" fill="none" stroke="#7fd655" stroke-width="1.25" stroke-linejoin="round"/>
<polyline points="37.10,413.00 161.30,413.00" fill="none" stroke="#1a8fd0" stroke-width="1.4" stroke-linejoin="round"/>
<polyline points="37.10,413.20 38.84,413.09 40.56,412.90 42.25,412.42 44.00,412.40 45.47,411.74 46.95,411.07 48.57,410.77 50.00,410.00 51.61,409.68 53.09,408.93 54.70,408.60" fill="none" stroke="#1a8fd0" stroke-width="1.25" stroke-linejoin="round"/>
<polyline points="38.20,284.30 38.28,286.00 38.39,287.70 38.71,289.39 38.69,291.10 38.66,292.81 38.81,294.50 39.07,296.19 38.98,297.91 39.20,299.60 40.03,301.11 40.70,302.70 40.85,304.73 41.06,306.76 41.20,308.80 41.41,310.40 41.94,311.91 42.28,313.48 42.80,315.00 42.79,316.60 42.97,318.20 42.79,319.81 42.96,321.40 43.10,323.00 43.10,324.64 43.35,326.28 43.48,327.91 43.39,329.56 43.50,331.20 43.66,332.87 43.96,334.51 44.42,336.12 44.78,337.75 44.92,339.42 45.07,341.08 45.50,342.70 45.56,344.31 45.26,345.90 45.41,347.51 45.28,349.10 45.31,350.71 45.14,352.30 45.04,353.90 44.73,355.49 44.66,357.09 44.90,358.71 44.70,360.30 45.96,361.70 47.10,363.20 47.36,365.01 48.08,366.70 48.40,368.50 48.63,370.13 48.74,371.78 49.04,373.40 49.14,375.05 49.20,376.70 49.84,378.34 50.40,380.00 51.04,381.86 51.42,383.81 52.29,385.60 52.80,387.50 52.68,389.10 52.17,390.64 52.12,392.25 51.73,393.81 51.58,395.41 51.40,397.00 50.64,398.68 50.15,400.47 49.55,402.21 48.66,403.84 48.10,405.60 50.40,406.50 52.00,408.00" fill="none" stroke="#1a8fd0" stroke-width="1.25" stroke-linejoin="round"/>
<polyline points="37.30,281.20 37.39,282.96 37.44,284.72 37.47,286.48 37.52,288.24 37.70,290.00 37.81,291.67 37.79,293.33 37.58,295.00 37.75,296.67 37.87,298.33 37.75,300.00 37.91,301.67 37.72,303.33 38.03,305.00 37.74,306.67 37.86,308.33 37.90,310.00 38.01,311.63 37.83,313.28 38.16,314.91 38.22,316.54 38.34,318.18 38.21,319.82 38.18,321.46 38.27,323.09 38.43,324.73 38.32,326.37 38.66,327.99 38.63,329.63 38.55,331.27 38.48,332.92 38.66,334.55 38.70,336.18 38.72,337.82 38.92,339.45 38.76,341.10 38.89,342.73 39.11,344.36 39.10,346.00 39.14,347.62 38.98,349.24 39.16,350.86 39.23,352.48 38.95,354.10 39.09,355.71 39.09,357.33 39.03,358.95 38.94,360.57 39.25,362.19 39.16,363.81 39.27,365.43 39.13,367.05 39.10,368.67 38.96,370.29 39.03,371.90 39.07,373.52 39.14,375.14 39.07,376.76 39.19,378.38 39.10,380.00 39.50,378.00 39.39,379.61 39.45,381.21 39.46,382.82 39.76,384.42 39.59,386.03 39.59,387.64 39.72,389.24 39.59,390.85 39.62,392.46 39.72,394.06 39.72,395.67 39.82,397.28 39.75,398.88 40.08,400.48 39.89,402.10 40.00,403.70 41.40,406.50 43.27,407.42 45.20,408.20 47.10,408.32 49.00,408.27 50.91,408.27 52.80,408.56 54.70,408.60 56.35,408.73 57.99,408.51 59.64,408.49 61.28,408.49 62.93,408.44 64.57,408.67 66.22,408.79 67.86,408.72 69.51,408.54 71.15,408.68 72.80,408.43 74.45,408.74 76.09,408.53 77.74,408.40 79.38,408.65 81.03,408.46 82.67,408.51 84.32,408.42 85.96,408.58 87.61,408.62 89.25,408.72 90.90,408.42 92.55,408.73 94.19,408.44 95.84,408.49 97.48,408.65 99.13,408.54 100.77,408.53 102.42,408.63 104.06,408.49 105.71,408.72 107.35,408.48 109.00,408.60 110.20,409.30 111.85,409.44 113.50,409.42 115.15,409.31 116.79,409.11 118.44,409.41 120.09,409.11 121.74,409.30 123.39,409.27 125.04,409.13 126.68,409.35 128.33,409.39 129.98,409.33 131.63,409.26 133.28,409.30 134.93,409.34 136.57,409.19 138.22,409.45 139.87,409.50 141.52,409.42 143.17,409.48 144.82,409.23 146.46,409.49 148.11,409.13 149.76,409.29 151.41,409.15 153.06,409.28 154.71,409.37 156.35,409.38 158.00,409.28 159.65,409.24 161.30,409.30 161.52,411.14 161.50,413.00" fill="none" stroke="#ffa36a" stroke-width="1.25" stroke-linejoin="round"/>
<rect x="208.5" y="274.6" width="136.1" height="144.4" fill="none" stroke="#a0a0a0" stroke-width="1"/>
<line x1="206.6" y1="413.2" x2="208.5" y2="413.2" stroke="#999" stroke-width="0.8"/>
<text x="206.2" y="417.2" font-size="10.6" text-anchor="end" font-weight="normal" fill="#111" >0.0</text>
<line x1="214.4" y1="419" x2="214.4" y2="421" stroke="#999" stroke-width="0.8"/>
<text x="214.4" y="429.4" font-size="10.5" text-anchor="middle" font-weight="normal" fill="#111" >0.0</text>
<line x1="206.6" y1="385.5" x2="208.5" y2="385.5" stroke="#999" stroke-width="0.8"/>
<text x="206.2" y="389.5" font-size="10.6" text-anchor="end" font-weight="normal" fill="#111" >0.2</text>
<line x1="239.24" y1="419" x2="239.24" y2="421" stroke="#999" stroke-width="0.8"/>
<text x="239.24" y="429.4" font-size="10.5" text-anchor="middle" font-weight="normal" fill="#111" >0.2</text>
<line x1="206.6" y1="357.79999999999995" x2="208.5" y2="357.79999999999995" stroke="#999" stroke-width="0.8"/>
<text x="206.2" y="361.79999999999995" font-size="10.6" text-anchor="end" font-weight="normal" fill="#111" >0.4</text>
<line x1="264.08000000000004" y1="419" x2="264.08000000000004" y2="421" stroke="#999" stroke-width="0.8"/>
<text x="264.08000000000004" y="429.4" font-size="10.5" text-anchor="middle" font-weight="normal" fill="#111" >0.4</text>
<line x1="206.6" y1="330.1" x2="208.5" y2="330.1" stroke="#999" stroke-width="0.8"/>
<text x="206.2" y="334.1" font-size="10.6" text-anchor="end" font-weight="normal" fill="#111" >0.6</text>
<line x1="288.92" y1="419" x2="288.92" y2="421" stroke="#999" stroke-width="0.8"/>
<text x="288.92" y="429.4" font-size="10.5" text-anchor="middle" font-weight="normal" fill="#111" >0.6</text>
<line x1="206.6" y1="302.4" x2="208.5" y2="302.4" stroke="#999" stroke-width="0.8"/>
<text x="206.2" y="306.4" font-size="10.6" text-anchor="end" font-weight="normal" fill="#111" >0.8</text>
<line x1="313.76" y1="419" x2="313.76" y2="421" stroke="#999" stroke-width="0.8"/>
<text x="313.76" y="429.4" font-size="10.5" text-anchor="middle" font-weight="normal" fill="#111" >0.8</text>
<line x1="206.6" y1="274.7" x2="208.5" y2="274.7" stroke="#999" stroke-width="0.8"/>
<text x="206.2" y="278.7" font-size="10.6" text-anchor="end" font-weight="normal" fill="#111" >1.0</text>
<line x1="338.6" y1="419" x2="338.6" y2="421" stroke="#999" stroke-width="0.8"/>
<text x="338.6" y="429.4" font-size="10.5" text-anchor="middle" font-weight="normal" fill="#111" >1.0</text>
<text x="276.7" y="440.4" font-size="10.6" text-anchor="middle" font-weight="normal" fill="#111" >Threshold</text>
<text x="188.5" y="348" font-size="10.6" text-anchor="middle" font-weight="normal" fill="#111" transform="rotate(-90 188.5 348)">MCC</text>
<polyline points="214.60,397.50 214.53,395.88 214.44,394.27 214.38,392.65 214.88,391.04 214.70,389.43 214.65,387.81 214.45,386.19 214.92,384.58 214.49,382.96 214.57,381.35 214.85,379.74 214.99,378.13 215.26,376.51 215.07,374.90 215.27,373.28 215.26,371.67 215.10,370.05 215.12,368.44 214.54,366.82 214.69,365.20 214.53,363.59 215.32,361.98 215.21,360.36 215.14,358.75 214.83,357.13 214.93,355.52 214.77,353.90 215.21,352.29 215.55,350.68 214.95,349.06 214.74,347.44 214.87,345.83 215.05,344.21 215.20,342.60 215.61,340.91 215.59,339.21 215.33,337.50 215.06,335.79 215.12,334.09 215.22,332.39 215.84,330.71 215.62,329.00 215.70,327.30 216.39,325.59 216.57,323.80 216.71,322.01 216.70,320.20 217.38,318.46 218.37,316.84 218.80,315.00 218.97,312.85 219.46,310.78 220.30,308.80 221.21,307.46 222.04,306.07 222.90,304.70 224.52,303.47 226.40,302.70 227.81,301.23 229.50,300.10 230.78,298.72 232.76,298.36 234.18,297.18 235.60,296.00 237.39,296.01 239.10,295.66 240.69,294.79 242.45,294.67 244.08,293.98 245.80,293.70 247.47,293.78 249.12,293.60 250.68,292.77 252.31,292.46 254.00,292.70 256.13,293.10 258.10,294.00 259.80,293.99 261.49,293.72 263.18,293.31 264.91,293.96 266.61,293.84 268.30,293.50 270.31,294.22 272.30,295.00 274.31,295.02 276.07,296.19 278.07,296.31 280.00,296.70 281.83,296.79 283.51,297.48 285.20,298.10 286.89,298.30 288.58,298.61 290.30,298.34 291.99,298.56 293.71,298.25 295.40,298.60 297.12,298.54 298.76,299.30 300.51,298.99 302.23,298.91 303.89,299.52 305.60,299.60 307.47,299.65 309.26,300.09 311.01,300.69 312.80,301.10 314.29,301.82 315.80,302.51 317.30,303.22 318.90,303.70 320.46,304.81 322.18,305.69 323.35,307.31 325.00,308.30 326.58,308.79 327.75,309.94 329.10,310.80 330.17,312.18 330.97,313.76 332.10,315.10 332.31,316.92 333.13,318.60 333.17,320.45 333.70,322.20 333.95,323.94 334.56,325.59 335.26,327.22 335.01,329.09 335.70,330.72 336.20,332.40 336.86,334.04 336.97,335.76 336.57,337.57 337.51,339.16 337.63,340.88 337.80,342.60 337.65,344.22 337.73,345.82 338.01,347.41 338.03,349.02 338.77,350.57 338.83,352.17 338.15,353.83 338.42,355.42 338.80,357.00 339.20,358.63 339.17,360.26 338.98,361.89 338.34,363.51 338.96,365.15 338.54,366.77 338.29,368.40 338.53,370.03 338.26,371.66 338.84,373.30 338.92,374.93 339.02,376.56 338.34,378.18 338.91,379.82 338.11,381.44 338.33,383.07 338.78,384.70 338.21,386.33 338.77,387.96 338.44,389.59 338.78,391.22 338.15,392.84 338.04,394.47 338.00,396.10 338.81,397.74 338.02,399.36 338.27,400.99 338.02,402.62 338.29,404.25 338.16,405.88 338.17,407.51 337.97,409.14 338.60,410.77 338.20,412.40" fill="none" stroke="#ff1a1a" stroke-width="1.25" stroke-linejoin="round"/>
<polyline points="215.30,391.80 215.03,390.17 215.59,388.60 215.49,386.99 215.71,385.39 215.48,383.77 216.27,382.22 215.75,380.57 216.60,379.02 216.70,377.42 216.51,375.80 216.34,374.17 216.80,372.60 217.21,370.86 217.10,369.04 217.58,367.31 217.57,365.50 218.20,363.80 219.21,362.18 219.44,360.29 219.87,358.48 220.25,356.64 221.20,355.00 221.65,353.43 222.00,351.85 222.24,350.25 221.82,348.55 222.30,346.98 222.49,345.37 223.14,343.84 222.84,342.15 223.40,340.60 223.91,338.92 224.65,337.30 224.88,335.56 224.64,333.69 225.11,332.01 225.90,330.40 226.09,328.65 227.11,327.17 227.54,325.51 228.00,323.85 228.50,322.20 229.26,320.72 230.03,319.25 230.99,317.88 231.82,316.44 232.83,315.09 233.48,313.56 234.10,312.00 235.11,310.57 235.97,309.06 236.67,307.48 237.34,305.89 237.55,304.06 238.70,302.70 240.16,301.80 241.62,300.88 242.80,299.60 244.39,299.32 246.05,299.51 247.56,298.67 249.25,299.14 250.79,298.48 252.42,298.50 254.00,298.10 255.61,297.78 257.23,297.72 258.85,297.66 260.47,297.54 262.10,297.60 263.66,298.12 264.86,299.22 266.20,300.10 267.88,300.62 269.59,300.41 271.28,300.74 272.99,300.67 274.69,300.82 276.40,300.60 277.35,301.97 278.72,302.84 280.10,303.70 281.86,304.01 283.56,304.48 285.20,305.20 286.92,305.46 288.68,305.44 290.30,306.20 291.74,307.17 292.62,308.76 293.87,309.93 295.40,310.80 296.87,311.95 297.97,313.51 299.50,314.60 300.80,315.62 302.17,316.51 303.63,317.23 305.17,317.83 306.60,318.60 308.14,319.76 308.93,321.60 310.55,322.69 311.70,324.20 312.28,325.70 313.17,327.05 313.72,328.56 314.05,330.18 315.39,331.32 315.80,332.90 318.90,333.40 319.76,334.83 320.56,336.30 321.53,337.66 322.12,339.26 323.41,340.42 323.91,342.07 324.97,343.38 326.00,344.70 326.71,346.44 328.10,347.70 328.86,349.48 329.15,351.37 329.49,353.24 329.34,355.22 330.10,357.00 330.98,358.47 331.23,360.11 331.30,361.82 331.53,363.47 332.69,364.86 332.93,366.51 333.18,368.16 333.80,369.70 334.04,371.38 334.41,373.02 334.81,374.66 335.66,376.18 336.07,377.81 336.68,379.40 336.51,381.18 337.34,382.70 337.50,384.40 337.79,386.01 337.24,387.66 337.60,389.27 337.73,390.89 337.75,392.52 337.88,394.14 337.87,395.76 338.30,397.37 338.20,399.00" fill="none" stroke="#35cff8" stroke-width="1.25" stroke-linejoin="round"/>
<polyline points="215.10,400.50 214.88,398.85 215.05,397.24 215.18,395.62 215.66,394.05 215.63,392.42 215.77,390.80 216.28,389.23 216.88,387.66 216.80,386.03 216.80,384.40 216.86,382.77 217.57,381.24 217.30,379.55 217.50,377.94 217.94,376.37 218.30,374.79 218.81,373.23 218.86,371.59 219.38,370.03 219.08,368.34 219.70,366.80 220.69,365.25 220.82,363.38 221.87,361.85 221.82,359.91 223.12,358.47 223.24,356.60 224.10,355.00 224.85,353.55 225.24,351.99 225.57,350.42 225.67,348.79 225.88,347.18 226.47,345.68 227.53,344.32 227.32,342.60 228.20,341.18 228.50,339.60 229.07,338.09 229.64,336.58 229.73,334.91 230.20,333.37 230.66,331.82 231.50,330.40 232.71,328.95 233.05,327.07 234.08,325.54 234.84,323.87 235.60,322.20 236.68,320.52 237.85,318.90 239.09,317.34 240.70,316.10 242.40,315.34 243.56,313.77 245.51,313.37 246.80,312.00 248.09,310.77 249.66,309.89 250.69,308.35 252.43,307.67 253.49,306.16 255.00,305.20 256.77,306.30 258.39,307.62 260.10,308.80 261.49,307.83 263.06,307.29 264.78,307.10 266.20,306.20 267.86,306.01 269.51,306.09 271.17,306.44 272.82,305.95 274.48,305.92 276.13,305.95 277.79,306.10 279.44,306.08 281.10,306.20 282.58,307.00 284.18,307.54 285.56,308.55 287.40,308.56 288.71,309.75 290.30,310.30 291.66,311.83 293.40,312.90 295.27,313.75 296.90,315.00 298.64,315.45 300.01,316.59 301.68,317.15 303.08,318.25 304.60,319.10 305.38,320.57 306.77,321.63 307.68,323.01 308.35,324.56 309.51,325.77 310.40,327.16 311.18,328.64 312.35,329.84 313.32,331.18 314.04,332.70 314.89,334.12 315.80,335.50 316.89,337.14 318.50,338.27 319.90,339.60 320.77,341.00 321.14,342.57 321.19,344.24 321.90,345.70 322.43,347.33 322.76,349.04 323.27,350.68 323.94,352.27 325.16,353.65 325.04,355.52 326.00,357.00 326.22,358.59 326.71,360.14 327.01,361.72 326.63,363.40 327.44,364.90 327.80,366.47 327.87,368.08 327.90,369.70 328.04,371.45 328.93,372.96 329.20,374.66 330.27,376.12 330.44,377.85 331.06,379.45 331.65,381.06 331.76,382.81 332.40,384.40 333.24,385.82 334.16,387.20 334.18,389.02 335.30,390.30 335.32,392.02 335.59,393.73 335.74,395.45 335.16,397.17 335.29,398.88 335.30,400.60" fill="none" stroke="#ff6fd0" stroke-width="1.25" stroke-linejoin="round"/>
<polyline points="214.60,405.00 214.33,403.28 214.89,401.64 215.29,399.98 215.26,398.29 215.15,396.58 215.54,394.93 215.79,393.26 215.99,391.58 215.70,389.86 216.44,388.24 216.73,386.57 216.70,384.88 216.96,383.21 216.80,381.50 217.10,379.79 217.98,378.22 217.76,376.37 218.22,374.70 218.96,373.09 219.64,371.47 219.70,369.70 220.34,368.02 221.41,366.62 222.23,365.06 223.49,363.79 224.23,362.17 225.23,360.73 226.61,359.53 227.44,357.98 228.67,356.69 229.30,355.00 229.95,353.42 230.91,351.99 231.09,350.19 232.58,349.01 232.73,347.20 233.66,345.75 234.42,344.22 235.50,342.85 235.86,341.14 236.60,339.60 237.99,338.50 238.75,336.93 239.50,335.35 240.97,334.31 241.55,332.60 242.80,331.40 243.88,330.05 244.10,328.32 244.57,326.70 245.85,325.43 245.99,323.67 246.80,322.20 248.19,320.92 249.59,319.65 251.22,318.66 252.28,316.99 254.00,316.10 255.36,315.18 256.69,314.20 258.41,313.90 259.46,312.43 261.10,312.00 262.86,310.85 264.37,309.36 266.20,308.30 267.54,307.41 268.96,306.64 270.40,305.89 271.49,304.60 272.91,303.82 274.22,302.88 275.99,302.66 276.97,301.19 278.50,300.60 281.10,301.10 282.38,300.00 283.99,299.48 285.46,298.70 287.03,298.12 288.30,297.00 290.36,296.91 292.30,297.60 293.56,299.23 294.40,301.10 296.11,302.01 297.40,303.46 299.00,304.52 300.50,305.70 302.56,305.87 304.60,306.20 305.07,307.81 306.02,309.17 306.64,310.70 307.70,312.00 308.16,313.88 309.55,315.31 310.20,317.10 311.21,318.58 312.82,319.41 314.32,320.35 315.08,322.11 316.86,322.75 317.90,324.20 319.67,324.86 321.06,326.09 322.58,327.12 324.00,328.30 324.68,329.92 325.77,331.23 327.11,332.36 328.05,333.78 328.83,335.32 330.10,336.50 330.33,338.60 330.97,340.60 331.60,342.60 331.77,344.20 332.30,345.76 332.36,347.37 332.17,349.02 332.41,350.61 332.40,352.23 332.49,353.84 332.61,355.45 333.20,357.00 333.82,358.53 334.27,360.09 333.90,361.84 334.54,363.36 335.23,364.88 335.13,366.56 335.86,368.07 336.00,369.70 336.41,371.38 336.46,373.09 336.49,374.80 336.52,376.52 337.23,378.16 336.80,379.92 337.07,381.61 337.38,383.30 337.37,385.02 337.42,386.73 338.30,388.36 338.05,390.10 338.20,391.80 338.04,393.52 338.01,395.23 338.07,396.95 338.49,398.67 337.79,400.38 337.94,402.10 338.44,403.82 338.26,405.53 337.79,407.25 338.46,408.97 338.28,410.68 338.20,412.40" fill="none" stroke="#7fd655" stroke-width="1.25" stroke-linejoin="round"/>
<polyline points="214.60,412.40 215.02,410.55 214.96,408.70 214.36,406.85 214.60,405.00 216.23,404.95 217.78,404.36 219.42,404.37 221.04,404.20 222.55,403.37 224.16,403.20 225.76,402.93 227.37,402.72 228.93,402.26 230.55,402.09 232.19,402.07 233.79,401.82 235.34,401.26 237.01,401.45 238.66,401.51 240.21,400.93 241.80,400.60 243.40,400.06 245.11,399.96 246.69,399.31 248.26,398.67 249.96,398.53 251.49,397.71 253.27,397.88 254.79,397.02 256.50,396.90 258.12,396.32 259.91,396.38 261.51,395.74 263.18,395.34 264.78,394.71 266.43,394.24 268.10,393.84 269.70,393.20 271.40,392.58 272.48,391.04 274.10,390.30 276.09,390.30 278.01,389.66 280.00,389.60 281.60,389.25 283.26,389.62 284.86,389.29 286.49,389.38 288.11,389.27 289.70,388.80 290.88,390.09 292.36,391.07 293.40,392.50 294.63,391.17 296.35,390.59 297.80,389.60 299.45,390.39 301.30,390.61 303.08,391.03 304.81,391.58 306.48,392.32 308.10,393.20 308.68,394.76 309.98,395.96 310.54,397.53 311.25,399.03 311.80,400.60 313.15,401.78 314.47,403.00 316.43,403.31 317.84,404.40 319.10,405.70 319.97,407.42 321.13,408.92 322.89,409.94 323.94,411.53 325.00,413.10 326.65,413.12 328.30,412.94 329.95,413.03 331.60,413.08 333.25,412.88 334.90,412.70 336.55,412.73 338.20,413.10" fill="none" stroke="#1a8fd0" stroke-width="1.25" stroke-linejoin="round"/>
<polyline points="214.60,413.10 216.15,411.84 217.81,410.78 219.70,410.10 221.36,409.81 223.01,409.47 224.55,408.69 226.30,408.76 227.92,408.30 229.47,407.56 231.13,407.29 232.70,406.63 234.40,406.50 236.08,406.58 237.63,405.95 239.15,405.20 240.78,404.99 242.48,405.17 244.04,404.60 245.70,404.59 247.23,403.86 248.93,404.06 250.54,403.77 252.10,403.20 253.74,402.78 255.40,403.18 257.04,402.77 258.71,403.19 260.36,403.22 262.01,403.16 263.64,402.61 265.30,402.80 267.62,403.20 269.70,404.30 271.67,404.45 273.63,404.36 275.60,404.30 277.90,404.69 280.00,405.70 281.62,405.42 283.23,405.77 284.85,405.35 286.47,405.82 288.08,405.47 289.70,405.70 291.36,405.58 293.00,405.83 294.65,406.03 296.29,406.30 297.98,405.78 299.59,406.50 301.27,406.15 302.90,406.50 304.51,407.45 305.90,408.70 307.57,408.55 309.23,408.32 310.87,407.98 312.56,407.96 314.11,407.06 315.77,406.88 317.47,406.92 319.10,406.50 320.48,405.56 321.91,404.73 323.41,404.03 325.00,403.50 326.19,402.17 327.21,400.73 328.11,399.21 329.28,397.86 330.14,396.31 330.90,394.70 332.25,393.11 333.72,391.65 335.30,390.30 338.20,391.50 338.00,393.16 338.60,394.82 338.10,396.48 338.57,398.15 338.61,399.81 338.19,401.47 338.51,403.13 337.81,404.79 337.86,406.45 338.23,408.12 338.47,409.78 338.54,411.44 338.20,413.10" fill="none" stroke="#ffa36a" stroke-width="1.25" stroke-linejoin="round"/>
<text x="366.2" y="278.8" font-size="16" text-anchor="start" font-weight="bold" fill="#000" >d</text>
<line x1="379.2" y1="296.5" x2="731.8" y2="296.5" stroke="#222" stroke-width="1.0"/>
<line x1="379.2" y1="326.5" x2="731.8" y2="326.5" stroke="#222" stroke-width="1.0"/>
<line x1="379.2" y1="416.5" x2="731.8" y2="416.5" stroke="#222" stroke-width="1.0"/>
<text x="566.6" y="308.5" font-size="12.3" text-anchor="middle" font-weight="normal" fill="#111" >Average</text>
<text x="566.6" y="322.9" font-size="12.3" text-anchor="middle" font-weight="normal" fill="#111" >Precision</text>
<text x="676.6" y="316.2" font-size="12.3" text-anchor="middle" font-weight="normal" fill="#111" >Max MCC</text>
<line x1="387.2" y1="334.2" x2="419.4" y2="334.2" stroke="#ff1a1a" stroke-width="2.4"/>
<text x="428.3" y="338.5" font-size="12.3" text-anchor="start" font-weight="bold" fill="#000" >PDIVAS</text>
<text x="566.5" y="338.5" font-size="12.3" text-anchor="middle" font-weight="bold" fill="#000" >0.92</text>
<text x="676.8" y="338.5" font-size="12.3" text-anchor="middle" font-weight="bold" fill="#000" >0.88</text>
<line x1="387.2" y1="349.0" x2="419.4" y2="349.0" stroke="#35cff8" stroke-width="2.4"/>
<text x="428.3" y="353.3" font-size="12.3" text-anchor="start" font-weight="normal" fill="#1a1a1a" >SpliceAI</text>
<text x="566.5" y="353.3" font-size="12.3" text-anchor="middle" font-weight="normal" fill="#1a1a1a" >0.87</text>
<text x="676.8" y="353.3" font-size="12.3" text-anchor="middle" font-weight="normal" fill="#1a1a1a" >0.84</text>
<line x1="387.2" y1="363.8" x2="419.4" y2="363.8" stroke="#ff6fd0" stroke-width="2.4"/>
<text x="428.3" y="368.1" font-size="12.3" text-anchor="start" font-weight="normal" fill="#1a1a1a" >Pangolin</text>
<text x="566.5" y="368.1" font-size="12.3" text-anchor="middle" font-weight="normal" fill="#1a1a1a" >0.82</text>
<text x="676.8" y="368.1" font-size="12.3" text-anchor="middle" font-weight="normal" fill="#1a1a1a" >0.78</text>
<line x1="387.2" y1="378.6" x2="419.4" y2="378.6" stroke="#7fd655" stroke-width="2.4"/>
<text x="428.3" y="382.90000000000003" font-size="12.3" text-anchor="start" font-weight="normal" fill="#1a1a1a" >ConSpliceML</text>
<text x="566.5" y="382.90000000000003" font-size="12.3" text-anchor="middle" font-weight="normal" fill="#1a1a1a" >0.81</text>
<text x="676.8" y="382.90000000000003" font-size="12.3" text-anchor="middle" font-weight="normal" fill="#1a1a1a" >0.85</text>
<line x1="387.2" y1="393.4" x2="419.4" y2="393.4" stroke="#1a8fd0" stroke-width="2.4"/>
<text x="428.3" y="397.7" font-size="12.3" text-anchor="start" font-weight="normal" fill="#1a1a1a" >MaxEntScan</text>
<text x="566.5" y="397.7" font-size="12.3" text-anchor="middle" font-weight="normal" fill="#1a1a1a" >0.07</text>
<text x="676.8" y="397.7" font-size="12.3" text-anchor="middle" font-weight="normal" fill="#1a1a1a" >0.18</text>
<line x1="387.2" y1="408.2" x2="419.4" y2="408.2" stroke="#ffa36a" stroke-width="2.4"/>
<text x="428.3" y="412.5" font-size="12.3" text-anchor="start" font-weight="normal" fill="#1a1a1a" >CADD-Splice</text>
<text x="566.5" y="412.5" font-size="12.3" text-anchor="middle" font-weight="normal" fill="#1a1a1a" >0.05</text>
<text x="676.8" y="412.5" font-size="12.3" text-anchor="middle" font-weight="normal" fill="#1a1a1a" >0.16</text>
</svg>
</body></html>
